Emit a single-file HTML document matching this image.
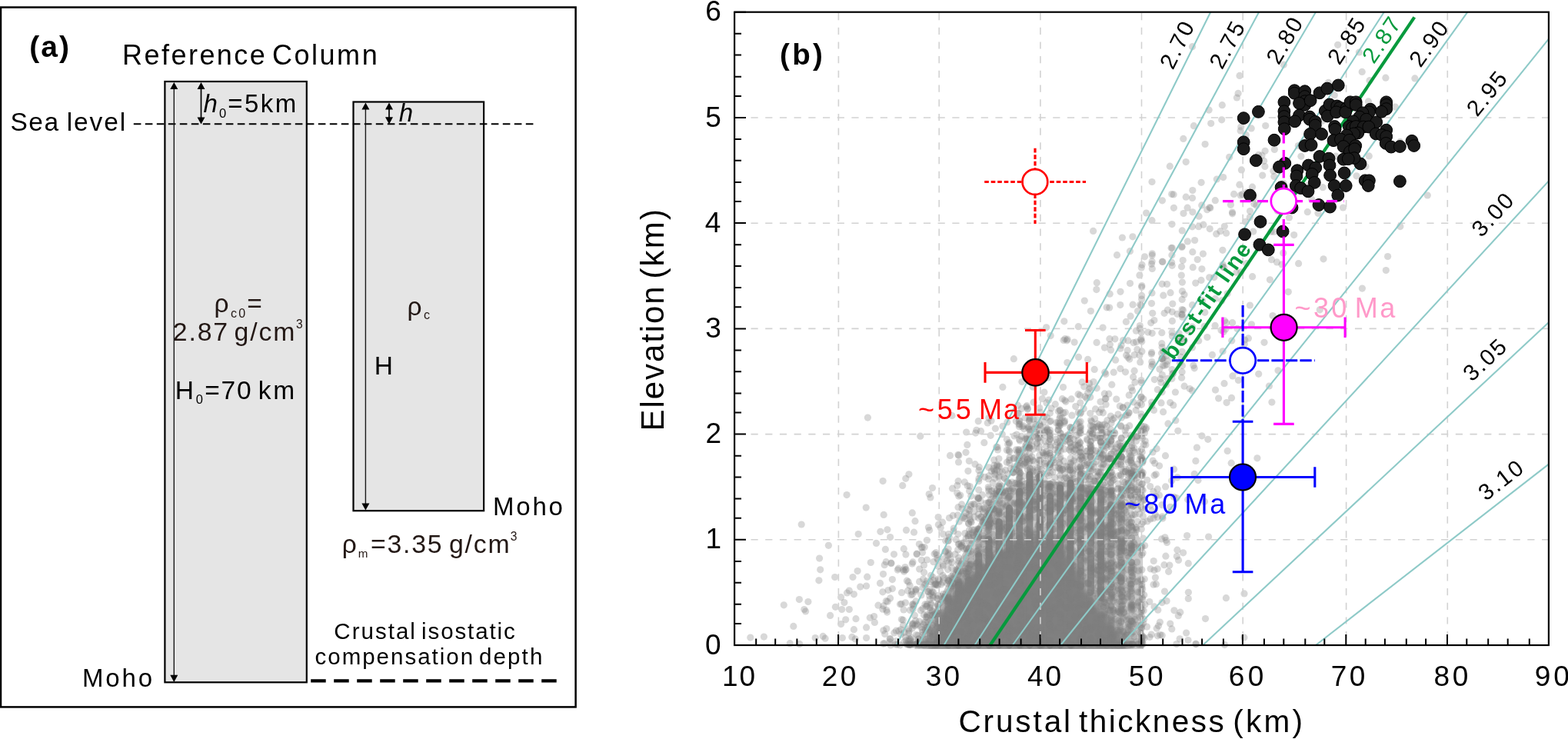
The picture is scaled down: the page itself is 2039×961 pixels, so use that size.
<!DOCTYPE html>
<html lang="en"><head><meta charset="utf-8"><title>Crustal isostasy: elevation vs crustal thickness</title>
<style>html,body{margin:0;padding:0;background:#fff;overflow:hidden}svg{display:block}text{white-space:pre}</style></head>
<body>
<svg width="2039" height="961" viewBox="0 0 2039 961" font-family='"Liberation Sans", sans-serif'>
<defs><filter id="bl" x="-10%" y="-10%" width="120%" height="120%"><feGaussianBlur stdDeviation="5"/></filter><clipPath id="cp"><rect x="950" y="10" width="1070" height="834"/></clipPath></defs>
<rect width="2039" height="961" fill="#fff"/>
<g id="panel-a">
<rect x="1" y="9.5" width="747.6" height="909.9" fill="none" stroke="#000" stroke-width="2.5"/>
<g fill="#e5e5e5" stroke="#000" stroke-width="2.2"><rect x="214.4" y="106" width="184.4" height="781.3"/><rect x="459.5" y="132.5" width="169.6" height="531.7"/></g>
<path d="M173.8 161.3H698.5" stroke="#000" stroke-width="2" stroke-dasharray="9.6 5.4" fill="none"/>
<path d="M226.3 112V880M475.4 139V656" stroke="#1a1a1a" stroke-width="1.4" fill="none"/>
<path d="M261.5 112V155M506 139V155" stroke="#000" stroke-width="1.7" fill="none"/>
<path d="M221.3 116.1L231.3 116.1L226.3 106.9ZM221.3 877.8L231.3 877.8L226.3 887.0ZM256.5 116.1L266.5 116.1L261.5 106.9ZM256.5 152.4L266.5 152.4L261.5 161.6ZM470.4 142.6L480.4 142.6L475.4 133.4ZM470.4 654.4L480.4 654.4L475.4 663.6ZM501.0 142.6L511.0 142.6L506.0 133.4ZM501.0 152.3L511.0 152.3L506.0 161.5Z" fill="#000"/>
<path d="M404.2 885.3H724" stroke="#000" stroke-width="4.2" stroke-dasharray="19.5 10.5" fill="none"/>
</g>
<g id="panel-b">
<g clip-path="url(#cp)"><path filter="url(#bl2)" d="M1188.1 845.9L1239.7 743L1293.9 640.1L1338.9 622.2L1439.5 633.2L1466 660.6L1485.9 708.7L1487.2 845.9Z" fill="#808080" fill-opacity=".42"/><path filter="url(#bl)" d="M1202.6 845.9L1222.5 797.8L1246.3 756.7L1272.8 740.2L1299.2 715.5L1325.7 701.8L1378.7 701.8L1394.5 729.2L1411.7 763.5L1431.6 789.6L1451.5 814.3L1470 845.9Z" fill="#808080"/></g>
<path d="M1246.3 760.1V839M1259.5 753.9V839M1272.8 722.4V839M1286 701.8V839M1299.2 678.5V839M1312.5 660.6V839M1325.7 638.7V839M1338.9 616.7V839M1352.2 619.5V839M1365.4 645.5V839M1378.7 634.6V839M1391.9 627.7V839" stroke="#808080" stroke-opacity=".88" stroke-width="9" stroke-linecap="round" fill="none"/>
<path d="M1405.1 616.7V763.5M1418.4 642.8V770.4M1431.6 640.1V777.3" stroke="#808080" stroke-opacity=".75" stroke-width="9" stroke-linecap="round" fill="none"/>
<path d="M1444.8 640.1V763.5M1458.1 646.9V756.7M1233.1 777.3V839" stroke="#808080" stroke-opacity=".45" stroke-width="9" stroke-linecap="round" fill="none"/>
<g class="s" fill="#7d7d7d" fill-opacity=".3"><circle cx="975.8" cy="829.1" r="4.6"/><circle cx="993.4" cy="828.1" r="4.6"/><circle cx="1031.8" cy="814.4" r="4.6"/><circle cx="1019.3" cy="786.8" r="4.6"/><circle cx="1039.4" cy="779.6" r="4.6"/><circle cx="1050.9" cy="782.5" r="4.6"/><circle cx="1045.8" cy="792.5" r="4.6"/><circle cx="1047.6" cy="795" r="4.6"/><circle cx="1042.2" cy="682" r="4.6"/><circle cx="1060.2" cy="829.5" r="4.6"/><circle cx="1070.2" cy="827.4" r="4.6"/><circle cx="1073.1" cy="830.2" r="4.6"/><circle cx="1027.2" cy="836.7" r="4.6"/><circle cx="1039.7" cy="837.4" r="4.6"/><circle cx="1065.6" cy="726.1" r="4.6"/><circle cx="1066.7" cy="740.8" r="4.6"/><circle cx="1064.9" cy="754.8" r="4.6"/><circle cx="1077.4" cy="709.3" r="4.6"/><circle cx="1085.7" cy="750.5" r="4.6"/><circle cx="1101.1" cy="643.6" r="4.6"/><circle cx="1093.6" cy="776.7" r="4.6"/><circle cx="1086.4" cy="789.3" r="4.6"/><circle cx="1079.6" cy="800.4" r="4.6"/><circle cx="1094.7" cy="792.5" r="4.6"/><circle cx="1104.3" cy="792.5" r="4.6"/><circle cx="1097.9" cy="783.6" r="4.6"/><circle cx="1101.5" cy="771" r="4.6"/><circle cx="1104.3" cy="768.1" r="4.6"/><circle cx="1110.4" cy="772.8" r="4.6"/><circle cx="1109" cy="750.5" r="4.6"/><circle cx="1115.1" cy="742.6" r="4.6"/><circle cx="1118.7" cy="763.1" r="4.6"/><circle cx="1126.6" cy="762" r="4.6"/><circle cx="1127.7" cy="750.2" r="4.6"/><circle cx="1132.3" cy="731.5" r="4.6"/><circle cx="1116.2" cy="694.5" r="4.6"/><circle cx="1126.2" cy="660.1" r="4.6"/><circle cx="1128.4" cy="543.1" r="4.6"/><circle cx="1093.6" cy="811.6" r="4.6"/><circle cx="1099.7" cy="805.8" r="4.6"/><circle cx="1113" cy="804.7" r="4.6"/><circle cx="1095.4" cy="829.5" r="4.6"/><circle cx="1107.9" cy="828.4" r="4.6"/><circle cx="1110.4" cy="818.7" r="4.6"/><circle cx="1112.2" cy="830.9" r="4.6"/><circle cx="1126.6" cy="815.9" r="4.6"/><circle cx="1126.6" cy="829.5" r="4.6"/><circle cx="1131.3" cy="803.3" r="4.6"/><circle cx="1136.6" cy="801.5" r="4.6"/><circle cx="1137.4" cy="809.4" r="4.6"/><circle cx="1142" cy="787.2" r="4.6"/><circle cx="1144.5" cy="758.4" r="4.6"/><circle cx="1148.5" cy="746.6" r="4.6"/><circle cx="1139.5" cy="706.4" r="4.6"/><circle cx="1144.9" cy="691.3" r="4.6"/><circle cx="1149.2" cy="669.4" r="4.6"/><circle cx="1148.1" cy="625.6" r="4.6"/><circle cx="1550.5" cy="60.7" r="4.6"/><circle cx="1739.6" cy="58.3" r="4.6"/><circle cx="1767.4" cy="68" r="4.6"/><circle cx="1669.3" cy="84.2" r="4.6"/><circle cx="1771.2" cy="93.4" r="4.6"/><circle cx="1612" cy="98.4" r="4.6"/><circle cx="1781" cy="104.7" r="4.6"/><circle cx="1801.9" cy="101.2" r="4.6"/><circle cx="1839.9" cy="101.9" r="4.6"/><circle cx="1727.4" cy="107.4" r="4.6"/><circle cx="1610.1" cy="121.4" r="4.6"/><circle cx="1608.4" cy="127" r="4.6"/><circle cx="1735.3" cy="123.7" r="4.6"/><circle cx="1779.4" cy="131.9" r="4.6"/><circle cx="1589.3" cy="136.7" r="4.6"/><circle cx="1768.3" cy="140.8" r="4.6"/><circle cx="1814.4" cy="139" r="4.6"/><circle cx="1572.1" cy="143.1" r="4.6"/><circle cx="1690.9" cy="144" r="4.6"/><circle cx="1588.7" cy="155.8" r="4.6"/><circle cx="1719.1" cy="157.4" r="4.6"/><circle cx="1552.4" cy="163.7" r="4.6"/><circle cx="1574.7" cy="160.5" r="4.6"/><circle cx="1613.7" cy="165" r="4.6"/><circle cx="1645.7" cy="163.5" r="4.6"/><circle cx="1675.5" cy="164.4" r="4.6"/><circle cx="1613.1" cy="169.9" r="4.6"/><circle cx="1627.2" cy="166.9" r="4.6"/><circle cx="1620.2" cy="175.4" r="4.6"/><circle cx="1739.4" cy="177.1" r="4.6"/><circle cx="1538.8" cy="180.4" r="4.6"/><circle cx="1567.1" cy="187.5" r="4.6"/><circle cx="1688.3" cy="189.5" r="4.6"/><circle cx="1820.6" cy="184.4" r="4.6"/><circle cx="1657.3" cy="194.5" r="4.6"/><circle cx="1636.7" cy="201.3" r="4.6"/><circle cx="1645.1" cy="196.3" r="4.6"/><circle cx="1749.2" cy="200.8" r="4.6"/><circle cx="1598.6" cy="204.3" r="4.6"/><circle cx="1641" cy="202.2" r="4.6"/><circle cx="1691.9" cy="203.3" r="4.6"/><circle cx="1737.1" cy="203.1" r="4.6"/><circle cx="1748.9" cy="203.8" r="4.6"/><circle cx="1780.3" cy="202.9" r="4.6"/><circle cx="1542.2" cy="210.6" r="4.6"/><circle cx="1632.5" cy="208.7" r="4.6"/><circle cx="1643.6" cy="209.3" r="4.6"/><circle cx="1670.6" cy="209.7" r="4.6"/><circle cx="1521.3" cy="216.2" r="4.6"/><circle cx="1644.9" cy="216.5" r="4.6"/><circle cx="1775.9" cy="216.6" r="4.6"/><circle cx="1614.4" cy="220.9" r="4.6"/><circle cx="1655.8" cy="222.3" r="4.6"/><circle cx="1709.2" cy="221.2" r="4.6"/><circle cx="1590.7" cy="230.6" r="4.6"/><circle cx="1641.7" cy="228.1" r="4.6"/><circle cx="1656.8" cy="229.5" r="4.6"/><circle cx="1764" cy="228.8" r="4.6"/><circle cx="1498" cy="236.5" r="4.6"/><circle cx="1562.1" cy="237.3" r="4.6"/><circle cx="1582.3" cy="233" r="4.6"/><circle cx="1611.9" cy="240.2" r="4.6"/><circle cx="1628.5" cy="243.2" r="4.6"/><circle cx="1669.1" cy="238.4" r="4.6"/><circle cx="1699.9" cy="241.7" r="4.6"/><circle cx="1720.2" cy="243.7" r="4.6"/><circle cx="1550.8" cy="247.6" r="4.6"/><circle cx="1738.8" cy="244.5" r="4.6"/><circle cx="1523.7" cy="252.5" r="4.6"/><circle cx="1526.1" cy="252.9" r="4.6"/><circle cx="1604.6" cy="252.4" r="4.6"/><circle cx="1613.2" cy="253.9" r="4.6"/><circle cx="1615.6" cy="252.7" r="4.6"/><circle cx="1621.3" cy="250" r="4.6"/><circle cx="1856.3" cy="254" r="4.6"/><circle cx="1511.4" cy="260.8" r="4.6"/><circle cx="1542.2" cy="256.2" r="4.6"/><circle cx="1550.5" cy="257.5" r="4.6"/><circle cx="1580.3" cy="260.7" r="4.6"/><circle cx="1630.1" cy="258.1" r="4.6"/><circle cx="1705.6" cy="259" r="4.6"/><circle cx="1562.7" cy="266.9" r="4.6"/><circle cx="1600.4" cy="266.3" r="4.6"/><circle cx="1630.8" cy="265.2" r="4.6"/><circle cx="1633.9" cy="267.1" r="4.6"/><circle cx="1526.4" cy="270.3" r="4.6"/><circle cx="1544.1" cy="270.2" r="4.6"/><circle cx="1569.7" cy="272.7" r="4.6"/><circle cx="1572.9" cy="269.8" r="4.6"/><circle cx="1573.9" cy="270.4" r="4.6"/><circle cx="1746.5" cy="270" r="4.6"/><circle cx="1490.6" cy="277" r="4.6"/><circle cx="1539" cy="277.5" r="4.6"/><circle cx="1550.9" cy="275.8" r="4.6"/><circle cx="1602.5" cy="276.1" r="4.6"/><circle cx="1602.6" cy="277.8" r="4.6"/><circle cx="1625.5" cy="274.6" r="4.6"/><circle cx="1661.3" cy="274.2" r="4.6"/><circle cx="1700.3" cy="275.7" r="4.6"/><circle cx="1714" cy="277.3" r="4.6"/><circle cx="1559.1" cy="281.2" r="4.6"/><circle cx="1625.3" cy="282.4" r="4.6"/><circle cx="1676.4" cy="283" r="4.6"/><circle cx="1498" cy="286.7" r="4.6"/><circle cx="1524" cy="291.6" r="4.6"/><circle cx="1619.5" cy="288.3" r="4.6"/><circle cx="1550.4" cy="294.8" r="4.6"/><circle cx="1558.7" cy="294.7" r="4.6"/><circle cx="1564.9" cy="292.2" r="4.6"/><circle cx="1573.2" cy="297.6" r="4.6"/><circle cx="1592.3" cy="294.3" r="4.6"/><circle cx="1820.8" cy="294.6" r="4.6"/><circle cx="1421.6" cy="300.4" r="4.6"/><circle cx="1537.3" cy="299.9" r="4.6"/><circle cx="1586.9" cy="300.7" r="4.6"/><circle cx="1594.6" cy="303.2" r="4.6"/><circle cx="1629.7" cy="301.1" r="4.6"/><circle cx="1656.4" cy="301.4" r="4.6"/><circle cx="1652.8" cy="301.3" r="4.6"/><circle cx="1459.4" cy="309" r="4.6"/><circle cx="1472.9" cy="307.8" r="4.6"/><circle cx="1581.7" cy="304.2" r="4.6"/><circle cx="1682.7" cy="305.6" r="4.6"/><circle cx="1544.3" cy="313.9" r="4.6"/><circle cx="1553.6" cy="312.5" r="4.6"/><circle cx="1537.1" cy="320.5" r="4.6"/><circle cx="1536.8" cy="321.5" r="4.6"/><circle cx="1469.4" cy="326.7" r="4.6"/><circle cx="1523.1" cy="322.6" r="4.6"/><circle cx="1524.3" cy="322.3" r="4.6"/><circle cx="1550.8" cy="327.7" r="4.6"/><circle cx="1589.9" cy="325.3" r="4.6"/><circle cx="1452.5" cy="331.7" r="4.6"/><circle cx="1498.2" cy="331.9" r="4.6"/><circle cx="1498.3" cy="329.8" r="4.6"/><circle cx="1523.9" cy="331.7" r="4.6"/><circle cx="1564.4" cy="330.1" r="4.6"/><circle cx="1668.7" cy="328.9" r="4.6"/><circle cx="1804.6" cy="333.5" r="4.6"/><circle cx="1488.5" cy="333.8" r="4.6"/><circle cx="1538.2" cy="338.6" r="4.6"/><circle cx="1557.2" cy="337.5" r="4.6"/><circle cx="1653.5" cy="337.7" r="4.6"/><circle cx="1721" cy="336.8" r="4.6"/><circle cx="1485" cy="344.3" r="4.6"/><circle cx="1498.1" cy="339.9" r="4.6"/><circle cx="1497.5" cy="343.3" r="4.6"/><circle cx="1511.4" cy="340.2" r="4.6"/><circle cx="1511.9" cy="340.5" r="4.6"/><circle cx="1523.6" cy="341.2" r="4.6"/><circle cx="1524.2" cy="345.3" r="4.6"/><circle cx="1590.1" cy="344.1" r="4.6"/><circle cx="1620.9" cy="342.7" r="4.6"/><circle cx="1660.5" cy="340.9" r="4.6"/><circle cx="1667" cy="343.9" r="4.6"/><circle cx="1688.6" cy="342.7" r="4.6"/><circle cx="1484.3" cy="347.9" r="4.6"/><circle cx="1498.3" cy="349.4" r="4.6"/><circle cx="1536.5" cy="346.8" r="4.6"/><circle cx="1551.2" cy="347.7" r="4.6"/><circle cx="1562.9" cy="349.8" r="4.6"/><circle cx="1589.9" cy="346.8" r="4.6"/><circle cx="1591.8" cy="347.9" r="4.6"/><circle cx="1802.3" cy="351.5" r="4.6"/><circle cx="1608.1" cy="354.2" r="4.6"/><circle cx="1613.7" cy="353.9" r="4.6"/><circle cx="1481.9" cy="357.9" r="4.6"/><circle cx="1536.3" cy="358" r="4.6"/><circle cx="1572.7" cy="360.8" r="4.6"/><circle cx="1578.9" cy="360.6" r="4.6"/><circle cx="1628.6" cy="359.7" r="4.6"/><circle cx="1426.3" cy="367.7" r="4.6"/><circle cx="1469.5" cy="368.5" r="4.6"/><circle cx="1511.2" cy="369.3" r="4.6"/><circle cx="1517.5" cy="369.5" r="4.6"/><circle cx="1537.4" cy="367.1" r="4.6"/><circle cx="1554.7" cy="368.1" r="4.6"/><circle cx="1562" cy="364.4" r="4.6"/><circle cx="1651.4" cy="363.8" r="4.6"/><circle cx="1484.7" cy="373.3" r="4.6"/><circle cx="1484.8" cy="371.5" r="4.6"/><circle cx="1771.4" cy="375.1" r="4.6"/><circle cx="1425.8" cy="376.6" r="4.6"/><circle cx="1457" cy="379.3" r="4.6"/><circle cx="1498" cy="380.9" r="4.6"/><circle cx="1522" cy="380.7" r="4.6"/><circle cx="1537.4" cy="378.7" r="4.6"/><circle cx="1675.3" cy="379.6" r="4.6"/><circle cx="1443.2" cy="382.2" r="4.6"/><circle cx="1484.6" cy="384.4" r="4.6"/><circle cx="1512.8" cy="384.2" r="4.6"/><circle cx="1540" cy="383" r="4.6"/><circle cx="1596.2" cy="381.8" r="4.6"/><circle cx="1410.3" cy="391.1" r="4.6"/><circle cx="1484.6" cy="389.1" r="4.6"/><circle cx="1537.2" cy="389.4" r="4.6"/><circle cx="1563.6" cy="390.9" r="4.6"/><circle cx="1580.3" cy="388.4" r="4.6"/><circle cx="1588.8" cy="390.9" r="4.6"/><circle cx="1456.8" cy="396.6" r="4.6"/><circle cx="1473.1" cy="396.2" r="4.6"/><circle cx="1482.6" cy="396.3" r="4.6"/><circle cx="1484.1" cy="397.2" r="4.6"/><circle cx="1497.5" cy="394.6" r="4.6"/><circle cx="1524.8" cy="395.1" r="4.6"/><circle cx="1550.5" cy="396.7" r="4.6"/><circle cx="1625.4" cy="397" r="4.6"/><circle cx="1418.4" cy="404.5" r="4.6"/><circle cx="1439.1" cy="399.8" r="4.6"/><circle cx="1442.7" cy="400.1" r="4.6"/><circle cx="1479.5" cy="404.5" r="4.6"/><circle cx="1518.4" cy="403.1" r="4.6"/><circle cx="1524.2" cy="405.6" r="4.6"/><circle cx="1537.1" cy="402.5" r="4.6"/><circle cx="1538.5" cy="403.3" r="4.6"/><circle cx="1716.3" cy="402.8" r="4.6"/><circle cx="1470.1" cy="411.2" r="4.6"/><circle cx="1498.7" cy="407.3" r="4.6"/><circle cx="1514.1" cy="407.3" r="4.6"/><circle cx="1530.9" cy="408.3" r="4.6"/><circle cx="1537" cy="408.7" r="4.6"/><circle cx="1537.1" cy="409.2" r="4.6"/><circle cx="1566.8" cy="406.3" r="4.6"/><circle cx="1655" cy="410.5" r="4.6"/><circle cx="1500.9" cy="416.5" r="4.6"/><circle cx="1524.4" cy="417.4" r="4.6"/><circle cx="1537.5" cy="412.2" r="4.6"/><circle cx="1592.4" cy="417.1" r="4.6"/><circle cx="1383.8" cy="417.8" r="4.6"/><circle cx="1464.4" cy="418.4" r="4.6"/><circle cx="1482.3" cy="423.5" r="4.6"/><circle cx="1496.7" cy="419.8" r="4.6"/><circle cx="1580.1" cy="423.4" r="4.6"/><circle cx="1594.6" cy="419.7" r="4.6"/><circle cx="1602.6" cy="419.7" r="4.6"/><circle cx="1627.4" cy="421.8" r="4.6"/><circle cx="1360.6" cy="425.8" r="4.6"/><circle cx="1402.3" cy="424.7" r="4.6"/><circle cx="1434.1" cy="426.1" r="4.6"/><circle cx="1482.1" cy="427.2" r="4.6"/><circle cx="1550.5" cy="425.2" r="4.6"/><circle cx="1566.2" cy="424.3" r="4.6"/><circle cx="1588" cy="429.4" r="4.6"/><circle cx="1593.7" cy="428.1" r="4.6"/><circle cx="1608.9" cy="427.4" r="4.6"/><circle cx="1477.4" cy="430.2" r="4.6"/><circle cx="1484.2" cy="432.2" r="4.6"/><circle cx="1492.9" cy="432.1" r="4.6"/><circle cx="1498.2" cy="433.3" r="4.6"/><circle cx="1510.8" cy="432.7" r="4.6"/><circle cx="1524.1" cy="432.2" r="4.6"/><circle cx="1533.1" cy="433.6" r="4.6"/><circle cx="1544.2" cy="429.8" r="4.6"/><circle cx="1591.1" cy="431.5" r="4.6"/><circle cx="1366.2" cy="436.6" r="4.6"/><circle cx="1384.9" cy="440.7" r="4.6"/><circle cx="1388.1" cy="441.2" r="4.6"/><circle cx="1442.9" cy="440.7" r="4.6"/><circle cx="1449.9" cy="440.8" r="4.6"/><circle cx="1484" cy="440.4" r="4.6"/><circle cx="1524.4" cy="437.1" r="4.6"/><circle cx="1532.2" cy="440.2" r="4.6"/><circle cx="1537.2" cy="440.4" r="4.6"/><circle cx="1569.9" cy="438.6" r="4.6"/><circle cx="1623.4" cy="439.9" r="4.6"/><circle cx="1383.1" cy="442.5" r="4.6"/><circle cx="1387.4" cy="442.8" r="4.6"/><circle cx="1397.1" cy="445.1" r="4.6"/><circle cx="1426.1" cy="445.4" r="4.6"/><circle cx="1460.5" cy="442.6" r="4.6"/><circle cx="1466.9" cy="442.9" r="4.6"/><circle cx="1474.1" cy="445.7" r="4.6"/><circle cx="1477.6" cy="444.8" r="4.6"/><circle cx="1483.5" cy="442.1" r="4.6"/><circle cx="1484.8" cy="444.1" r="4.6"/><circle cx="1510.8" cy="446.7" r="4.6"/><circle cx="1532" cy="443.8" r="4.6"/><circle cx="1540.3" cy="442.9" r="4.6"/><circle cx="1558.7" cy="443.2" r="4.6"/><circle cx="1601.7" cy="443" r="4.6"/><circle cx="1618.7" cy="442.1" r="4.6"/><circle cx="1618.3" cy="447.6" r="4.6"/><circle cx="1644" cy="445.3" r="4.6"/><circle cx="1436.4" cy="452.1" r="4.6"/><circle cx="1443.4" cy="448" r="4.6"/><circle cx="1458.1" cy="449" r="4.6"/><circle cx="1456.9" cy="453.2" r="4.6"/><circle cx="1511.1" cy="451.5" r="4.6"/><circle cx="1550.4" cy="451.9" r="4.6"/><circle cx="1444.5" cy="455.2" r="4.6"/><circle cx="1466.2" cy="455.7" r="4.6"/><circle cx="1478.8" cy="454.4" r="4.6"/><circle cx="1484.9" cy="456.9" r="4.6"/><circle cx="1497.6" cy="458.3" r="4.6"/><circle cx="1512.7" cy="457" r="4.6"/><circle cx="1510.5" cy="459.2" r="4.6"/><circle cx="1516.3" cy="456.6" r="4.6"/><circle cx="1537.3" cy="457.3" r="4.6"/><circle cx="1590.1" cy="456.8" r="4.6"/><circle cx="1402.5" cy="464.4" r="4.6"/><circle cx="1464.6" cy="462" r="4.6"/><circle cx="1466.9" cy="464.8" r="4.6"/><circle cx="1475.1" cy="461.6" r="4.6"/><circle cx="1481.9" cy="462.1" r="4.6"/><circle cx="1497.4" cy="460.3" r="4.6"/><circle cx="1517.7" cy="462" r="4.6"/><circle cx="1535.8" cy="464.4" r="4.6"/><circle cx="1576.4" cy="461.4" r="4.6"/><circle cx="1318.3" cy="466.7" r="4.6"/><circle cx="1387.8" cy="471.5" r="4.6"/><circle cx="1414.6" cy="467.4" r="4.6"/><circle cx="1450.6" cy="468.2" r="4.6"/><circle cx="1468.8" cy="467.1" r="4.6"/><circle cx="1482.7" cy="470.9" r="4.6"/><circle cx="1497.8" cy="470.6" r="4.6"/><circle cx="1510.9" cy="466.6" r="4.6"/><circle cx="1511.4" cy="466.4" r="4.6"/><circle cx="1511.1" cy="466.7" r="4.6"/><circle cx="1512.9" cy="465.9" r="4.6"/><circle cx="1518.5" cy="469.6" r="4.6"/><circle cx="1614.9" cy="468" r="4.6"/><circle cx="1498.7" cy="473.8" r="4.6"/><circle cx="1497.6" cy="476.5" r="4.6"/><circle cx="1512.3" cy="475.3" r="4.6"/><circle cx="1514.7" cy="475.3" r="4.6"/><circle cx="1517.3" cy="474.1" r="4.6"/><circle cx="1534.3" cy="471.8" r="4.6"/><circle cx="1537.4" cy="475.4" r="4.6"/><circle cx="1551.9" cy="475.3" r="4.6"/><circle cx="1349.8" cy="479.4" r="4.6"/><circle cx="1423.2" cy="480.4" r="4.6"/><circle cx="1456.9" cy="479.4" r="4.6"/><circle cx="1475.1" cy="482.2" r="4.6"/><circle cx="1507.9" cy="480.1" r="4.6"/><circle cx="1524" cy="480.5" r="4.6"/><circle cx="1553.2" cy="478.8" r="4.6"/><circle cx="1609.4" cy="482.5" r="4.6"/><circle cx="1662" cy="481.8" r="4.6"/><circle cx="1437.9" cy="486.5" r="4.6"/><circle cx="1436.7" cy="484.2" r="4.6"/><circle cx="1448.2" cy="484.2" r="4.6"/><circle cx="1463.5" cy="483.8" r="4.6"/><circle cx="1511.3" cy="487.6" r="4.6"/><circle cx="1524.4" cy="486.5" r="4.6"/><circle cx="1525.6" cy="485.4" r="4.6"/><circle cx="1537.1" cy="483.7" r="4.6"/><circle cx="1602.9" cy="488.9" r="4.6"/><circle cx="1636.7" cy="486.3" r="4.6"/><circle cx="1362.5" cy="491.2" r="4.6"/><circle cx="1473.6" cy="490.3" r="4.6"/><circle cx="1484" cy="494.6" r="4.6"/><circle cx="1501.3" cy="493.6" r="4.6"/><circle cx="1509.3" cy="492.6" r="4.6"/><circle cx="1518.4" cy="492.3" r="4.6"/><circle cx="1523.9" cy="492.5" r="4.6"/><circle cx="1536.6" cy="491.2" r="4.6"/><circle cx="1610.4" cy="494.5" r="4.6"/><circle cx="1328.9" cy="496.5" r="4.6"/><circle cx="1407.2" cy="496.9" r="4.6"/><circle cx="1416.5" cy="498.5" r="4.6"/><circle cx="1422" cy="496.6" r="4.6"/><circle cx="1445.8" cy="500.2" r="4.6"/><circle cx="1475.9" cy="497.2" r="4.6"/><circle cx="1484.3" cy="497.6" r="4.6"/><circle cx="1509.8" cy="497.4" r="4.6"/><circle cx="1516.4" cy="500.2" r="4.6"/><circle cx="1592" cy="498.7" r="4.6"/><circle cx="1303.9" cy="503.4" r="4.6"/><circle cx="1343.1" cy="503.2" r="4.6"/><circle cx="1382.5" cy="503.6" r="4.6"/><circle cx="1409.7" cy="502.8" r="4.6"/><circle cx="1416.5" cy="506" r="4.6"/><circle cx="1417.6" cy="504.1" r="4.6"/><circle cx="1426.2" cy="504.8" r="4.6"/><circle cx="1471.3" cy="504" r="4.6"/><circle cx="1505.3" cy="506.7" r="4.6"/><circle cx="1540.1" cy="502.2" r="4.6"/><circle cx="1547.1" cy="505.5" r="4.6"/><circle cx="1580.5" cy="507.1" r="4.6"/><circle cx="1650.4" cy="502" r="4.6"/><circle cx="1357.9" cy="510.1" r="4.6"/><circle cx="1402.1" cy="512.7" r="4.6"/><circle cx="1414.7" cy="510.8" r="4.6"/><circle cx="1436.3" cy="511.9" r="4.6"/><circle cx="1441.8" cy="512.2" r="4.6"/><circle cx="1472.6" cy="508" r="4.6"/><circle cx="1511.1" cy="509.8" r="4.6"/><circle cx="1528.4" cy="510" r="4.6"/><circle cx="1550.4" cy="507.9" r="4.6"/><circle cx="1355.4" cy="518.6" r="4.6"/><circle cx="1381.4" cy="518.7" r="4.6"/><circle cx="1393.1" cy="518.9" r="4.6"/><circle cx="1404.5" cy="514.2" r="4.6"/><circle cx="1413" cy="518" r="4.6"/><circle cx="1411" cy="515.8" r="4.6"/><circle cx="1417.8" cy="516.6" r="4.6"/><circle cx="1437.3" cy="518.7" r="4.6"/><circle cx="1438" cy="518.2" r="4.6"/><circle cx="1451.7" cy="519" r="4.6"/><circle cx="1468.2" cy="513.9" r="4.6"/><circle cx="1484.2" cy="516" r="4.6"/><circle cx="1483.6" cy="516.6" r="4.6"/><circle cx="1486.8" cy="518.8" r="4.6"/><circle cx="1584.6" cy="518.1" r="4.6"/><circle cx="1601.5" cy="517.4" r="4.6"/><circle cx="1344" cy="523.2" r="4.6"/><circle cx="1361" cy="523.9" r="4.6"/><circle cx="1363.8" cy="520" r="4.6"/><circle cx="1384.7" cy="520.5" r="4.6"/><circle cx="1385.9" cy="522.3" r="4.6"/><circle cx="1404.8" cy="523.8" r="4.6"/><circle cx="1431" cy="522.5" r="4.6"/><circle cx="1473.6" cy="522.8" r="4.6"/><circle cx="1482.1" cy="523.8" r="4.6"/><circle cx="1497.6" cy="523.1" r="4.6"/><circle cx="1510" cy="523.9" r="4.6"/><circle cx="1521.7" cy="523.6" r="4.6"/><circle cx="1595.1" cy="523.6" r="4.6"/><circle cx="1653.9" cy="523.1" r="4.6"/><circle cx="1323.6" cy="527.2" r="4.6"/><circle cx="1328.5" cy="531.4" r="4.6"/><circle cx="1334.5" cy="529.1" r="4.6"/><circle cx="1335.3" cy="527.7" r="4.6"/><circle cx="1336.5" cy="531.1" r="4.6"/><circle cx="1351.8" cy="530.6" r="4.6"/><circle cx="1367.1" cy="531.1" r="4.6"/><circle cx="1372.3" cy="525.7" r="4.6"/><circle cx="1398.7" cy="528.6" r="4.6"/><circle cx="1409.2" cy="531.6" r="4.6"/><circle cx="1438.1" cy="526" r="4.6"/><circle cx="1456.3" cy="528.1" r="4.6"/><circle cx="1460.2" cy="530.1" r="4.6"/><circle cx="1460.3" cy="529.8" r="4.6"/><circle cx="1466.1" cy="527.1" r="4.6"/><circle cx="1484.5" cy="525.9" r="4.6"/><circle cx="1479.3" cy="527.3" r="4.6"/><circle cx="1497.9" cy="527.7" r="4.6"/><circle cx="1525.8" cy="526.9" r="4.6"/><circle cx="1323.4" cy="537.5" r="4.6"/><circle cx="1336.2" cy="532.3" r="4.6"/><circle cx="1352.6" cy="536.1" r="4.6"/><circle cx="1365.4" cy="537.3" r="4.6"/><circle cx="1376.2" cy="534.7" r="4.6"/><circle cx="1382.7" cy="536.9" r="4.6"/><circle cx="1385.3" cy="536.3" r="4.6"/><circle cx="1378.1" cy="533.2" r="4.6"/><circle cx="1378.6" cy="533.9" r="4.6"/><circle cx="1405.7" cy="536.4" r="4.6"/><circle cx="1402.2" cy="536.5" r="4.6"/><circle cx="1417.7" cy="537.5" r="4.6"/><circle cx="1424.5" cy="531.9" r="4.6"/><circle cx="1432.1" cy="532.2" r="4.6"/><circle cx="1429.6" cy="536.4" r="4.6"/><circle cx="1434.4" cy="536.8" r="4.6"/><circle cx="1467.8" cy="536.5" r="4.6"/><circle cx="1468.1" cy="537" r="4.6"/><circle cx="1477.1" cy="533.5" r="4.6"/><circle cx="1500.5" cy="533.4" r="4.6"/><circle cx="1512.6" cy="535.7" r="4.6"/><circle cx="1238" cy="540.5" r="4.6"/><circle cx="1285.9" cy="543.6" r="4.6"/><circle cx="1324.8" cy="537.8" r="4.6"/><circle cx="1332.8" cy="543.5" r="4.6"/><circle cx="1338.9" cy="543.3" r="4.6"/><circle cx="1357.9" cy="541.8" r="4.6"/><circle cx="1361.3" cy="542.8" r="4.6"/><circle cx="1378.6" cy="541.4" r="4.6"/><circle cx="1381.1" cy="543.3" r="4.6"/><circle cx="1393.9" cy="540.2" r="4.6"/><circle cx="1404.6" cy="538.1" r="4.6"/><circle cx="1444.4" cy="541.1" r="4.6"/><circle cx="1449.2" cy="543.6" r="4.6"/><circle cx="1454" cy="538.8" r="4.6"/><circle cx="1463.6" cy="540.3" r="4.6"/><circle cx="1458.4" cy="543.2" r="4.6"/><circle cx="1466.1" cy="539.8" r="4.6"/><circle cx="1484" cy="538.4" r="4.6"/><circle cx="1484.4" cy="542.2" r="4.6"/><circle cx="1272.2" cy="547.7" r="4.6"/><circle cx="1289" cy="547.2" r="4.6"/><circle cx="1309.8" cy="548.9" r="4.6"/><circle cx="1321.3" cy="547.8" r="4.6"/><circle cx="1325.3" cy="547.8" r="4.6"/><circle cx="1325.7" cy="546.8" r="4.6"/><circle cx="1338.4" cy="547.4" r="4.6"/><circle cx="1343.9" cy="545.2" r="4.6"/><circle cx="1338.5" cy="546.7" r="4.6"/><circle cx="1339.2" cy="545" r="4.6"/><circle cx="1348.6" cy="545.8" r="4.6"/><circle cx="1356.7" cy="548.6" r="4.6"/><circle cx="1365.2" cy="548.4" r="4.6"/><circle cx="1366.2" cy="547.3" r="4.6"/><circle cx="1376" cy="549.6" r="4.6"/><circle cx="1377.9" cy="543.9" r="4.6"/><circle cx="1383.8" cy="548.6" r="4.6"/><circle cx="1384.6" cy="547.5" r="4.6"/><circle cx="1405.2" cy="548.2" r="4.6"/><circle cx="1403.2" cy="549.1" r="4.6"/><circle cx="1419.5" cy="548.3" r="4.6"/><circle cx="1418.6" cy="546.6" r="4.6"/><circle cx="1423.6" cy="544.6" r="4.6"/><circle cx="1439.8" cy="546.7" r="4.6"/><circle cx="1446.8" cy="545.6" r="4.6"/><circle cx="1528.8" cy="546.7" r="4.6"/><circle cx="1284.3" cy="550" r="4.6"/><circle cx="1303.9" cy="554.3" r="4.6"/><circle cx="1325.3" cy="554.8" r="4.6"/><circle cx="1325.9" cy="551.2" r="4.6"/><circle cx="1329.2" cy="555" r="4.6"/><circle cx="1330.6" cy="553.7" r="4.6"/><circle cx="1325.1" cy="551.9" r="4.6"/><circle cx="1336.8" cy="555.7" r="4.6"/><circle cx="1338.4" cy="555.3" r="4.6"/><circle cx="1346.1" cy="551.8" r="4.6"/><circle cx="1346.9" cy="554.5" r="4.6"/><circle cx="1351.9" cy="552.4" r="4.6"/><circle cx="1352.5" cy="553.8" r="4.6"/><circle cx="1352.3" cy="551.7" r="4.6"/><circle cx="1373.5" cy="549.7" r="4.6"/><circle cx="1379.1" cy="552.6" r="4.6"/><circle cx="1377.5" cy="554.4" r="4.6"/><circle cx="1377.9" cy="550.5" r="4.6"/><circle cx="1376.3" cy="554" r="4.6"/><circle cx="1384.2" cy="550.2" r="4.6"/><circle cx="1378.4" cy="550.4" r="4.6"/><circle cx="1400.6" cy="550.8" r="4.6"/><circle cx="1405.2" cy="554.4" r="4.6"/><circle cx="1418.4" cy="553.6" r="4.6"/><circle cx="1420.8" cy="554.4" r="4.6"/><circle cx="1425.1" cy="555.6" r="4.6"/><circle cx="1427.2" cy="551.1" r="4.6"/><circle cx="1427.1" cy="554.6" r="4.6"/><circle cx="1433.4" cy="552.5" r="4.6"/><circle cx="1429.7" cy="552.6" r="4.6"/><circle cx="1431.9" cy="555.6" r="4.6"/><circle cx="1439.3" cy="554.2" r="4.6"/><circle cx="1436.5" cy="551.9" r="4.6"/><circle cx="1445.1" cy="550.1" r="4.6"/><circle cx="1457.7" cy="554.6" r="4.6"/><circle cx="1457.2" cy="553.4" r="4.6"/><circle cx="1468.8" cy="553.7" r="4.6"/><circle cx="1484.4" cy="553.9" r="4.6"/><circle cx="1487.9" cy="554.6" r="4.6"/><circle cx="1519" cy="550.9" r="4.6"/><circle cx="1269.8" cy="559.3" r="4.6"/><circle cx="1275.5" cy="560.7" r="4.6"/><circle cx="1294.4" cy="557.3" r="4.6"/><circle cx="1331.6" cy="557.8" r="4.6"/><circle cx="1337.5" cy="557.5" r="4.6"/><circle cx="1339.6" cy="558.7" r="4.6"/><circle cx="1344.8" cy="557.8" r="4.6"/><circle cx="1339.6" cy="561.2" r="4.6"/><circle cx="1351.7" cy="559.5" r="4.6"/><circle cx="1360.2" cy="556" r="4.6"/><circle cx="1362.1" cy="558.1" r="4.6"/><circle cx="1361.4" cy="559.6" r="4.6"/><circle cx="1358.6" cy="560.1" r="4.6"/><circle cx="1365.4" cy="559.4" r="4.6"/><circle cx="1376.3" cy="559.5" r="4.6"/><circle cx="1375.9" cy="559.1" r="4.6"/><circle cx="1392" cy="555.9" r="4.6"/><circle cx="1391.9" cy="555.7" r="4.6"/><circle cx="1396.9" cy="559.1" r="4.6"/><circle cx="1394.4" cy="556.5" r="4.6"/><circle cx="1403.9" cy="556.2" r="4.6"/><circle cx="1405.2" cy="559.9" r="4.6"/><circle cx="1405.3" cy="556.5" r="4.6"/><circle cx="1422.3" cy="555.8" r="4.6"/><circle cx="1421.8" cy="558.5" r="4.6"/><circle cx="1418.3" cy="560.1" r="4.6"/><circle cx="1432.1" cy="558.1" r="4.6"/><circle cx="1432" cy="557.3" r="4.6"/><circle cx="1444.2" cy="558.3" r="4.6"/><circle cx="1464.6" cy="556.2" r="4.6"/><circle cx="1463.2" cy="560" r="4.6"/><circle cx="1483.3" cy="560.2" r="4.6"/><circle cx="1486.9" cy="558.3" r="4.6"/><circle cx="1484" cy="561.1" r="4.6"/><circle cx="1490" cy="558.1" r="4.6"/><circle cx="1490.7" cy="556.2" r="4.6"/><circle cx="1531.8" cy="560.3" r="4.6"/><circle cx="1196.8" cy="567.2" r="4.6"/><circle cx="1256.6" cy="562" r="4.6"/><circle cx="1268.6" cy="563.1" r="4.6"/><circle cx="1288.2" cy="566.3" r="4.6"/><circle cx="1303.3" cy="564.7" r="4.6"/><circle cx="1319" cy="566.9" r="4.6"/><circle cx="1322.1" cy="565.1" r="4.6"/><circle cx="1328.1" cy="567.3" r="4.6"/><circle cx="1339.3" cy="564.9" r="4.6"/><circle cx="1350.1" cy="565" r="4.6"/><circle cx="1348.5" cy="562.7" r="4.6"/><circle cx="1352.3" cy="563.6" r="4.6"/><circle cx="1351.8" cy="564.5" r="4.6"/><circle cx="1358.7" cy="562" r="4.6"/><circle cx="1358.7" cy="566.2" r="4.6"/><circle cx="1365.4" cy="567.1" r="4.6"/><circle cx="1363.7" cy="561.8" r="4.6"/><circle cx="1365.7" cy="563.4" r="4.6"/><circle cx="1378.9" cy="563" r="4.6"/><circle cx="1365.4" cy="566" r="4.6"/><circle cx="1379.2" cy="563.9" r="4.6"/><circle cx="1386.6" cy="567.1" r="4.6"/><circle cx="1388.9" cy="565.6" r="4.6"/><circle cx="1391.9" cy="562.4" r="4.6"/><circle cx="1391.5" cy="567" r="4.6"/><circle cx="1403.7" cy="563.8" r="4.6"/><circle cx="1399.8" cy="566.3" r="4.6"/><circle cx="1405.2" cy="563.2" r="4.6"/><circle cx="1404.4" cy="562.1" r="4.6"/><circle cx="1418.6" cy="567.4" r="4.6"/><circle cx="1416.7" cy="564.2" r="4.6"/><circle cx="1421.2" cy="563.7" r="4.6"/><circle cx="1418.1" cy="562.2" r="4.6"/><circle cx="1420.1" cy="564.1" r="4.6"/><circle cx="1426.7" cy="566.2" r="4.6"/><circle cx="1433.5" cy="562.3" r="4.6"/><circle cx="1431.7" cy="562.1" r="4.6"/><circle cx="1433.1" cy="563.9" r="4.6"/><circle cx="1433.9" cy="566.4" r="4.6"/><circle cx="1439" cy="562.3" r="4.6"/><circle cx="1443.1" cy="563.2" r="4.6"/><circle cx="1444.8" cy="564.4" r="4.6"/><circle cx="1449" cy="562" r="4.6"/><circle cx="1449.7" cy="563.6" r="4.6"/><circle cx="1448.2" cy="566.6" r="4.6"/><circle cx="1447.1" cy="564.4" r="4.6"/><circle cx="1463.7" cy="565.4" r="4.6"/><circle cx="1470.6" cy="566.2" r="4.6"/><circle cx="1478.8" cy="567" r="4.6"/><circle cx="1488.5" cy="562.9" r="4.6"/><circle cx="1484.8" cy="563.5" r="4.6"/><circle cx="1484.6" cy="566.8" r="4.6"/><circle cx="1562.9" cy="566.8" r="4.6"/><circle cx="1309.3" cy="571.3" r="4.6"/><circle cx="1326.1" cy="573.1" r="4.6"/><circle cx="1325.6" cy="571.5" r="4.6"/><circle cx="1335.1" cy="569.5" r="4.6"/><circle cx="1334.6" cy="571" r="4.6"/><circle cx="1335.8" cy="571.5" r="4.6"/><circle cx="1333.2" cy="570.4" r="4.6"/><circle cx="1339.9" cy="572.9" r="4.6"/><circle cx="1343.2" cy="567.8" r="4.6"/><circle cx="1339" cy="571.7" r="4.6"/><circle cx="1349.8" cy="570.3" r="4.6"/><circle cx="1347.4" cy="567.8" r="4.6"/><circle cx="1351.2" cy="568.7" r="4.6"/><circle cx="1352.8" cy="569.2" r="4.6"/><circle cx="1365.5" cy="570.8" r="4.6"/><circle cx="1365.4" cy="571.8" r="4.6"/><circle cx="1373.1" cy="571.2" r="4.6"/><circle cx="1378.2" cy="573.3" r="4.6"/><circle cx="1382.8" cy="568.5" r="4.6"/><circle cx="1378.9" cy="567.8" r="4.6"/><circle cx="1382" cy="568" r="4.6"/><circle cx="1385.6" cy="573.4" r="4.6"/><circle cx="1389" cy="567.8" r="4.6"/><circle cx="1388.9" cy="572.1" r="4.6"/><circle cx="1391.7" cy="570.7" r="4.6"/><circle cx="1396.5" cy="571.3" r="4.6"/><circle cx="1402" cy="572.5" r="4.6"/><circle cx="1414.2" cy="572.5" r="4.6"/><circle cx="1413.4" cy="571" r="4.6"/><circle cx="1418.9" cy="573.7" r="4.6"/><circle cx="1426.7" cy="569.2" r="4.6"/><circle cx="1423.5" cy="569.4" r="4.6"/><circle cx="1430.7" cy="569.2" r="4.6"/><circle cx="1444.8" cy="568.2" r="4.6"/><circle cx="1431.7" cy="567.8" r="4.6"/><circle cx="1438.9" cy="568.3" r="4.6"/><circle cx="1444.6" cy="573.6" r="4.6"/><circle cx="1444.9" cy="572" r="4.6"/><circle cx="1444.9" cy="573.2" r="4.6"/><circle cx="1458.4" cy="570.1" r="4.6"/><circle cx="1457.9" cy="569.7" r="4.6"/><circle cx="1471.6" cy="570.7" r="4.6"/><circle cx="1471.9" cy="568.2" r="4.6"/><circle cx="1478.7" cy="567.8" r="4.6"/><circle cx="1477" cy="568.3" r="4.6"/><circle cx="1477.5" cy="573.6" r="4.6"/><circle cx="1485.4" cy="569.8" r="4.6"/><circle cx="1489.2" cy="573.5" r="4.6"/><circle cx="1570.8" cy="571.3" r="4.6"/><circle cx="1257.8" cy="578.4" r="4.6"/><circle cx="1279.8" cy="575.7" r="4.6"/><circle cx="1310.6" cy="577.8" r="4.6"/><circle cx="1312.5" cy="576.9" r="4.6"/><circle cx="1312.2" cy="575.5" r="4.6"/><circle cx="1333.6" cy="579.4" r="4.6"/><circle cx="1334.8" cy="577.7" r="4.6"/><circle cx="1338.5" cy="578.3" r="4.6"/><circle cx="1352.6" cy="574.8" r="4.6"/><circle cx="1348.4" cy="576.9" r="4.6"/><circle cx="1348" cy="575.9" r="4.6"/><circle cx="1359.9" cy="574.3" r="4.6"/><circle cx="1365.9" cy="578.9" r="4.6"/><circle cx="1364.2" cy="574.3" r="4.6"/><circle cx="1378.9" cy="576.1" r="4.6"/><circle cx="1374.5" cy="575" r="4.6"/><circle cx="1372.8" cy="579.1" r="4.6"/><circle cx="1378.7" cy="579.7" r="4.6"/><circle cx="1391.4" cy="575.8" r="4.6"/><circle cx="1382" cy="575.8" r="4.6"/><circle cx="1391.3" cy="575.4" r="4.6"/><circle cx="1396.9" cy="578.5" r="4.6"/><circle cx="1404.8" cy="575.3" r="4.6"/><circle cx="1399.1" cy="579.1" r="4.6"/><circle cx="1404.4" cy="576.4" r="4.6"/><circle cx="1401.6" cy="579.4" r="4.6"/><circle cx="1402.5" cy="578.2" r="4.6"/><circle cx="1417.4" cy="578.4" r="4.6"/><circle cx="1418.3" cy="574.3" r="4.6"/><circle cx="1431.8" cy="574.6" r="4.6"/><circle cx="1431.4" cy="575.7" r="4.6"/><circle cx="1418.2" cy="579.2" r="4.6"/><circle cx="1431.3" cy="574.7" r="4.6"/><circle cx="1431.3" cy="574" r="4.6"/><circle cx="1440.4" cy="578.1" r="4.6"/><circle cx="1444.9" cy="577.5" r="4.6"/><circle cx="1439.6" cy="573.8" r="4.6"/><circle cx="1439.7" cy="574.9" r="4.6"/><circle cx="1438.3" cy="579.4" r="4.6"/><circle cx="1456.1" cy="575.8" r="4.6"/><circle cx="1453.7" cy="577.3" r="4.6"/><circle cx="1464.4" cy="577.5" r="4.6"/><circle cx="1471.2" cy="574.6" r="4.6"/><circle cx="1487.3" cy="577.9" r="4.6"/><circle cx="1489.8" cy="578.5" r="4.6"/><circle cx="1295.7" cy="581.3" r="4.6"/><circle cx="1297.5" cy="584.9" r="4.6"/><circle cx="1297.2" cy="581.5" r="4.6"/><circle cx="1312" cy="585.6" r="4.6"/><circle cx="1309.3" cy="585.5" r="4.6"/><circle cx="1324.1" cy="584.8" r="4.6"/><circle cx="1321.3" cy="584.9" r="4.6"/><circle cx="1330.2" cy="584.6" r="4.6"/><circle cx="1325.4" cy="584.8" r="4.6"/><circle cx="1334.1" cy="582.2" r="4.6"/><circle cx="1336.3" cy="581.6" r="4.6"/><circle cx="1337.4" cy="580.3" r="4.6"/><circle cx="1342.2" cy="580" r="4.6"/><circle cx="1338.7" cy="582.6" r="4.6"/><circle cx="1343.5" cy="584.3" r="4.6"/><circle cx="1338.7" cy="581.8" r="4.6"/><circle cx="1351.8" cy="581.9" r="4.6"/><circle cx="1338.4" cy="582.9" r="4.6"/><circle cx="1350.6" cy="583.7" r="4.6"/><circle cx="1360.3" cy="580.2" r="4.6"/><circle cx="1365.8" cy="581.4" r="4.6"/><circle cx="1372.3" cy="585" r="4.6"/><circle cx="1376.5" cy="582.2" r="4.6"/><circle cx="1378.4" cy="581.4" r="4.6"/><circle cx="1384.3" cy="584.1" r="4.6"/><circle cx="1390.5" cy="584.7" r="4.6"/><circle cx="1392.7" cy="580.5" r="4.6"/><circle cx="1392.4" cy="582.1" r="4.6"/><circle cx="1397.7" cy="584.2" r="4.6"/><circle cx="1405.1" cy="582.8" r="4.6"/><circle cx="1399.8" cy="585.4" r="4.6"/><circle cx="1404.7" cy="581.9" r="4.6"/><circle cx="1418.4" cy="582.4" r="4.6"/><circle cx="1421.4" cy="585.5" r="4.6"/><circle cx="1418.1" cy="583" r="4.6"/><circle cx="1419" cy="580.4" r="4.6"/><circle cx="1434" cy="580.8" r="4.6"/><circle cx="1432.3" cy="580" r="4.6"/><circle cx="1439" cy="581.7" r="4.6"/><circle cx="1445.1" cy="581.1" r="4.6"/><circle cx="1451.6" cy="582.1" r="4.6"/><circle cx="1450.1" cy="584" r="4.6"/><circle cx="1456.8" cy="579.8" r="4.6"/><circle cx="1457.7" cy="584.8" r="4.6"/><circle cx="1459.9" cy="583.5" r="4.6"/><circle cx="1457.9" cy="580.5" r="4.6"/><circle cx="1462.4" cy="583.4" r="4.6"/><circle cx="1459.3" cy="583.3" r="4.6"/><circle cx="1472" cy="579.7" r="4.6"/><circle cx="1471.5" cy="582.6" r="4.6"/><circle cx="1474.8" cy="582.4" r="4.6"/><circle cx="1484.6" cy="584.1" r="4.6"/><circle cx="1504.1" cy="583.6" r="4.6"/><circle cx="1556.4" cy="582" r="4.6"/><circle cx="1245.9" cy="591.4" r="4.6"/><circle cx="1256" cy="588.3" r="4.6"/><circle cx="1312.7" cy="587.2" r="4.6"/><circle cx="1325.6" cy="589.6" r="4.6"/><circle cx="1325.4" cy="586.9" r="4.6"/><circle cx="1323.4" cy="588.2" r="4.6"/><circle cx="1333.1" cy="588.9" r="4.6"/><circle cx="1338.6" cy="590.1" r="4.6"/><circle cx="1356.7" cy="589" r="4.6"/><circle cx="1356.1" cy="588.4" r="4.6"/><circle cx="1361.1" cy="590.1" r="4.6"/><circle cx="1360.7" cy="587.6" r="4.6"/><circle cx="1365.1" cy="589.6" r="4.6"/><circle cx="1365" cy="589" r="4.6"/><circle cx="1375.4" cy="588.3" r="4.6"/><circle cx="1376.2" cy="586.9" r="4.6"/><circle cx="1379.2" cy="586.3" r="4.6"/><circle cx="1392.5" cy="587.1" r="4.6"/><circle cx="1396.5" cy="586.7" r="4.6"/><circle cx="1403.9" cy="588.1" r="4.6"/><circle cx="1405.3" cy="588.3" r="4.6"/><circle cx="1404.9" cy="587.7" r="4.6"/><circle cx="1417.8" cy="587.8" r="4.6"/><circle cx="1413.1" cy="586.4" r="4.6"/><circle cx="1413.5" cy="586.9" r="4.6"/><circle cx="1420" cy="590.3" r="4.6"/><circle cx="1417.9" cy="587.9" r="4.6"/><circle cx="1424.9" cy="586.1" r="4.6"/><circle cx="1418.5" cy="586.2" r="4.6"/><circle cx="1430" cy="588.7" r="4.6"/><circle cx="1432.1" cy="589.4" r="4.6"/><circle cx="1430.1" cy="590.3" r="4.6"/><circle cx="1431.4" cy="585.7" r="4.6"/><circle cx="1434.3" cy="591.3" r="4.6"/><circle cx="1445.1" cy="590.6" r="4.6"/><circle cx="1435.6" cy="586.6" r="4.6"/><circle cx="1444.9" cy="590" r="4.6"/><circle cx="1452.8" cy="589.4" r="4.6"/><circle cx="1448.7" cy="587.3" r="4.6"/><circle cx="1457.8" cy="587.4" r="4.6"/><circle cx="1468.9" cy="586.4" r="4.6"/><circle cx="1468" cy="589.8" r="4.6"/><circle cx="1475.7" cy="588.3" r="4.6"/><circle cx="1473.6" cy="585.9" r="4.6"/><circle cx="1481.9" cy="587.3" r="4.6"/><circle cx="1485.2" cy="588.1" r="4.6"/><circle cx="1499" cy="588" r="4.6"/><circle cx="1596.2" cy="586.4" r="4.6"/><circle cx="1235.5" cy="592.4" r="4.6"/><circle cx="1246.8" cy="592.2" r="4.6"/><circle cx="1298.9" cy="596.5" r="4.6"/><circle cx="1318.4" cy="595.6" r="4.6"/><circle cx="1325.7" cy="595.6" r="4.6"/><circle cx="1318.3" cy="596.4" r="4.6"/><circle cx="1313" cy="594.7" r="4.6"/><circle cx="1325.7" cy="592.4" r="4.6"/><circle cx="1323.5" cy="597.6" r="4.6"/><circle cx="1332.2" cy="596.8" r="4.6"/><circle cx="1330" cy="593.2" r="4.6"/><circle cx="1334.1" cy="594.2" r="4.6"/><circle cx="1335.9" cy="597.3" r="4.6"/><circle cx="1339.1" cy="595.9" r="4.6"/><circle cx="1336.4" cy="597.6" r="4.6"/><circle cx="1341.9" cy="593.9" r="4.6"/><circle cx="1351.8" cy="592.1" r="4.6"/><circle cx="1357.5" cy="591.9" r="4.6"/><circle cx="1359.9" cy="592.6" r="4.6"/><circle cx="1366.5" cy="596.2" r="4.6"/><circle cx="1365.4" cy="592" r="4.6"/><circle cx="1369.5" cy="595.2" r="4.6"/><circle cx="1378" cy="596.3" r="4.6"/><circle cx="1379" cy="594.4" r="4.6"/><circle cx="1392" cy="595.9" r="4.6"/><circle cx="1398.2" cy="594.7" r="4.6"/><circle cx="1405.4" cy="592.6" r="4.6"/><circle cx="1407.1" cy="595.3" r="4.6"/><circle cx="1405.2" cy="597.1" r="4.6"/><circle cx="1406.8" cy="593.5" r="4.6"/><circle cx="1411.7" cy="593.7" r="4.6"/><circle cx="1418.5" cy="593.5" r="4.6"/><circle cx="1412.3" cy="593.1" r="4.6"/><circle cx="1417.8" cy="593.9" r="4.6"/><circle cx="1418.4" cy="593.9" r="4.6"/><circle cx="1426.9" cy="593.4" r="4.6"/><circle cx="1434.7" cy="597.3" r="4.6"/><circle cx="1438.4" cy="595.5" r="4.6"/><circle cx="1435.7" cy="596" r="4.6"/><circle cx="1441" cy="593.8" r="4.6"/><circle cx="1431.3" cy="595.3" r="4.6"/><circle cx="1431.9" cy="594.6" r="4.6"/><circle cx="1444.6" cy="596.2" r="4.6"/><circle cx="1443.6" cy="596.8" r="4.6"/><circle cx="1441.5" cy="596.7" r="4.6"/><circle cx="1444.5" cy="596.4" r="4.6"/><circle cx="1441.2" cy="596.3" r="4.6"/><circle cx="1447.6" cy="596.3" r="4.6"/><circle cx="1459" cy="594.7" r="4.6"/><circle cx="1458.1" cy="596.8" r="4.6"/><circle cx="1458" cy="594.1" r="4.6"/><circle cx="1458.3" cy="593.7" r="4.6"/><circle cx="1458.3" cy="593.9" r="4.6"/><circle cx="1454.1" cy="592.9" r="4.6"/><circle cx="1454.7" cy="593.3" r="4.6"/><circle cx="1464.6" cy="597.6" r="4.6"/><circle cx="1471.6" cy="594.9" r="4.6"/><circle cx="1469.4" cy="594" r="4.6"/><circle cx="1470.7" cy="592.3" r="4.6"/><circle cx="1484.2" cy="595.5" r="4.6"/><circle cx="1482.1" cy="597.5" r="4.6"/><circle cx="1483" cy="593.5" r="4.6"/><circle cx="1485.2" cy="595.6" r="4.6"/><circle cx="1485.1" cy="597.3" r="4.6"/><circle cx="1515.5" cy="592.7" r="4.6"/><circle cx="1634.9" cy="595.8" r="4.6"/><circle cx="1246.5" cy="601" r="4.6"/><circle cx="1260.3" cy="599.5" r="4.6"/><circle cx="1268" cy="603.7" r="4.6"/><circle cx="1292.6" cy="598.1" r="4.6"/><circle cx="1312.4" cy="598.4" r="4.6"/><circle cx="1309.3" cy="601.2" r="4.6"/><circle cx="1312.6" cy="602" r="4.6"/><circle cx="1325.4" cy="600.7" r="4.6"/><circle cx="1325.7" cy="602.5" r="4.6"/><circle cx="1325.6" cy="599" r="4.6"/><circle cx="1332.4" cy="602.7" r="4.6"/><circle cx="1339.2" cy="599.6" r="4.6"/><circle cx="1333.2" cy="601.2" r="4.6"/><circle cx="1334.4" cy="601.7" r="4.6"/><circle cx="1338.4" cy="601.6" r="4.6"/><circle cx="1344.5" cy="600" r="4.6"/><circle cx="1343" cy="598.4" r="4.6"/><circle cx="1350.7" cy="598.3" r="4.6"/><circle cx="1352.2" cy="603" r="4.6"/><circle cx="1352.5" cy="598" r="4.6"/><circle cx="1352.3" cy="599.3" r="4.6"/><circle cx="1365.7" cy="602.9" r="4.6"/><circle cx="1359.2" cy="602.4" r="4.6"/><circle cx="1360.2" cy="600.1" r="4.6"/><circle cx="1367.2" cy="601.2" r="4.6"/><circle cx="1371.3" cy="601.4" r="4.6"/><circle cx="1369.4" cy="598.3" r="4.6"/><circle cx="1377.3" cy="601.8" r="4.6"/><circle cx="1383.5" cy="599.7" r="4.6"/><circle cx="1392.4" cy="601.5" r="4.6"/><circle cx="1392.2" cy="603.1" r="4.6"/><circle cx="1396.5" cy="599.3" r="4.6"/><circle cx="1394.8" cy="602.9" r="4.6"/><circle cx="1403.2" cy="599.1" r="4.6"/><circle cx="1407.4" cy="598.2" r="4.6"/><circle cx="1410.3" cy="602.3" r="4.6"/><circle cx="1416.8" cy="602.4" r="4.6"/><circle cx="1414" cy="601.5" r="4.6"/><circle cx="1419.4" cy="598.3" r="4.6"/><circle cx="1422.2" cy="602.5" r="4.6"/><circle cx="1431.5" cy="603.4" r="4.6"/><circle cx="1425.3" cy="600.4" r="4.6"/><circle cx="1435.9" cy="603.6" r="4.6"/><circle cx="1439.6" cy="601" r="4.6"/><circle cx="1451" cy="600.1" r="4.6"/><circle cx="1453.4" cy="603.3" r="4.6"/><circle cx="1457.3" cy="603.6" r="4.6"/><circle cx="1457.7" cy="600.8" r="4.6"/><circle cx="1467.1" cy="601.2" r="4.6"/><circle cx="1470.1" cy="599.1" r="4.6"/><circle cx="1470.8" cy="601.3" r="4.6"/><circle cx="1471" cy="598.4" r="4.6"/><circle cx="1471.8" cy="602.4" r="4.6"/><circle cx="1485.1" cy="599.8" r="4.6"/><circle cx="1478.8" cy="603.5" r="4.6"/><circle cx="1486" cy="598.8" r="4.6"/><circle cx="1485.2" cy="602" r="4.6"/><circle cx="1486.4" cy="599.9" r="4.6"/><circle cx="1499.2" cy="599" r="4.6"/><circle cx="1501.7" cy="602.5" r="4.6"/><circle cx="1554.9" cy="599.4" r="4.6"/><circle cx="1601.2" cy="602.2" r="4.6"/><circle cx="1273.3" cy="607.4" r="4.6"/><circle cx="1285.7" cy="607.8" r="4.6"/><circle cx="1296.6" cy="606" r="4.6"/><circle cx="1292.9" cy="605" r="4.6"/><circle cx="1291.9" cy="609.4" r="4.6"/><circle cx="1296.7" cy="604.5" r="4.6"/><circle cx="1299.5" cy="606.8" r="4.6"/><circle cx="1298.9" cy="605.5" r="4.6"/><circle cx="1314.3" cy="609.5" r="4.6"/><circle cx="1319.4" cy="607.1" r="4.6"/><circle cx="1318.3" cy="609.6" r="4.6"/><circle cx="1325.6" cy="608.6" r="4.6"/><circle cx="1325.3" cy="605.5" r="4.6"/><circle cx="1323.4" cy="604.3" r="4.6"/><circle cx="1331.2" cy="604" r="4.6"/><circle cx="1333.5" cy="605.7" r="4.6"/><circle cx="1339.2" cy="608.9" r="4.6"/><circle cx="1339.7" cy="609.6" r="4.6"/><circle cx="1342.1" cy="609.1" r="4.6"/><circle cx="1349" cy="608.2" r="4.6"/><circle cx="1352.4" cy="606.6" r="4.6"/><circle cx="1360.7" cy="606.5" r="4.6"/><circle cx="1365.2" cy="607" r="4.6"/><circle cx="1365.6" cy="604" r="4.6"/><circle cx="1365" cy="607.8" r="4.6"/><circle cx="1372.8" cy="608" r="4.6"/><circle cx="1365.2" cy="604.4" r="4.6"/><circle cx="1376.7" cy="608.5" r="4.6"/><circle cx="1378.5" cy="608.9" r="4.6"/><circle cx="1378.6" cy="603.8" r="4.6"/><circle cx="1386.5" cy="606.3" r="4.6"/><circle cx="1391.7" cy="607.2" r="4.6"/><circle cx="1387.7" cy="607.3" r="4.6"/><circle cx="1405.3" cy="608.7" r="4.6"/><circle cx="1405" cy="607.4" r="4.6"/><circle cx="1401.4" cy="607.7" r="4.6"/><circle cx="1409.9" cy="605.7" r="4.6"/><circle cx="1405" cy="606.9" r="4.6"/><circle cx="1416.2" cy="608.7" r="4.6"/><circle cx="1418.6" cy="605.3" r="4.6"/><circle cx="1413.6" cy="604.5" r="4.6"/><circle cx="1422.6" cy="607.1" r="4.6"/><circle cx="1418.1" cy="609.6" r="4.6"/><circle cx="1434.3" cy="603.7" r="4.6"/><circle cx="1434.6" cy="608.4" r="4.6"/><circle cx="1431.9" cy="608.3" r="4.6"/><circle cx="1444.7" cy="607.8" r="4.6"/><circle cx="1443.4" cy="608.5" r="4.6"/><circle cx="1451.2" cy="605.7" r="4.6"/><circle cx="1458" cy="604.8" r="4.6"/><circle cx="1468.1" cy="609.7" r="4.6"/><circle cx="1474" cy="606.3" r="4.6"/><circle cx="1475.2" cy="607.5" r="4.6"/><circle cx="1507.6" cy="605.8" r="4.6"/><circle cx="1258.9" cy="612.6" r="4.6"/><circle cx="1272.9" cy="611.7" r="4.6"/><circle cx="1289.2" cy="612.8" r="4.6"/><circle cx="1293.1" cy="612.1" r="4.6"/><circle cx="1296.2" cy="611" r="4.6"/><circle cx="1293.5" cy="613.7" r="4.6"/><circle cx="1299.8" cy="613.8" r="4.6"/><circle cx="1303.3" cy="613.3" r="4.6"/><circle cx="1307.4" cy="611.4" r="4.6"/><circle cx="1317.7" cy="614.2" r="4.6"/><circle cx="1316.8" cy="614.2" r="4.6"/><circle cx="1317.7" cy="614.8" r="4.6"/><circle cx="1325.4" cy="612.3" r="4.6"/><circle cx="1326.3" cy="614.7" r="4.6"/><circle cx="1324.8" cy="613.5" r="4.6"/><circle cx="1326.6" cy="615.6" r="4.6"/><circle cx="1321.8" cy="610.4" r="4.6"/><circle cx="1336.4" cy="611.1" r="4.6"/><circle cx="1339.2" cy="614.8" r="4.6"/><circle cx="1339.1" cy="613.3" r="4.6"/><circle cx="1343.2" cy="613.1" r="4.6"/><circle cx="1348.7" cy="611.7" r="4.6"/><circle cx="1347.6" cy="614.1" r="4.6"/><circle cx="1354.3" cy="615" r="4.6"/><circle cx="1354" cy="610.5" r="4.6"/><circle cx="1361.3" cy="615.5" r="4.6"/><circle cx="1365.7" cy="614.8" r="4.6"/><circle cx="1378.2" cy="610.1" r="4.6"/><circle cx="1369.1" cy="613.8" r="4.6"/><circle cx="1379.3" cy="612" r="4.6"/><circle cx="1381.1" cy="610.8" r="4.6"/><circle cx="1381.9" cy="610.3" r="4.6"/><circle cx="1384.7" cy="615.2" r="4.6"/><circle cx="1392" cy="611.3" r="4.6"/><circle cx="1388.8" cy="610.6" r="4.6"/><circle cx="1391.5" cy="611.5" r="4.6"/><circle cx="1395.4" cy="611.4" r="4.6"/><circle cx="1394.6" cy="614.8" r="4.6"/><circle cx="1392.2" cy="610.4" r="4.6"/><circle cx="1401.1" cy="610.1" r="4.6"/><circle cx="1404.2" cy="612.4" r="4.6"/><circle cx="1406.2" cy="610" r="4.6"/><circle cx="1406" cy="615.3" r="4.6"/><circle cx="1418.1" cy="612.5" r="4.6"/><circle cx="1420.7" cy="611.2" r="4.6"/><circle cx="1428.5" cy="613.7" r="4.6"/><circle cx="1426.4" cy="613.5" r="4.6"/><circle cx="1431.5" cy="613.9" r="4.6"/><circle cx="1429.4" cy="615.2" r="4.6"/><circle cx="1444.4" cy="614.5" r="4.6"/><circle cx="1445.8" cy="614" r="4.6"/><circle cx="1458.1" cy="609.8" r="4.6"/><circle cx="1463.4" cy="613.4" r="4.6"/><circle cx="1460.7" cy="613.4" r="4.6"/><circle cx="1464.1" cy="610.2" r="4.6"/><circle cx="1463.3" cy="613" r="4.6"/><circle cx="1467.3" cy="615.2" r="4.6"/><circle cx="1470.6" cy="614.5" r="4.6"/><circle cx="1469" cy="615.4" r="4.6"/><circle cx="1471.3" cy="611.5" r="4.6"/><circle cx="1471.4" cy="615.2" r="4.6"/><circle cx="1473.3" cy="614.9" r="4.6"/><circle cx="1473.6" cy="612.7" r="4.6"/><circle cx="1477.1" cy="613.8" r="4.6"/><circle cx="1482.2" cy="609.8" r="4.6"/><circle cx="1484.3" cy="613.6" r="4.6"/><circle cx="1486.3" cy="614.8" r="4.6"/><circle cx="1526.6" cy="610.2" r="4.6"/><circle cx="1181.9" cy="616.8" r="4.6"/><circle cx="1274.7" cy="617.6" r="4.6"/><circle cx="1280.6" cy="620.3" r="4.6"/><circle cx="1294" cy="617" r="4.6"/><circle cx="1286" cy="618.8" r="4.6"/><circle cx="1298.9" cy="621" r="4.6"/><circle cx="1306" cy="621.1" r="4.6"/><circle cx="1299.2" cy="619.2" r="4.6"/><circle cx="1311.1" cy="616.1" r="4.6"/><circle cx="1326" cy="620.6" r="4.6"/><circle cx="1325.5" cy="617.6" r="4.6"/><circle cx="1325.8" cy="621.7" r="4.6"/><circle cx="1331.5" cy="619" r="4.6"/><circle cx="1338.6" cy="617.9" r="4.6"/><circle cx="1343.2" cy="617.9" r="4.6"/><circle cx="1339.1" cy="620.9" r="4.6"/><circle cx="1350.7" cy="619.9" r="4.6"/><circle cx="1350.5" cy="620.2" r="4.6"/><circle cx="1352.5" cy="616.8" r="4.6"/><circle cx="1352.2" cy="616.6" r="4.6"/><circle cx="1363.9" cy="618.8" r="4.6"/><circle cx="1371.9" cy="621.2" r="4.6"/><circle cx="1378.5" cy="618" r="4.6"/><circle cx="1386" cy="620.8" r="4.6"/><circle cx="1391.1" cy="618.7" r="4.6"/><circle cx="1396.1" cy="616.4" r="4.6"/><circle cx="1408.4" cy="616" r="4.6"/><circle cx="1413.5" cy="615.8" r="4.6"/><circle cx="1414.2" cy="619.4" r="4.6"/><circle cx="1411.3" cy="619.7" r="4.6"/><circle cx="1418.4" cy="620.2" r="4.6"/><circle cx="1418.4" cy="619.4" r="4.6"/><circle cx="1427.7" cy="619.3" r="4.6"/><circle cx="1431.4" cy="617.3" r="4.6"/><circle cx="1427.1" cy="619.1" r="4.6"/><circle cx="1440.7" cy="617.4" r="4.6"/><circle cx="1445.1" cy="619" r="4.6"/><circle cx="1436.6" cy="620" r="4.6"/><circle cx="1438.1" cy="620.4" r="4.6"/><circle cx="1443.2" cy="619.1" r="4.6"/><circle cx="1446.6" cy="621.2" r="4.6"/><circle cx="1446.5" cy="617.8" r="4.6"/><circle cx="1457.4" cy="617.4" r="4.6"/><circle cx="1457.7" cy="618.8" r="4.6"/><circle cx="1454.6" cy="618.6" r="4.6"/><circle cx="1466.8" cy="618.3" r="4.6"/><circle cx="1475.7" cy="617.8" r="4.6"/><circle cx="1471.7" cy="616.6" r="4.6"/><circle cx="1472.3" cy="619.6" r="4.6"/><circle cx="1471.4" cy="619.5" r="4.6"/><circle cx="1475.3" cy="619.1" r="4.6"/><circle cx="1474.9" cy="617.8" r="4.6"/><circle cx="1484.5" cy="615.9" r="4.6"/><circle cx="1484.7" cy="618.5" r="4.6"/><circle cx="1485.1" cy="617.5" r="4.6"/><circle cx="1485.4" cy="618.5" r="4.6"/><circle cx="1483.2" cy="617.6" r="4.6"/><circle cx="1501.1" cy="618.2" r="4.6"/><circle cx="1503.3" cy="616.8" r="4.6"/><circle cx="1531.1" cy="620.8" r="4.6"/><circle cx="1553.2" cy="616.4" r="4.6"/><circle cx="1177.8" cy="622.3" r="4.6"/><circle cx="1246.1" cy="625.7" r="4.6"/><circle cx="1254.4" cy="626.9" r="4.6"/><circle cx="1272.9" cy="622.6" r="4.6"/><circle cx="1272.8" cy="625.7" r="4.6"/><circle cx="1285.4" cy="622.9" r="4.6"/><circle cx="1291.1" cy="627.7" r="4.6"/><circle cx="1293.7" cy="622.1" r="4.6"/><circle cx="1306.6" cy="622.5" r="4.6"/><circle cx="1309.9" cy="626.4" r="4.6"/><circle cx="1316.1" cy="627.1" r="4.6"/><circle cx="1325.6" cy="626.1" r="4.6"/><circle cx="1325" cy="623.4" r="4.6"/><circle cx="1329.3" cy="625.9" r="4.6"/><circle cx="1338.9" cy="626.2" r="4.6"/><circle cx="1341.3" cy="622.8" r="4.6"/><circle cx="1345.8" cy="627" r="4.6"/><circle cx="1349.1" cy="621.8" r="4.6"/><circle cx="1351.7" cy="622.6" r="4.6"/><circle cx="1358" cy="623.4" r="4.6"/><circle cx="1369" cy="627.4" r="4.6"/><circle cx="1378.9" cy="622" r="4.6"/><circle cx="1391.8" cy="624.7" r="4.6"/><circle cx="1383.9" cy="622.7" r="4.6"/><circle cx="1387" cy="622.3" r="4.6"/><circle cx="1391.5" cy="622.7" r="4.6"/><circle cx="1393.8" cy="623.9" r="4.6"/><circle cx="1396.4" cy="622.6" r="4.6"/><circle cx="1398.5" cy="626.3" r="4.6"/><circle cx="1401.7" cy="625.1" r="4.6"/><circle cx="1411.4" cy="624" r="4.6"/><circle cx="1416.6" cy="623.3" r="4.6"/><circle cx="1422.5" cy="625.2" r="4.6"/><circle cx="1424.9" cy="625.3" r="4.6"/><circle cx="1424.3" cy="626.5" r="4.6"/><circle cx="1423.5" cy="625.9" r="4.6"/><circle cx="1429.5" cy="624.4" r="4.6"/><circle cx="1440.4" cy="625.6" r="4.6"/><circle cx="1446.6" cy="625.2" r="4.6"/><circle cx="1448.6" cy="623.5" r="4.6"/><circle cx="1444.8" cy="627.1" r="4.6"/><circle cx="1462.8" cy="627.2" r="4.6"/><circle cx="1460.2" cy="626.3" r="4.6"/><circle cx="1471.4" cy="625.7" r="4.6"/><circle cx="1466.9" cy="623.9" r="4.6"/><circle cx="1475.1" cy="622.2" r="4.6"/><circle cx="1471" cy="623.3" r="4.6"/><circle cx="1481.3" cy="627.5" r="4.6"/><circle cx="1477.5" cy="622" r="4.6"/><circle cx="1491.8" cy="624.3" r="4.6"/><circle cx="1523.7" cy="625.1" r="4.6"/><circle cx="1558" cy="624.6" r="4.6"/><circle cx="1173.7" cy="631.4" r="4.6"/><circle cx="1244.8" cy="631.4" r="4.6"/><circle cx="1258.2" cy="631.7" r="4.6"/><circle cx="1261.2" cy="632.5" r="4.6"/><circle cx="1285.2" cy="633.6" r="4.6"/><circle cx="1299.8" cy="629.7" r="4.6"/><circle cx="1299.2" cy="632.4" r="4.6"/><circle cx="1302.8" cy="632.2" r="4.6"/><circle cx="1298.7" cy="632.2" r="4.6"/><circle cx="1312.2" cy="628.7" r="4.6"/><circle cx="1311.8" cy="627.9" r="4.6"/><circle cx="1319.8" cy="628.4" r="4.6"/><circle cx="1321.3" cy="628.4" r="4.6"/><circle cx="1325.7" cy="628.9" r="4.6"/><circle cx="1325" cy="629.1" r="4.6"/><circle cx="1323.6" cy="629.3" r="4.6"/><circle cx="1325.8" cy="630.8" r="4.6"/><circle cx="1328.7" cy="632.2" r="4.6"/><circle cx="1332.2" cy="633" r="4.6"/><circle cx="1339" cy="629" r="4.6"/><circle cx="1338.5" cy="630.3" r="4.6"/><circle cx="1338.3" cy="630.8" r="4.6"/><circle cx="1341" cy="629.8" r="4.6"/><circle cx="1346.9" cy="633" r="4.6"/><circle cx="1349.6" cy="633.4" r="4.6"/><circle cx="1354" cy="631.8" r="4.6"/><circle cx="1365.8" cy="630" r="4.6"/><circle cx="1365.8" cy="632.8" r="4.6"/><circle cx="1359.7" cy="629.4" r="4.6"/><circle cx="1363.6" cy="630.4" r="4.6"/><circle cx="1365.8" cy="632.7" r="4.6"/><circle cx="1365.9" cy="633.2" r="4.6"/><circle cx="1364.2" cy="632.9" r="4.6"/><circle cx="1367.8" cy="633.4" r="4.6"/><circle cx="1363.5" cy="633" r="4.6"/><circle cx="1365.1" cy="628.9" r="4.6"/><circle cx="1373.4" cy="631" r="4.6"/><circle cx="1377.2" cy="629.5" r="4.6"/><circle cx="1378.9" cy="630.9" r="4.6"/><circle cx="1378.6" cy="630.8" r="4.6"/><circle cx="1380.2" cy="630.8" r="4.6"/><circle cx="1385.7" cy="628.9" r="4.6"/><circle cx="1392.1" cy="631.2" r="4.6"/><circle cx="1392.6" cy="628.8" r="4.6"/><circle cx="1393.7" cy="632.5" r="4.6"/><circle cx="1415.2" cy="628.7" r="4.6"/><circle cx="1418.6" cy="633.1" r="4.6"/><circle cx="1418.1" cy="629.9" r="4.6"/><circle cx="1432" cy="630.7" r="4.6"/><circle cx="1431.6" cy="633.7" r="4.6"/><circle cx="1434.1" cy="630.3" r="4.6"/><circle cx="1439.8" cy="633.6" r="4.6"/><circle cx="1436.8" cy="628" r="4.6"/><circle cx="1444.6" cy="627.9" r="4.6"/><circle cx="1444.8" cy="633" r="4.6"/><circle cx="1454.1" cy="629.1" r="4.6"/><circle cx="1464.9" cy="629.7" r="4.6"/><circle cx="1466.8" cy="632.3" r="4.6"/><circle cx="1467.7" cy="628.3" r="4.6"/><circle cx="1471.1" cy="632.1" r="4.6"/><circle cx="1467.8" cy="627.7" r="4.6"/><circle cx="1476.5" cy="630.5" r="4.6"/><circle cx="1485.4" cy="629" r="4.6"/><circle cx="1484.9" cy="629.5" r="4.6"/><circle cx="1495.7" cy="632.6" r="4.6"/><circle cx="1515.6" cy="632.9" r="4.6"/><circle cx="1212.5" cy="634.5" r="4.6"/><circle cx="1238.5" cy="635.2" r="4.6"/><circle cx="1260.6" cy="638.4" r="4.6"/><circle cx="1272.7" cy="637.1" r="4.6"/><circle cx="1285.9" cy="635.8" r="4.6"/><circle cx="1285.7" cy="638.5" r="4.6"/><circle cx="1289.6" cy="638.5" r="4.6"/><circle cx="1299.7" cy="639.6" r="4.6"/><circle cx="1296.1" cy="638.3" r="4.6"/><circle cx="1299" cy="639.7" r="4.6"/><circle cx="1293.5" cy="636.1" r="4.6"/><circle cx="1299.5" cy="639.4" r="4.6"/><circle cx="1299.6" cy="634.4" r="4.6"/><circle cx="1307.7" cy="638.5" r="4.6"/><circle cx="1304.1" cy="639.5" r="4.6"/><circle cx="1312.2" cy="635.3" r="4.6"/><circle cx="1299.3" cy="639.6" r="4.6"/><circle cx="1314" cy="638.4" r="4.6"/><circle cx="1316.6" cy="635.3" r="4.6"/><circle cx="1318.3" cy="639.1" r="4.6"/><circle cx="1311.9" cy="638.2" r="4.6"/><circle cx="1325.8" cy="638.7" r="4.6"/><circle cx="1325" cy="636" r="4.6"/><circle cx="1329.1" cy="637.9" r="4.6"/><circle cx="1333.3" cy="637.6" r="4.6"/><circle cx="1339.4" cy="633.8" r="4.6"/><circle cx="1339" cy="635.8" r="4.6"/><circle cx="1337.9" cy="634.4" r="4.6"/><circle cx="1343.3" cy="636.3" r="4.6"/><circle cx="1345.5" cy="638.8" r="4.6"/><circle cx="1358.3" cy="637.8" r="4.6"/><circle cx="1363.4" cy="638.3" r="4.6"/><circle cx="1363.1" cy="635.7" r="4.6"/><circle cx="1365.5" cy="638.5" r="4.6"/><circle cx="1373.4" cy="639.3" r="4.6"/><circle cx="1378" cy="633.9" r="4.6"/><circle cx="1378.4" cy="635.1" r="4.6"/><circle cx="1378.9" cy="635.4" r="4.6"/><circle cx="1378.7" cy="634.9" r="4.6"/><circle cx="1392.1" cy="636" r="4.6"/><circle cx="1394.8" cy="635.5" r="4.6"/><circle cx="1398.6" cy="639.1" r="4.6"/><circle cx="1404.7" cy="633.9" r="4.6"/><circle cx="1410.7" cy="634" r="4.6"/><circle cx="1405" cy="637.2" r="4.6"/><circle cx="1405.6" cy="635.1" r="4.6"/><circle cx="1408.8" cy="636.2" r="4.6"/><circle cx="1406.6" cy="634.3" r="4.6"/><circle cx="1418.1" cy="636.4" r="4.6"/><circle cx="1413.8" cy="637.2" r="4.6"/><circle cx="1415.7" cy="636.8" r="4.6"/><circle cx="1413.8" cy="638.8" r="4.6"/><circle cx="1422.9" cy="636.1" r="4.6"/><circle cx="1425.5" cy="636.9" r="4.6"/><circle cx="1431" cy="635.3" r="4.6"/><circle cx="1431.5" cy="636.1" r="4.6"/><circle cx="1431.6" cy="638.2" r="4.6"/><circle cx="1439.5" cy="639.4" r="4.6"/><circle cx="1444.2" cy="634.5" r="4.6"/><circle cx="1437" cy="637.5" r="4.6"/><circle cx="1445.2" cy="638.6" r="4.6"/><circle cx="1445.4" cy="638" r="4.6"/><circle cx="1447.2" cy="638.5" r="4.6"/><circle cx="1445.3" cy="637.5" r="4.6"/><circle cx="1444.5" cy="639.5" r="4.6"/><circle cx="1453.2" cy="636.2" r="4.6"/><circle cx="1458.1" cy="634" r="4.6"/><circle cx="1453.9" cy="635" r="4.6"/><circle cx="1457.9" cy="636.3" r="4.6"/><circle cx="1464.8" cy="637.9" r="4.6"/><circle cx="1464.3" cy="638.7" r="4.6"/><circle cx="1459.3" cy="636.3" r="4.6"/><circle cx="1458.3" cy="636.9" r="4.6"/><circle cx="1464.1" cy="634.4" r="4.6"/><circle cx="1467.6" cy="636" r="4.6"/><circle cx="1466.2" cy="636.7" r="4.6"/><circle cx="1471.4" cy="637.8" r="4.6"/><circle cx="1476.1" cy="636.6" r="4.6"/><circle cx="1474.8" cy="634.1" r="4.6"/><circle cx="1471.3" cy="637.6" r="4.6"/><circle cx="1471.4" cy="634.4" r="4.6"/><circle cx="1476.8" cy="639.4" r="4.6"/><circle cx="1479.9" cy="637.2" r="4.6"/><circle cx="1479.1" cy="639.6" r="4.6"/><circle cx="1486.3" cy="637.4" r="4.6"/><circle cx="1483.8" cy="633.8" r="4.6"/><circle cx="1484.8" cy="637" r="4.6"/><circle cx="1499.9" cy="639.3" r="4.6"/><circle cx="1505.3" cy="635.9" r="4.6"/><circle cx="1208.2" cy="642.6" r="4.6"/><circle cx="1246.8" cy="645.2" r="4.6"/><circle cx="1248.8" cy="644.1" r="4.6"/><circle cx="1244.7" cy="641.1" r="4.6"/><circle cx="1262.7" cy="645.1" r="4.6"/><circle cx="1277.5" cy="643.7" r="4.6"/><circle cx="1295.4" cy="644.5" r="4.6"/><circle cx="1292.5" cy="642.2" r="4.6"/><circle cx="1286.4" cy="643.5" r="4.6"/><circle cx="1294.9" cy="641.9" r="4.6"/><circle cx="1291.1" cy="645.4" r="4.6"/><circle cx="1299.3" cy="645.4" r="4.6"/><circle cx="1303.9" cy="640.5" r="4.6"/><circle cx="1305.7" cy="644.7" r="4.6"/><circle cx="1307.4" cy="640.7" r="4.6"/><circle cx="1313.6" cy="645" r="4.6"/><circle cx="1312.1" cy="645.7" r="4.6"/><circle cx="1326.2" cy="640.1" r="4.6"/><circle cx="1325.9" cy="642.9" r="4.6"/><circle cx="1325" cy="640.9" r="4.6"/><circle cx="1327" cy="640.7" r="4.6"/><circle cx="1325.5" cy="643.9" r="4.6"/><circle cx="1334.8" cy="641" r="4.6"/><circle cx="1338.6" cy="641.3" r="4.6"/><circle cx="1333.7" cy="644.3" r="4.6"/><circle cx="1344.2" cy="642.5" r="4.6"/><circle cx="1345" cy="645.6" r="4.6"/><circle cx="1342" cy="639.8" r="4.6"/><circle cx="1352" cy="645.6" r="4.6"/><circle cx="1366.6" cy="644.8" r="4.6"/><circle cx="1357.5" cy="644.5" r="4.6"/><circle cx="1361.9" cy="645.4" r="4.6"/><circle cx="1368.6" cy="641.6" r="4.6"/><circle cx="1365.8" cy="639.8" r="4.6"/><circle cx="1374.9" cy="641.7" r="4.6"/><circle cx="1379.3" cy="639.8" r="4.6"/><circle cx="1379.3" cy="642.2" r="4.6"/><circle cx="1378.6" cy="645.1" r="4.6"/><circle cx="1379" cy="641.8" r="4.6"/><circle cx="1386" cy="644.7" r="4.6"/><circle cx="1386.2" cy="642.8" r="4.6"/><circle cx="1391" cy="643.1" r="4.6"/><circle cx="1392.1" cy="640.5" r="4.6"/><circle cx="1387.4" cy="642.2" r="4.6"/><circle cx="1390.8" cy="645.4" r="4.6"/><circle cx="1393.3" cy="644.4" r="4.6"/><circle cx="1396.3" cy="643.6" r="4.6"/><circle cx="1404.2" cy="645.4" r="4.6"/><circle cx="1408.5" cy="641.5" r="4.6"/><circle cx="1416.3" cy="644.2" r="4.6"/><circle cx="1412.8" cy="642.1" r="4.6"/><circle cx="1416.2" cy="641.5" r="4.6"/><circle cx="1413.4" cy="642.5" r="4.6"/><circle cx="1418.8" cy="640.2" r="4.6"/><circle cx="1418.2" cy="641.4" r="4.6"/><circle cx="1418.6" cy="643.3" r="4.6"/><circle cx="1428.2" cy="640.9" r="4.6"/><circle cx="1429.9" cy="640.7" r="4.6"/><circle cx="1444.1" cy="640" r="4.6"/><circle cx="1435.7" cy="642.5" r="4.6"/><circle cx="1435.2" cy="644.4" r="4.6"/><circle cx="1442.1" cy="643.5" r="4.6"/><circle cx="1444.8" cy="642.5" r="4.6"/><circle cx="1446.6" cy="644.3" r="4.6"/><circle cx="1458.3" cy="641.2" r="4.6"/><circle cx="1457.1" cy="645.1" r="4.6"/><circle cx="1457.7" cy="643.4" r="4.6"/><circle cx="1459.6" cy="644.5" r="4.6"/><circle cx="1470.5" cy="644.3" r="4.6"/><circle cx="1465.6" cy="643.8" r="4.6"/><circle cx="1470.2" cy="643.9" r="4.6"/><circle cx="1475.1" cy="643.4" r="4.6"/><circle cx="1482.4" cy="642.6" r="4.6"/><circle cx="1485" cy="644.4" r="4.6"/><circle cx="1503.1" cy="645.3" r="4.6"/><circle cx="1507.5" cy="644" r="4.6"/><circle cx="1209.9" cy="646.9" r="4.6"/><circle cx="1272" cy="648.5" r="4.6"/><circle cx="1272.3" cy="647.7" r="4.6"/><circle cx="1272.7" cy="648" r="4.6"/><circle cx="1271" cy="646.8" r="4.6"/><circle cx="1288.5" cy="649.7" r="4.6"/><circle cx="1299.6" cy="651" r="4.6"/><circle cx="1312" cy="646.4" r="4.6"/><circle cx="1311.5" cy="647.2" r="4.6"/><circle cx="1310.5" cy="648.4" r="4.6"/><circle cx="1325.6" cy="651.5" r="4.6"/><circle cx="1338.6" cy="647.9" r="4.6"/><circle cx="1338.9" cy="649.7" r="4.6"/><circle cx="1343.6" cy="651.7" r="4.6"/><circle cx="1343.7" cy="651.3" r="4.6"/><circle cx="1344.3" cy="648.7" r="4.6"/><circle cx="1354.3" cy="647.1" r="4.6"/><circle cx="1352.2" cy="646" r="4.6"/><circle cx="1366.4" cy="651.5" r="4.6"/><circle cx="1371.3" cy="646.4" r="4.6"/><circle cx="1380.1" cy="650.8" r="4.6"/><circle cx="1378.7" cy="651.4" r="4.6"/><circle cx="1383.7" cy="646.9" r="4.6"/><circle cx="1391.5" cy="647.5" r="4.6"/><circle cx="1390.7" cy="651.5" r="4.6"/><circle cx="1387.8" cy="648.3" r="4.6"/><circle cx="1405.2" cy="647.7" r="4.6"/><circle cx="1396.9" cy="648" r="4.6"/><circle cx="1392.7" cy="647.6" r="4.6"/><circle cx="1393.5" cy="651.3" r="4.6"/><circle cx="1395.1" cy="648.7" r="4.6"/><circle cx="1398.4" cy="651.6" r="4.6"/><circle cx="1405" cy="647.3" r="4.6"/><circle cx="1405.4" cy="651.7" r="4.6"/><circle cx="1405.3" cy="646.9" r="4.6"/><circle cx="1408.4" cy="651.3" r="4.6"/><circle cx="1405.7" cy="646.5" r="4.6"/><circle cx="1413.3" cy="648.4" r="4.6"/><circle cx="1416.8" cy="646.6" r="4.6"/><circle cx="1418.2" cy="647" r="4.6"/><circle cx="1431.9" cy="650.1" r="4.6"/><circle cx="1433" cy="646.3" r="4.6"/><circle cx="1431.1" cy="649.3" r="4.6"/><circle cx="1436.3" cy="649.4" r="4.6"/><circle cx="1449.3" cy="645.9" r="4.6"/><circle cx="1444.9" cy="648" r="4.6"/><circle cx="1457" cy="646.2" r="4.6"/><circle cx="1470.9" cy="646.2" r="4.6"/><circle cx="1465.8" cy="647.3" r="4.6"/><circle cx="1473.3" cy="649" r="4.6"/><circle cx="1476.9" cy="646.5" r="4.6"/><circle cx="1484.6" cy="646.1" r="4.6"/><circle cx="1481.7" cy="647.3" r="4.6"/><circle cx="1480.4" cy="649.9" r="4.6"/><circle cx="1487.1" cy="650.7" r="4.6"/><circle cx="1488" cy="649.8" r="4.6"/><circle cx="1526.5" cy="646.3" r="4.6"/><circle cx="1530" cy="647.7" r="4.6"/><circle cx="1544.7" cy="649.8" r="4.6"/><circle cx="1250.6" cy="655.9" r="4.6"/><circle cx="1262.6" cy="656.2" r="4.6"/><circle cx="1266.2" cy="655.3" r="4.6"/><circle cx="1267.6" cy="656.2" r="4.6"/><circle cx="1275.3" cy="651.7" r="4.6"/><circle cx="1282.5" cy="654.3" r="4.6"/><circle cx="1287" cy="653.7" r="4.6"/><circle cx="1285.9" cy="653.1" r="4.6"/><circle cx="1285" cy="654" r="4.6"/><circle cx="1295.4" cy="654.4" r="4.6"/><circle cx="1303.8" cy="654.9" r="4.6"/><circle cx="1308.6" cy="657.4" r="4.6"/><circle cx="1299.7" cy="654.4" r="4.6"/><circle cx="1314.4" cy="653.3" r="4.6"/><circle cx="1318.9" cy="654" r="4.6"/><circle cx="1319.6" cy="655.3" r="4.6"/><circle cx="1323.2" cy="653.9" r="4.6"/><circle cx="1323.2" cy="655.1" r="4.6"/><circle cx="1325.1" cy="652.4" r="4.6"/><circle cx="1322.6" cy="656.8" r="4.6"/><circle cx="1327.6" cy="657.5" r="4.6"/><circle cx="1327.4" cy="652.7" r="4.6"/><circle cx="1331" cy="656.5" r="4.6"/><circle cx="1328.3" cy="652.8" r="4.6"/><circle cx="1334.6" cy="652.2" r="4.6"/><circle cx="1334.1" cy="656.1" r="4.6"/><circle cx="1335" cy="657.2" r="4.6"/><circle cx="1338.8" cy="656.9" r="4.6"/><circle cx="1341.1" cy="651.9" r="4.6"/><circle cx="1343.9" cy="653.1" r="4.6"/><circle cx="1350.8" cy="651.9" r="4.6"/><circle cx="1349" cy="655.8" r="4.6"/><circle cx="1348" cy="652.5" r="4.6"/><circle cx="1345.5" cy="656.8" r="4.6"/><circle cx="1365.5" cy="651.9" r="4.6"/><circle cx="1363" cy="654.5" r="4.6"/><circle cx="1368.8" cy="656.4" r="4.6"/><circle cx="1372.6" cy="654.1" r="4.6"/><circle cx="1371.2" cy="652.4" r="4.6"/><circle cx="1377" cy="656.4" r="4.6"/><circle cx="1375.2" cy="654.7" r="4.6"/><circle cx="1390.3" cy="654.1" r="4.6"/><circle cx="1395.3" cy="652" r="4.6"/><circle cx="1404.7" cy="655" r="4.6"/><circle cx="1417.7" cy="656" r="4.6"/><circle cx="1415.9" cy="656" r="4.6"/><circle cx="1411.1" cy="652.5" r="4.6"/><circle cx="1420.2" cy="652.1" r="4.6"/><circle cx="1431.5" cy="654.3" r="4.6"/><circle cx="1430.8" cy="655.4" r="4.6"/><circle cx="1431.4" cy="651.8" r="4.6"/><circle cx="1435" cy="652.8" r="4.6"/><circle cx="1443" cy="656.7" r="4.6"/><circle cx="1444.9" cy="656.3" r="4.6"/><circle cx="1444.5" cy="657.1" r="4.6"/><circle cx="1444.9" cy="656.9" r="4.6"/><circle cx="1457.9" cy="657" r="4.6"/><circle cx="1453.5" cy="657.2" r="4.6"/><circle cx="1458.4" cy="654" r="4.6"/><circle cx="1456.2" cy="654.6" r="4.6"/><circle cx="1460.2" cy="656.8" r="4.6"/><circle cx="1459.5" cy="656.1" r="4.6"/><circle cx="1463.3" cy="653.3" r="4.6"/><circle cx="1466.8" cy="656.9" r="4.6"/><circle cx="1471.1" cy="657" r="4.6"/><circle cx="1476" cy="656.9" r="4.6"/><circle cx="1470.3" cy="655.1" r="4.6"/><circle cx="1472.6" cy="654.3" r="4.6"/><circle cx="1473.9" cy="657.7" r="4.6"/><circle cx="1483.8" cy="652.4" r="4.6"/><circle cx="1495.8" cy="656.9" r="4.6"/><circle cx="1510.9" cy="656.6" r="4.6"/><circle cx="1566.4" cy="652.2" r="4.6"/><circle cx="1246" cy="659.7" r="4.6"/><circle cx="1251.1" cy="661.5" r="4.6"/><circle cx="1259" cy="662.4" r="4.6"/><circle cx="1260.9" cy="663.4" r="4.6"/><circle cx="1262" cy="658.3" r="4.6"/><circle cx="1277.5" cy="662.2" r="4.6"/><circle cx="1273.4" cy="661.4" r="4.6"/><circle cx="1273" cy="658.7" r="4.6"/><circle cx="1285.5" cy="661.7" r="4.6"/><circle cx="1279.6" cy="660.5" r="4.6"/><circle cx="1280.8" cy="662.3" r="4.6"/><circle cx="1289.3" cy="660.1" r="4.6"/><circle cx="1291.9" cy="661.8" r="4.6"/><circle cx="1293" cy="661.8" r="4.6"/><circle cx="1292.8" cy="662.1" r="4.6"/><circle cx="1293.1" cy="663.5" r="4.6"/><circle cx="1291.2" cy="662.1" r="4.6"/><circle cx="1301.6" cy="660.2" r="4.6"/><circle cx="1299" cy="663" r="4.6"/><circle cx="1307.7" cy="659.4" r="4.6"/><circle cx="1310" cy="657.8" r="4.6"/><circle cx="1313.2" cy="662.3" r="4.6"/><circle cx="1330" cy="659.3" r="4.6"/><circle cx="1338.8" cy="659.1" r="4.6"/><circle cx="1344.4" cy="662.3" r="4.6"/><circle cx="1347.1" cy="659.5" r="4.6"/><circle cx="1348.6" cy="661.5" r="4.6"/><circle cx="1345.4" cy="662.6" r="4.6"/><circle cx="1352.3" cy="659.4" r="4.6"/><circle cx="1360.1" cy="660.3" r="4.6"/><circle cx="1361.1" cy="659.9" r="4.6"/><circle cx="1365.4" cy="660.4" r="4.6"/><circle cx="1365.4" cy="663.5" r="4.6"/><circle cx="1370.9" cy="661.6" r="4.6"/><circle cx="1374.2" cy="659.8" r="4.6"/><circle cx="1372.6" cy="659" r="4.6"/><circle cx="1384.3" cy="663" r="4.6"/><circle cx="1378.5" cy="658.8" r="4.6"/><circle cx="1385.7" cy="662.6" r="4.6"/><circle cx="1384.8" cy="663.5" r="4.6"/><circle cx="1390.3" cy="658.3" r="4.6"/><circle cx="1392.9" cy="661.6" r="4.6"/><circle cx="1387.8" cy="660" r="4.6"/><circle cx="1390.2" cy="658" r="4.6"/><circle cx="1402.9" cy="661.1" r="4.6"/><circle cx="1401.4" cy="661.8" r="4.6"/><circle cx="1402.9" cy="658.5" r="4.6"/><circle cx="1409.6" cy="659.9" r="4.6"/><circle cx="1414.7" cy="661.6" r="4.6"/><circle cx="1414.1" cy="658.6" r="4.6"/><circle cx="1413.3" cy="658" r="4.6"/><circle cx="1418.8" cy="663.7" r="4.6"/><circle cx="1418.2" cy="663.5" r="4.6"/><circle cx="1418.6" cy="658.6" r="4.6"/><circle cx="1418.9" cy="659.9" r="4.6"/><circle cx="1425.9" cy="662" r="4.6"/><circle cx="1425.6" cy="663.7" r="4.6"/><circle cx="1434.6" cy="663" r="4.6"/><circle cx="1430.5" cy="661" r="4.6"/><circle cx="1438.8" cy="662.5" r="4.6"/><circle cx="1436.3" cy="662.8" r="4.6"/><circle cx="1441.8" cy="662.2" r="4.6"/><circle cx="1442.9" cy="660.8" r="4.6"/><circle cx="1445.2" cy="658" r="4.6"/><circle cx="1444.8" cy="661.5" r="4.6"/><circle cx="1451.2" cy="662.8" r="4.6"/><circle cx="1450.2" cy="657.9" r="4.6"/><circle cx="1457.8" cy="658.7" r="4.6"/><circle cx="1457.7" cy="663.2" r="4.6"/><circle cx="1457.9" cy="658.6" r="4.6"/><circle cx="1457.6" cy="658.3" r="4.6"/><circle cx="1466.5" cy="658.5" r="4.6"/><circle cx="1470.7" cy="661" r="4.6"/><circle cx="1473.2" cy="658.2" r="4.6"/><circle cx="1479.3" cy="662.2" r="4.6"/><circle cx="1484.7" cy="660.2" r="4.6"/><circle cx="1483.8" cy="657.9" r="4.6"/><circle cx="1486.7" cy="662.7" r="4.6"/><circle cx="1521.9" cy="659.3" r="4.6"/><circle cx="1186.3" cy="666.9" r="4.6"/><circle cx="1256.3" cy="667.2" r="4.6"/><circle cx="1259.9" cy="668.9" r="4.6"/><circle cx="1266.7" cy="665" r="4.6"/><circle cx="1272.3" cy="668.7" r="4.6"/><circle cx="1278.6" cy="665.8" r="4.6"/><circle cx="1286.3" cy="667.7" r="4.6"/><circle cx="1290.7" cy="669.6" r="4.6"/><circle cx="1286.1" cy="668.2" r="4.6"/><circle cx="1287.3" cy="663.7" r="4.6"/><circle cx="1286" cy="667.2" r="4.6"/><circle cx="1299" cy="664.6" r="4.6"/><circle cx="1298.8" cy="665.9" r="4.6"/><circle cx="1301" cy="666.9" r="4.6"/><circle cx="1299" cy="667.8" r="4.6"/><circle cx="1308.5" cy="669.1" r="4.6"/><circle cx="1299.2" cy="668.5" r="4.6"/><circle cx="1312.9" cy="664.5" r="4.6"/><circle cx="1314.8" cy="669.5" r="4.6"/><circle cx="1309.4" cy="668.7" r="4.6"/><circle cx="1312.7" cy="664.8" r="4.6"/><circle cx="1319.9" cy="664.9" r="4.6"/><circle cx="1325.2" cy="668.8" r="4.6"/><circle cx="1326.7" cy="669.5" r="4.6"/><circle cx="1321.3" cy="666" r="4.6"/><circle cx="1322.3" cy="666.6" r="4.6"/><circle cx="1325.8" cy="668.6" r="4.6"/><circle cx="1339" cy="664" r="4.6"/><circle cx="1336.8" cy="667.4" r="4.6"/><circle cx="1339.7" cy="667.4" r="4.6"/><circle cx="1343.1" cy="663.9" r="4.6"/><circle cx="1362.9" cy="666.4" r="4.6"/><circle cx="1365.6" cy="665.6" r="4.6"/><circle cx="1365.9" cy="664.7" r="4.6"/><circle cx="1365.6" cy="665.3" r="4.6"/><circle cx="1365.8" cy="664.3" r="4.6"/><circle cx="1366.7" cy="664.1" r="4.6"/><circle cx="1363.6" cy="664.4" r="4.6"/><circle cx="1378.3" cy="666.5" r="4.6"/><circle cx="1379.1" cy="668.6" r="4.6"/><circle cx="1378.3" cy="666.8" r="4.6"/><circle cx="1382.5" cy="667.3" r="4.6"/><circle cx="1382" cy="668.3" r="4.6"/><circle cx="1382" cy="663.9" r="4.6"/><circle cx="1389.4" cy="667.9" r="4.6"/><circle cx="1396.4" cy="665" r="4.6"/><circle cx="1404.2" cy="667.6" r="4.6"/><circle cx="1406" cy="666" r="4.6"/><circle cx="1405.7" cy="668.2" r="4.6"/><circle cx="1418.1" cy="666.2" r="4.6"/><circle cx="1419.6" cy="667.1" r="4.6"/><circle cx="1417.8" cy="665.8" r="4.6"/><circle cx="1418" cy="664.3" r="4.6"/><circle cx="1419.7" cy="668.1" r="4.6"/><circle cx="1424.1" cy="667.6" r="4.6"/><circle cx="1424.1" cy="665.9" r="4.6"/><circle cx="1428.3" cy="666.3" r="4.6"/><circle cx="1430.1" cy="668.3" r="4.6"/><circle cx="1433.7" cy="669.1" r="4.6"/><circle cx="1438" cy="669.2" r="4.6"/><circle cx="1444.8" cy="667.4" r="4.6"/><circle cx="1446.9" cy="664" r="4.6"/><circle cx="1444.7" cy="668.7" r="4.6"/><circle cx="1444.3" cy="665" r="4.6"/><circle cx="1450.9" cy="669.2" r="4.6"/><circle cx="1448.9" cy="667.1" r="4.6"/><circle cx="1452.9" cy="668.1" r="4.6"/><circle cx="1455.4" cy="665.8" r="4.6"/><circle cx="1458.8" cy="669.3" r="4.6"/><circle cx="1461.9" cy="664.3" r="4.6"/><circle cx="1464.7" cy="666.2" r="4.6"/><circle cx="1471.7" cy="669.3" r="4.6"/><circle cx="1473.9" cy="669.4" r="4.6"/><circle cx="1476.2" cy="669.1" r="4.6"/><circle cx="1481.9" cy="668.5" r="4.6"/><circle cx="1497.9" cy="664.2" r="4.6"/><circle cx="1502.3" cy="669.1" r="4.6"/><circle cx="1220.1" cy="672.6" r="4.6"/><circle cx="1234.5" cy="673.5" r="4.6"/><circle cx="1239.2" cy="670.4" r="4.6"/><circle cx="1245.3" cy="669.9" r="4.6"/><circle cx="1252.3" cy="673.4" r="4.6"/><circle cx="1254.9" cy="674.4" r="4.6"/><circle cx="1253.5" cy="671.8" r="4.6"/><circle cx="1260.9" cy="671.4" r="4.6"/><circle cx="1272.6" cy="673.8" r="4.6"/><circle cx="1267.5" cy="672.2" r="4.6"/><circle cx="1276.2" cy="672" r="4.6"/><circle cx="1275.8" cy="672.4" r="4.6"/><circle cx="1281.8" cy="674.9" r="4.6"/><circle cx="1284.1" cy="670.3" r="4.6"/><circle cx="1286.3" cy="671.9" r="4.6"/><circle cx="1285.3" cy="670.6" r="4.6"/><circle cx="1286" cy="673.1" r="4.6"/><circle cx="1296.1" cy="670.7" r="4.6"/><circle cx="1299" cy="669.8" r="4.6"/><circle cx="1306.1" cy="675.3" r="4.6"/><circle cx="1312.2" cy="674.3" r="4.6"/><circle cx="1312.3" cy="674.4" r="4.6"/><circle cx="1312.4" cy="673.8" r="4.6"/><circle cx="1311.6" cy="671.9" r="4.6"/><circle cx="1317.8" cy="674.6" r="4.6"/><circle cx="1326.7" cy="671" r="4.6"/><circle cx="1322.2" cy="675" r="4.6"/><circle cx="1324.1" cy="674.9" r="4.6"/><circle cx="1331.2" cy="671.8" r="4.6"/><circle cx="1330.2" cy="674.2" r="4.6"/><circle cx="1326.1" cy="670.2" r="4.6"/><circle cx="1337.5" cy="671.6" r="4.6"/><circle cx="1339.9" cy="675.1" r="4.6"/><circle cx="1335.5" cy="672.9" r="4.6"/><circle cx="1339.3" cy="671.7" r="4.6"/><circle cx="1338.5" cy="672.2" r="4.6"/><circle cx="1346.6" cy="673" r="4.6"/><circle cx="1355.5" cy="675.4" r="4.6"/><circle cx="1356.3" cy="670" r="4.6"/><circle cx="1374.6" cy="673.3" r="4.6"/><circle cx="1375.2" cy="673.6" r="4.6"/><circle cx="1383.2" cy="673.9" r="4.6"/><circle cx="1391.5" cy="674.9" r="4.6"/><circle cx="1396.5" cy="673.4" r="4.6"/><circle cx="1403.7" cy="673.3" r="4.6"/><circle cx="1399.3" cy="673.2" r="4.6"/><circle cx="1405.3" cy="670.5" r="4.6"/><circle cx="1410.5" cy="674" r="4.6"/><circle cx="1417.8" cy="670.8" r="4.6"/><circle cx="1432.8" cy="673.9" r="4.6"/><circle cx="1431.4" cy="671.2" r="4.6"/><circle cx="1445.9" cy="673.2" r="4.6"/><circle cx="1444.6" cy="672.8" r="4.6"/><circle cx="1444.6" cy="675.7" r="4.6"/><circle cx="1448.6" cy="674.5" r="4.6"/><circle cx="1458.7" cy="675.2" r="4.6"/><circle cx="1454.9" cy="670.9" r="4.6"/><circle cx="1458.2" cy="673.4" r="4.6"/><circle cx="1455.5" cy="675.1" r="4.6"/><circle cx="1462.7" cy="674.1" r="4.6"/><circle cx="1471.1" cy="673.9" r="4.6"/><circle cx="1486.4" cy="671.4" r="4.6"/><circle cx="1495.8" cy="674.9" r="4.6"/><circle cx="1499.9" cy="674" r="4.6"/><circle cx="1505.1" cy="672.6" r="4.6"/><circle cx="1512" cy="674.1" r="4.6"/><circle cx="1511.5" cy="671.8" r="4.6"/><circle cx="1190" cy="677.7" r="4.6"/><circle cx="1225.6" cy="679.2" r="4.6"/><circle cx="1247.3" cy="678.2" r="4.6"/><circle cx="1259.7" cy="680.5" r="4.6"/><circle cx="1259.5" cy="681" r="4.6"/><circle cx="1262.3" cy="678.2" r="4.6"/><circle cx="1261.5" cy="676" r="4.6"/><circle cx="1263.2" cy="679.3" r="4.6"/><circle cx="1278.4" cy="680" r="4.6"/><circle cx="1277.9" cy="678.3" r="4.6"/><circle cx="1286.4" cy="678.1" r="4.6"/><circle cx="1280.1" cy="679.7" r="4.6"/><circle cx="1280.1" cy="676.2" r="4.6"/><circle cx="1286.5" cy="676.4" r="4.6"/><circle cx="1287.9" cy="680.7" r="4.6"/><circle cx="1288.2" cy="676.1" r="4.6"/><circle cx="1288.8" cy="680.6" r="4.6"/><circle cx="1287" cy="677.4" r="4.6"/><circle cx="1295" cy="678.1" r="4.6"/><circle cx="1294.2" cy="677.6" r="4.6"/><circle cx="1299.3" cy="680.1" r="4.6"/><circle cx="1297.9" cy="678.1" r="4.6"/><circle cx="1313" cy="681.5" r="4.6"/><circle cx="1305.1" cy="681.6" r="4.6"/><circle cx="1305.5" cy="680.2" r="4.6"/><circle cx="1312.9" cy="679.2" r="4.6"/><circle cx="1324.7" cy="680.8" r="4.6"/><circle cx="1329.9" cy="677.7" r="4.6"/><circle cx="1330.5" cy="678.9" r="4.6"/><circle cx="1331.4" cy="677.3" r="4.6"/><circle cx="1352" cy="679.6" r="4.6"/><circle cx="1353" cy="679.8" r="4.6"/><circle cx="1351.9" cy="681.4" r="4.6"/><circle cx="1352.5" cy="676.5" r="4.6"/><circle cx="1352.5" cy="678.8" r="4.6"/><circle cx="1365.9" cy="678.9" r="4.6"/><circle cx="1369.4" cy="681" r="4.6"/><circle cx="1378.8" cy="676.5" r="4.6"/><circle cx="1372.2" cy="677.8" r="4.6"/><circle cx="1383.6" cy="681.6" r="4.6"/><circle cx="1381.3" cy="679.7" r="4.6"/><circle cx="1388.7" cy="680" r="4.6"/><circle cx="1404.7" cy="676.5" r="4.6"/><circle cx="1405.1" cy="676" r="4.6"/><circle cx="1402.6" cy="678.8" r="4.6"/><circle cx="1399.5" cy="678.8" r="4.6"/><circle cx="1407.5" cy="677.4" r="4.6"/><circle cx="1418.1" cy="676.4" r="4.6"/><circle cx="1418.4" cy="680.9" r="4.6"/><circle cx="1419.6" cy="680.3" r="4.6"/><circle cx="1428.1" cy="678.1" r="4.6"/><circle cx="1430.2" cy="676.4" r="4.6"/><circle cx="1431.7" cy="679.9" r="4.6"/><circle cx="1429.4" cy="677" r="4.6"/><circle cx="1431" cy="678.2" r="4.6"/><circle cx="1444.8" cy="678.1" r="4.6"/><circle cx="1442.2" cy="676.6" r="4.6"/><circle cx="1446.8" cy="681.4" r="4.6"/><circle cx="1444.8" cy="679.2" r="4.6"/><circle cx="1447.3" cy="680.9" r="4.6"/><circle cx="1454.3" cy="679.9" r="4.6"/><circle cx="1457.8" cy="678.5" r="4.6"/><circle cx="1465.5" cy="679.4" r="4.6"/><circle cx="1471" cy="679.3" r="4.6"/><circle cx="1471.3" cy="679.1" r="4.6"/><circle cx="1479.2" cy="678.1" r="4.6"/><circle cx="1486.6" cy="679.1" r="4.6"/><circle cx="1484.5" cy="681.4" r="4.6"/><circle cx="1492" cy="677.9" r="4.6"/><circle cx="1207.4" cy="685.8" r="4.6"/><circle cx="1220.4" cy="682.2" r="4.6"/><circle cx="1223.2" cy="686.3" r="4.6"/><circle cx="1240.2" cy="687" r="4.6"/><circle cx="1278.9" cy="683.4" r="4.6"/><circle cx="1285.6" cy="683.5" r="4.6"/><circle cx="1285.9" cy="681.9" r="4.6"/><circle cx="1286.3" cy="684.1" r="4.6"/><circle cx="1286" cy="681.8" r="4.6"/><circle cx="1291.7" cy="684.6" r="4.6"/><circle cx="1285.8" cy="686.5" r="4.6"/><circle cx="1286.1" cy="685.6" r="4.6"/><circle cx="1299.3" cy="687.5" r="4.6"/><circle cx="1302.4" cy="687.1" r="4.6"/><circle cx="1297.2" cy="683.4" r="4.6"/><circle cx="1304.3" cy="684.6" r="4.6"/><circle cx="1306.8" cy="686.2" r="4.6"/><circle cx="1309.4" cy="684.9" r="4.6"/><circle cx="1314.2" cy="686.4" r="4.6"/><circle cx="1313.1" cy="684.5" r="4.6"/><circle cx="1319.3" cy="687" r="4.6"/><circle cx="1333.8" cy="687.4" r="4.6"/><circle cx="1349.7" cy="682.7" r="4.6"/><circle cx="1350.3" cy="684.3" r="4.6"/><circle cx="1352" cy="682.9" r="4.6"/><circle cx="1353.4" cy="682.7" r="4.6"/><circle cx="1363" cy="683.1" r="4.6"/><circle cx="1365.2" cy="683.8" r="4.6"/><circle cx="1364.5" cy="682.6" r="4.6"/><circle cx="1380.4" cy="686.1" r="4.6"/><circle cx="1378.9" cy="682.1" r="4.6"/><circle cx="1380.7" cy="685.9" r="4.6"/><circle cx="1378.2" cy="681.9" r="4.6"/><circle cx="1392.1" cy="687.6" r="4.6"/><circle cx="1396.7" cy="682.5" r="4.6"/><circle cx="1402.2" cy="687" r="4.6"/><circle cx="1407.3" cy="683.7" r="4.6"/><circle cx="1407.4" cy="687.6" r="4.6"/><circle cx="1415.7" cy="684.5" r="4.6"/><circle cx="1418.7" cy="685.4" r="4.6"/><circle cx="1416.2" cy="683.8" r="4.6"/><circle cx="1412" cy="684.8" r="4.6"/><circle cx="1415" cy="687" r="4.6"/><circle cx="1413.6" cy="682.6" r="4.6"/><circle cx="1419.9" cy="682.6" r="4.6"/><circle cx="1421.2" cy="685" r="4.6"/><circle cx="1418" cy="684.6" r="4.6"/><circle cx="1426" cy="682.8" r="4.6"/><circle cx="1430.3" cy="682.3" r="4.6"/><circle cx="1434.8" cy="687.2" r="4.6"/><circle cx="1433.1" cy="685.4" r="4.6"/><circle cx="1438.7" cy="684" r="4.6"/><circle cx="1437.3" cy="683.1" r="4.6"/><circle cx="1438.2" cy="685.9" r="4.6"/><circle cx="1440.2" cy="686.2" r="4.6"/><circle cx="1441.9" cy="684.7" r="4.6"/><circle cx="1444.9" cy="687.2" r="4.6"/><circle cx="1443.1" cy="683.2" r="4.6"/><circle cx="1444.9" cy="681.7" r="4.6"/><circle cx="1443.8" cy="684.2" r="4.6"/><circle cx="1447" cy="686" r="4.6"/><circle cx="1457.9" cy="686.6" r="4.6"/><circle cx="1467.9" cy="682" r="4.6"/><circle cx="1468.1" cy="686.7" r="4.6"/><circle cx="1471.1" cy="684.6" r="4.6"/><circle cx="1476.6" cy="685.4" r="4.6"/><circle cx="1472.1" cy="685.4" r="4.6"/><circle cx="1477.6" cy="686.4" r="4.6"/><circle cx="1153.9" cy="688.8" r="4.6"/><circle cx="1178.5" cy="689.4" r="4.6"/><circle cx="1188.5" cy="692.2" r="4.6"/><circle cx="1208.6" cy="689.6" r="4.6"/><circle cx="1240" cy="690.7" r="4.6"/><circle cx="1254.9" cy="693.5" r="4.6"/><circle cx="1260.5" cy="689.2" r="4.6"/><circle cx="1264.6" cy="692.9" r="4.6"/><circle cx="1263.9" cy="688.8" r="4.6"/><circle cx="1266.9" cy="689.1" r="4.6"/><circle cx="1272.5" cy="691.4" r="4.6"/><circle cx="1272.3" cy="688.2" r="4.6"/><circle cx="1271.3" cy="687.9" r="4.6"/><circle cx="1269.7" cy="691.5" r="4.6"/><circle cx="1273" cy="689.3" r="4.6"/><circle cx="1272.5" cy="688" r="4.6"/><circle cx="1283.6" cy="690.6" r="4.6"/><circle cx="1285.4" cy="689.7" r="4.6"/><circle cx="1285.8" cy="689.1" r="4.6"/><circle cx="1299.4" cy="692.2" r="4.6"/><circle cx="1299.2" cy="688.1" r="4.6"/><circle cx="1301.6" cy="691.1" r="4.6"/><circle cx="1306.8" cy="688.4" r="4.6"/><circle cx="1305.5" cy="690.2" r="4.6"/><circle cx="1310.5" cy="692.8" r="4.6"/><circle cx="1310.8" cy="690.8" r="4.6"/><circle cx="1311.8" cy="693.4" r="4.6"/><circle cx="1311.2" cy="692.2" r="4.6"/><circle cx="1313.2" cy="688.2" r="4.6"/><circle cx="1312.3" cy="691.2" r="4.6"/><circle cx="1316.4" cy="693.4" r="4.6"/><circle cx="1315.9" cy="691" r="4.6"/><circle cx="1326.3" cy="688.4" r="4.6"/><circle cx="1334.1" cy="692" r="4.6"/><circle cx="1335" cy="693.4" r="4.6"/><circle cx="1335.4" cy="689" r="4.6"/><circle cx="1336.2" cy="688.3" r="4.6"/><circle cx="1339.8" cy="692.2" r="4.6"/><circle cx="1347.1" cy="688.9" r="4.6"/><circle cx="1347.3" cy="691.9" r="4.6"/><circle cx="1352.4" cy="688.6" r="4.6"/><circle cx="1357.7" cy="689.3" r="4.6"/><circle cx="1368.6" cy="688.7" r="4.6"/><circle cx="1370" cy="688.4" r="4.6"/><circle cx="1371.6" cy="687.9" r="4.6"/><circle cx="1389.7" cy="693.2" r="4.6"/><circle cx="1392.2" cy="691.9" r="4.6"/><circle cx="1394.2" cy="687.8" r="4.6"/><circle cx="1400.3" cy="689.4" r="4.6"/><circle cx="1405.3" cy="689.2" r="4.6"/><circle cx="1400.6" cy="692.6" r="4.6"/><circle cx="1404.6" cy="690.2" r="4.6"/><circle cx="1410" cy="691.8" r="4.6"/><circle cx="1414.3" cy="687.8" r="4.6"/><circle cx="1418.1" cy="689.7" r="4.6"/><circle cx="1424.4" cy="690.6" r="4.6"/><circle cx="1425.2" cy="693.7" r="4.6"/><circle cx="1431.6" cy="693.4" r="4.6"/><circle cx="1431.9" cy="692.1" r="4.6"/><circle cx="1430" cy="690" r="4.6"/><circle cx="1438.9" cy="693.4" r="4.6"/><circle cx="1438.6" cy="691.4" r="4.6"/><circle cx="1444.2" cy="692.7" r="4.6"/><circle cx="1435.9" cy="692" r="4.6"/><circle cx="1439.5" cy="693.6" r="4.6"/><circle cx="1444" cy="691.9" r="4.6"/><circle cx="1444.8" cy="689" r="4.6"/><circle cx="1447.4" cy="691.9" r="4.6"/><circle cx="1452.4" cy="692.8" r="4.6"/><circle cx="1448.4" cy="690.2" r="4.6"/><circle cx="1453.8" cy="691.5" r="4.6"/><circle cx="1458.4" cy="690.7" r="4.6"/><circle cx="1458.3" cy="689.6" r="4.6"/><circle cx="1453.6" cy="691.3" r="4.6"/><circle cx="1460.5" cy="689.2" r="4.6"/><circle cx="1465.4" cy="691.5" r="4.6"/><circle cx="1467.8" cy="693.3" r="4.6"/><circle cx="1465" cy="693.1" r="4.6"/><circle cx="1472" cy="689.9" r="4.6"/><circle cx="1476.7" cy="692.7" r="4.6"/><circle cx="1484.3" cy="688" r="4.6"/><circle cx="1478" cy="688.7" r="4.6"/><circle cx="1157.6" cy="698.6" r="4.6"/><circle cx="1226.3" cy="694.5" r="4.6"/><circle cx="1234.3" cy="698.6" r="4.6"/><circle cx="1233.5" cy="694.5" r="4.6"/><circle cx="1245.9" cy="694.5" r="4.6"/><circle cx="1259.3" cy="698.6" r="4.6"/><circle cx="1258.9" cy="697.4" r="4.6"/><circle cx="1261" cy="694.2" r="4.6"/><circle cx="1266.8" cy="697.3" r="4.6"/><circle cx="1266" cy="695.8" r="4.6"/><circle cx="1259.5" cy="695" r="4.6"/><circle cx="1272.1" cy="699.6" r="4.6"/><circle cx="1270.2" cy="694.5" r="4.6"/><circle cx="1272.8" cy="697.8" r="4.6"/><circle cx="1272.6" cy="698.5" r="4.6"/><circle cx="1278.2" cy="696.9" r="4.6"/><circle cx="1285.6" cy="697.8" r="4.6"/><circle cx="1283.6" cy="698.7" r="4.6"/><circle cx="1285.9" cy="695" r="4.6"/><circle cx="1291.1" cy="695.1" r="4.6"/><circle cx="1298.7" cy="695" r="4.6"/><circle cx="1299.2" cy="697" r="4.6"/><circle cx="1308.1" cy="694.7" r="4.6"/><circle cx="1312.5" cy="699" r="4.6"/><circle cx="1311" cy="695.3" r="4.6"/><circle cx="1309.5" cy="698.4" r="4.6"/><circle cx="1310.7" cy="699.6" r="4.6"/><circle cx="1315.4" cy="695" r="4.6"/><circle cx="1312.8" cy="696.8" r="4.6"/><circle cx="1321.3" cy="697.2" r="4.6"/><circle cx="1327.6" cy="696.4" r="4.6"/><circle cx="1329.5" cy="696.9" r="4.6"/><circle cx="1335.4" cy="695.1" r="4.6"/><circle cx="1338.2" cy="697.6" r="4.6"/><circle cx="1342.9" cy="698.3" r="4.6"/><circle cx="1338.2" cy="694.8" r="4.6"/><circle cx="1338.5" cy="695.4" r="4.6"/><circle cx="1339.8" cy="695.1" r="4.6"/><circle cx="1350.7" cy="699" r="4.6"/><circle cx="1347.1" cy="698.7" r="4.6"/><circle cx="1348" cy="694.9" r="4.6"/><circle cx="1347" cy="694.1" r="4.6"/><circle cx="1355" cy="696.2" r="4.6"/><circle cx="1353" cy="696.4" r="4.6"/><circle cx="1359.6" cy="698" r="4.6"/><circle cx="1357.2" cy="699.4" r="4.6"/><circle cx="1365" cy="694.5" r="4.6"/><circle cx="1368.6" cy="695.9" r="4.6"/><circle cx="1372.3" cy="698.7" r="4.6"/><circle cx="1377.1" cy="699" r="4.6"/><circle cx="1383.4" cy="699.4" r="4.6"/><circle cx="1392.2" cy="694.3" r="4.6"/><circle cx="1391.7" cy="694.2" r="4.6"/><circle cx="1389.7" cy="694.4" r="4.6"/><circle cx="1390.3" cy="698.2" r="4.6"/><circle cx="1400.9" cy="697.2" r="4.6"/><circle cx="1405.7" cy="696.8" r="4.6"/><circle cx="1418.1" cy="695.7" r="4.6"/><circle cx="1418.5" cy="699.2" r="4.6"/><circle cx="1426.2" cy="696.2" r="4.6"/><circle cx="1431.4" cy="698.5" r="4.6"/><circle cx="1431.3" cy="695.1" r="4.6"/><circle cx="1425.4" cy="695.4" r="4.6"/><circle cx="1431.7" cy="696.9" r="4.6"/><circle cx="1434.7" cy="696.9" r="4.6"/><circle cx="1438.4" cy="697.8" r="4.6"/><circle cx="1444.4" cy="694.7" r="4.6"/><circle cx="1443.8" cy="694.6" r="4.6"/><circle cx="1444.9" cy="695.8" r="4.6"/><circle cx="1449.1" cy="694.3" r="4.6"/><circle cx="1447.2" cy="695.1" r="4.6"/><circle cx="1444.4" cy="699.3" r="4.6"/><circle cx="1447.7" cy="696.2" r="4.6"/><circle cx="1444.9" cy="694.3" r="4.6"/><circle cx="1471.9" cy="699.6" r="4.6"/><circle cx="1514.9" cy="698.8" r="4.6"/><circle cx="1543.6" cy="696.6" r="4.6"/><circle cx="1571.6" cy="698.1" r="4.6"/><circle cx="1205.4" cy="702.6" r="4.6"/><circle cx="1229.7" cy="703.2" r="4.6"/><circle cx="1233.2" cy="703.4" r="4.6"/><circle cx="1232.8" cy="702.9" r="4.6"/><circle cx="1243.2" cy="701.7" r="4.6"/><circle cx="1253.6" cy="705.5" r="4.6"/><circle cx="1256.1" cy="700.6" r="4.6"/><circle cx="1262.7" cy="702.5" r="4.6"/><circle cx="1270.8" cy="700.9" r="4.6"/><circle cx="1278" cy="701.2" r="4.6"/><circle cx="1286.1" cy="704.3" r="4.6"/><circle cx="1283.8" cy="703.8" r="4.6"/><circle cx="1279.7" cy="700.4" r="4.6"/><circle cx="1285.7" cy="701.2" r="4.6"/><circle cx="1285.3" cy="702.2" r="4.6"/><circle cx="1285.6" cy="704.6" r="4.6"/><circle cx="1285.8" cy="701.6" r="4.6"/><circle cx="1295.2" cy="702" r="4.6"/><circle cx="1294.1" cy="705.6" r="4.6"/><circle cx="1293.5" cy="703.6" r="4.6"/><circle cx="1298.6" cy="704.8" r="4.6"/><circle cx="1308.2" cy="700.3" r="4.6"/><circle cx="1305.5" cy="705.4" r="4.6"/><circle cx="1312.9" cy="701.8" r="4.6"/><circle cx="1312.9" cy="704.5" r="4.6"/><circle cx="1316.7" cy="703.5" r="4.6"/><circle cx="1325.4" cy="700.7" r="4.6"/><circle cx="1331.7" cy="705.5" r="4.6"/><circle cx="1327.1" cy="699.8" r="4.6"/><circle cx="1337.7" cy="703.6" r="4.6"/><circle cx="1334.6" cy="704.3" r="4.6"/><circle cx="1338.9" cy="701.5" r="4.6"/><circle cx="1335.7" cy="703.6" r="4.6"/><circle cx="1339.1" cy="701.1" r="4.6"/><circle cx="1343.7" cy="702.6" r="4.6"/><circle cx="1345.4" cy="702.6" r="4.6"/><circle cx="1350.5" cy="703.7" r="4.6"/><circle cx="1356.8" cy="704.4" r="4.6"/><circle cx="1355.2" cy="699.9" r="4.6"/><circle cx="1361.1" cy="704.8" r="4.6"/><circle cx="1366.7" cy="699.9" r="4.6"/><circle cx="1363.3" cy="702.4" r="4.6"/><circle cx="1365.3" cy="704.8" r="4.6"/><circle cx="1372.2" cy="700.2" r="4.6"/><circle cx="1380.5" cy="702.2" r="4.6"/><circle cx="1375.7" cy="703" r="4.6"/><circle cx="1382.6" cy="701.9" r="4.6"/><circle cx="1392.3" cy="703.7" r="4.6"/><circle cx="1388.5" cy="701.7" r="4.6"/><circle cx="1395.7" cy="703.4" r="4.6"/><circle cx="1392" cy="703.4" r="4.6"/><circle cx="1396.1" cy="703.7" r="4.6"/><circle cx="1393.2" cy="704.1" r="4.6"/><circle cx="1404.8" cy="702" r="4.6"/><circle cx="1404.7" cy="700.5" r="4.6"/><circle cx="1402.6" cy="705.7" r="4.6"/><circle cx="1404.9" cy="703.4" r="4.6"/><circle cx="1405.3" cy="701.9" r="4.6"/><circle cx="1405.5" cy="700.8" r="4.6"/><circle cx="1419" cy="700.3" r="4.6"/><circle cx="1425.1" cy="703.3" r="4.6"/><circle cx="1432.2" cy="704.3" r="4.6"/><circle cx="1440.1" cy="705" r="4.6"/><circle cx="1431.2" cy="705.6" r="4.6"/><circle cx="1435.1" cy="699.9" r="4.6"/><circle cx="1444.8" cy="699.8" r="4.6"/><circle cx="1442" cy="700.1" r="4.6"/><circle cx="1451.4" cy="701.4" r="4.6"/><circle cx="1450.7" cy="700" r="4.6"/><circle cx="1453.2" cy="702.2" r="4.6"/><circle cx="1458" cy="701.2" r="4.6"/><circle cx="1453.5" cy="700.9" r="4.6"/><circle cx="1463.8" cy="700.5" r="4.6"/><circle cx="1458" cy="703.4" r="4.6"/><circle cx="1461.4" cy="703" r="4.6"/><circle cx="1459.9" cy="704.9" r="4.6"/><circle cx="1471.7" cy="699.7" r="4.6"/><circle cx="1474.4" cy="705.6" r="4.6"/><circle cx="1486.7" cy="700.2" r="4.6"/><circle cx="1510.6" cy="700.9" r="4.6"/><circle cx="1517.5" cy="705.4" r="4.6"/><circle cx="1516.3" cy="702.6" r="4.6"/><circle cx="1195.4" cy="707.5" r="4.6"/><circle cx="1199.3" cy="711.7" r="4.6"/><circle cx="1202.2" cy="711.6" r="4.6"/><circle cx="1246.3" cy="707.6" r="4.6"/><circle cx="1247.2" cy="707.3" r="4.6"/><circle cx="1249.2" cy="710.4" r="4.6"/><circle cx="1250.9" cy="709.2" r="4.6"/><circle cx="1250.1" cy="706.3" r="4.6"/><circle cx="1250.4" cy="711.3" r="4.6"/><circle cx="1272.6" cy="711.3" r="4.6"/><circle cx="1261.7" cy="706.8" r="4.6"/><circle cx="1272.8" cy="708.6" r="4.6"/><circle cx="1278.1" cy="707.7" r="4.6"/><circle cx="1289.9" cy="706.6" r="4.6"/><circle cx="1292.3" cy="708.4" r="4.6"/><circle cx="1304.4" cy="707.2" r="4.6"/><circle cx="1310.3" cy="710.4" r="4.6"/><circle cx="1320.8" cy="706.9" r="4.6"/><circle cx="1325.7" cy="707.9" r="4.6"/><circle cx="1318" cy="707.8" r="4.6"/><circle cx="1326.3" cy="708.6" r="4.6"/><circle cx="1322.8" cy="710" r="4.6"/><circle cx="1323.3" cy="710.6" r="4.6"/><circle cx="1324.7" cy="708.1" r="4.6"/><circle cx="1321.4" cy="707.9" r="4.6"/><circle cx="1328.5" cy="710.4" r="4.6"/><circle cx="1338.8" cy="707.1" r="4.6"/><circle cx="1338.8" cy="707.4" r="4.6"/><circle cx="1338.8" cy="709.7" r="4.6"/><circle cx="1339.1" cy="709.1" r="4.6"/><circle cx="1345.6" cy="707.5" r="4.6"/><circle cx="1351.6" cy="709.1" r="4.6"/><circle cx="1352.4" cy="709.1" r="4.6"/><circle cx="1352.6" cy="710.6" r="4.6"/><circle cx="1360.1" cy="709" r="4.6"/><circle cx="1368.7" cy="707.7" r="4.6"/><circle cx="1365.3" cy="707.4" r="4.6"/><circle cx="1379.3" cy="709.6" r="4.6"/><circle cx="1370.2" cy="711.4" r="4.6"/><circle cx="1365.7" cy="711.2" r="4.6"/><circle cx="1365.4" cy="711.2" r="4.6"/><circle cx="1379" cy="709.9" r="4.6"/><circle cx="1382.1" cy="707.7" r="4.6"/><circle cx="1393" cy="709" r="4.6"/><circle cx="1391.9" cy="707" r="4.6"/><circle cx="1389" cy="708.7" r="4.6"/><circle cx="1388.9" cy="711" r="4.6"/><circle cx="1405.4" cy="711.3" r="4.6"/><circle cx="1409.7" cy="707.5" r="4.6"/><circle cx="1409" cy="707.1" r="4.6"/><circle cx="1418.4" cy="706.3" r="4.6"/><circle cx="1418.9" cy="706.3" r="4.6"/><circle cx="1424.1" cy="708.5" r="4.6"/><circle cx="1430.6" cy="706.1" r="4.6"/><circle cx="1432.8" cy="710.1" r="4.6"/><circle cx="1433.5" cy="711.3" r="4.6"/><circle cx="1432.1" cy="710.4" r="4.6"/><circle cx="1440.3" cy="710.5" r="4.6"/><circle cx="1445.1" cy="707.2" r="4.6"/><circle cx="1444.1" cy="710.7" r="4.6"/><circle cx="1452.1" cy="709.6" r="4.6"/><circle cx="1448.9" cy="708.7" r="4.6"/><circle cx="1458.1" cy="707.3" r="4.6"/><circle cx="1456.7" cy="710.9" r="4.6"/><circle cx="1458.4" cy="706.7" r="4.6"/><circle cx="1459.6" cy="706.4" r="4.6"/><circle cx="1462" cy="706.5" r="4.6"/><circle cx="1471.6" cy="710.4" r="4.6"/><circle cx="1470.8" cy="707.2" r="4.6"/><circle cx="1471.9" cy="709.8" r="4.6"/><circle cx="1475.4" cy="707.7" r="4.6"/><circle cx="1470.6" cy="708.1" r="4.6"/><circle cx="1470.8" cy="709.4" r="4.6"/><circle cx="1485.1" cy="711.2" r="4.6"/><circle cx="1484.2" cy="710" r="4.6"/><circle cx="1488.6" cy="709.6" r="4.6"/><circle cx="1151.4" cy="714.4" r="4.6"/><circle cx="1175.3" cy="713.7" r="4.6"/><circle cx="1198.1" cy="711.9" r="4.6"/><circle cx="1233.2" cy="713.8" r="4.6"/><circle cx="1229.7" cy="716.9" r="4.6"/><circle cx="1229" cy="717.6" r="4.6"/><circle cx="1245.6" cy="715.1" r="4.6"/><circle cx="1253.5" cy="713.7" r="4.6"/><circle cx="1257" cy="713.3" r="4.6"/><circle cx="1256.7" cy="714.1" r="4.6"/><circle cx="1272.7" cy="714.1" r="4.6"/><circle cx="1259.5" cy="713.2" r="4.6"/><circle cx="1262.5" cy="717.1" r="4.6"/><circle cx="1271.7" cy="716.4" r="4.6"/><circle cx="1270.2" cy="716.8" r="4.6"/><circle cx="1281.1" cy="714.5" r="4.6"/><circle cx="1286" cy="713.1" r="4.6"/><circle cx="1283.5" cy="716.2" r="4.6"/><circle cx="1285.9" cy="712.4" r="4.6"/><circle cx="1287.9" cy="717.3" r="4.6"/><circle cx="1291.5" cy="714.6" r="4.6"/><circle cx="1298.8" cy="712.3" r="4.6"/><circle cx="1285.6" cy="713.3" r="4.6"/><circle cx="1297.2" cy="717.3" r="4.6"/><circle cx="1299.1" cy="715.4" r="4.6"/><circle cx="1313.2" cy="716.3" r="4.6"/><circle cx="1312.6" cy="712.5" r="4.6"/><circle cx="1309.3" cy="716.2" r="4.6"/><circle cx="1325.3" cy="713.4" r="4.6"/><circle cx="1316.6" cy="716.8" r="4.6"/><circle cx="1316.9" cy="713.4" r="4.6"/><circle cx="1325.9" cy="716.8" r="4.6"/><circle cx="1333.1" cy="717.1" r="4.6"/><circle cx="1339.7" cy="717.4" r="4.6"/><circle cx="1341" cy="714.6" r="4.6"/><circle cx="1375.1" cy="715.4" r="4.6"/><circle cx="1375.7" cy="717" r="4.6"/><circle cx="1383.5" cy="715.5" r="4.6"/><circle cx="1390.3" cy="712.5" r="4.6"/><circle cx="1391.5" cy="712.2" r="4.6"/><circle cx="1391.6" cy="716" r="4.6"/><circle cx="1388.3" cy="714.3" r="4.6"/><circle cx="1393.8" cy="716.6" r="4.6"/><circle cx="1391.4" cy="712" r="4.6"/><circle cx="1395.5" cy="715.7" r="4.6"/><circle cx="1405.2" cy="715.6" r="4.6"/><circle cx="1405.6" cy="712.8" r="4.6"/><circle cx="1409.6" cy="713.7" r="4.6"/><circle cx="1410.4" cy="712.6" r="4.6"/><circle cx="1415.9" cy="717.5" r="4.6"/><circle cx="1415.8" cy="716.7" r="4.6"/><circle cx="1417.8" cy="716.2" r="4.6"/><circle cx="1405.1" cy="717.2" r="4.6"/><circle cx="1415.2" cy="714.2" r="4.6"/><circle cx="1418.4" cy="716.9" r="4.6"/><circle cx="1431.7" cy="717.4" r="4.6"/><circle cx="1426.8" cy="712" r="4.6"/><circle cx="1427" cy="716.6" r="4.6"/><circle cx="1445.5" cy="713.9" r="4.6"/><circle cx="1436.9" cy="717" r="4.6"/><circle cx="1430.9" cy="717.5" r="4.6"/><circle cx="1438.8" cy="717.4" r="4.6"/><circle cx="1442.8" cy="713.3" r="4.6"/><circle cx="1455.9" cy="712.2" r="4.6"/><circle cx="1458.1" cy="712.2" r="4.6"/><circle cx="1457.9" cy="711.9" r="4.6"/><circle cx="1458.5" cy="715.8" r="4.6"/><circle cx="1455.8" cy="716.9" r="4.6"/><circle cx="1462" cy="716.1" r="4.6"/><circle cx="1457.7" cy="717.5" r="4.6"/><circle cx="1459.1" cy="713.5" r="4.6"/><circle cx="1462.1" cy="711.9" r="4.6"/><circle cx="1461.9" cy="716.3" r="4.6"/><circle cx="1468.5" cy="712.2" r="4.6"/><circle cx="1475.1" cy="711.8" r="4.6"/><circle cx="1471" cy="715.1" r="4.6"/><circle cx="1471.3" cy="714.2" r="4.6"/><circle cx="1471.5" cy="714.8" r="4.6"/><circle cx="1471.4" cy="713" r="4.6"/><circle cx="1481" cy="711.8" r="4.6"/><circle cx="1483.8" cy="713" r="4.6"/><circle cx="1530.9" cy="715.2" r="4.6"/><circle cx="1162.5" cy="720.8" r="4.6"/><circle cx="1177.9" cy="721.1" r="4.6"/><circle cx="1192.1" cy="720.7" r="4.6"/><circle cx="1192.3" cy="720.1" r="4.6"/><circle cx="1199.5" cy="718.5" r="4.6"/><circle cx="1217" cy="718.7" r="4.6"/><circle cx="1218.3" cy="721.5" r="4.6"/><circle cx="1215.1" cy="720.3" r="4.6"/><circle cx="1232.8" cy="722.2" r="4.6"/><circle cx="1233.4" cy="719.4" r="4.6"/><circle cx="1235" cy="721.3" r="4.6"/><circle cx="1242.1" cy="720.8" r="4.6"/><circle cx="1259" cy="718.5" r="4.6"/><circle cx="1262.8" cy="720.6" r="4.6"/><circle cx="1272.1" cy="720.1" r="4.6"/><circle cx="1271.9" cy="720.6" r="4.6"/><circle cx="1272.6" cy="722.2" r="4.6"/><circle cx="1274.4" cy="719.4" r="4.6"/><circle cx="1280" cy="717.8" r="4.6"/><circle cx="1282.8" cy="723.4" r="4.6"/><circle cx="1286.2" cy="721.9" r="4.6"/><circle cx="1287.3" cy="720.1" r="4.6"/><circle cx="1289.6" cy="722.8" r="4.6"/><circle cx="1287.8" cy="721.7" r="4.6"/><circle cx="1285.9" cy="718.2" r="4.6"/><circle cx="1285.9" cy="722.2" r="4.6"/><circle cx="1302.8" cy="720.2" r="4.6"/><circle cx="1299.9" cy="720.2" r="4.6"/><circle cx="1300.9" cy="722.5" r="4.6"/><circle cx="1299" cy="721" r="4.6"/><circle cx="1299.1" cy="717.9" r="4.6"/><circle cx="1312.5" cy="722.3" r="4.6"/><circle cx="1308.2" cy="722.5" r="4.6"/><circle cx="1308.1" cy="718.6" r="4.6"/><circle cx="1305.5" cy="721.9" r="4.6"/><circle cx="1314.1" cy="721.5" r="4.6"/><circle cx="1309.7" cy="722.1" r="4.6"/><circle cx="1321.5" cy="719.9" r="4.6"/><circle cx="1336.9" cy="719.1" r="4.6"/><circle cx="1342.8" cy="722.2" r="4.6"/><circle cx="1343.1" cy="722.3" r="4.6"/><circle cx="1351.9" cy="721.6" r="4.6"/><circle cx="1351.6" cy="723" r="4.6"/><circle cx="1377.4" cy="719.1" r="4.6"/><circle cx="1378.7" cy="723.2" r="4.6"/><circle cx="1381.6" cy="719.9" r="4.6"/><circle cx="1378.7" cy="722.8" r="4.6"/><circle cx="1391.3" cy="722.3" r="4.6"/><circle cx="1391.9" cy="723.6" r="4.6"/><circle cx="1391.6" cy="719.8" r="4.6"/><circle cx="1405.1" cy="718.5" r="4.6"/><circle cx="1401.8" cy="721.2" r="4.6"/><circle cx="1400.3" cy="723.2" r="4.6"/><circle cx="1400.5" cy="720" r="4.6"/><circle cx="1405.9" cy="721.7" r="4.6"/><circle cx="1405.3" cy="718.7" r="4.6"/><circle cx="1407.4" cy="718.5" r="4.6"/><circle cx="1418.2" cy="720.1" r="4.6"/><circle cx="1412.9" cy="722.8" r="4.6"/><circle cx="1419.8" cy="723.3" r="4.6"/><circle cx="1428.3" cy="721.2" r="4.6"/><circle cx="1427.4" cy="721" r="4.6"/><circle cx="1430.6" cy="721.4" r="4.6"/><circle cx="1431.4" cy="719.4" r="4.6"/><circle cx="1430.8" cy="723.2" r="4.6"/><circle cx="1444" cy="721.6" r="4.6"/><circle cx="1431.3" cy="720.7" r="4.6"/><circle cx="1439.3" cy="720.3" r="4.6"/><circle cx="1445.6" cy="721" r="4.6"/><circle cx="1444.7" cy="721" r="4.6"/><circle cx="1452.7" cy="718.4" r="4.6"/><circle cx="1457" cy="721.3" r="4.6"/><circle cx="1464.9" cy="718.6" r="4.6"/><circle cx="1470.4" cy="719.7" r="4.6"/><circle cx="1470.3" cy="719.8" r="4.6"/><circle cx="1467.1" cy="722.7" r="4.6"/><circle cx="1473.3" cy="718.4" r="4.6"/><circle cx="1471.7" cy="719.5" r="4.6"/><circle cx="1486.1" cy="718.9" r="4.6"/><circle cx="1484.7" cy="721.5" r="4.6"/><circle cx="1515.9" cy="723.2" r="4.6"/><circle cx="1530.3" cy="723.5" r="4.6"/><circle cx="1538.6" cy="718.8" r="4.6"/><circle cx="1198.4" cy="728.3" r="4.6"/><circle cx="1205.4" cy="728" r="4.6"/><circle cx="1218.7" cy="726.2" r="4.6"/><circle cx="1219.9" cy="728.5" r="4.6"/><circle cx="1228" cy="726.4" r="4.6"/><circle cx="1236.3" cy="727" r="4.6"/><circle cx="1231.4" cy="728.9" r="4.6"/><circle cx="1246.6" cy="729.4" r="4.6"/><circle cx="1246.5" cy="725.2" r="4.6"/><circle cx="1256.2" cy="725.5" r="4.6"/><circle cx="1262.3" cy="729.3" r="4.6"/><circle cx="1269.4" cy="724.9" r="4.6"/><circle cx="1280.5" cy="725.9" r="4.6"/><circle cx="1288.2" cy="728.2" r="4.6"/><circle cx="1285.4" cy="728.2" r="4.6"/><circle cx="1288.2" cy="723.9" r="4.6"/><circle cx="1286" cy="729.2" r="4.6"/><circle cx="1293.7" cy="725.4" r="4.6"/><circle cx="1293.9" cy="727.6" r="4.6"/><circle cx="1298.9" cy="724.9" r="4.6"/><circle cx="1312.2" cy="728" r="4.6"/><circle cx="1325.4" cy="727.9" r="4.6"/><circle cx="1324.8" cy="724.3" r="4.6"/><circle cx="1325.8" cy="723.9" r="4.6"/><circle cx="1338.9" cy="724.9" r="4.6"/><circle cx="1352.3" cy="724" r="4.6"/><circle cx="1369.7" cy="724.5" r="4.6"/><circle cx="1388.5" cy="727.4" r="4.6"/><circle cx="1391.2" cy="727.2" r="4.6"/><circle cx="1410.7" cy="725.9" r="4.6"/><circle cx="1404.9" cy="728.4" r="4.6"/><circle cx="1409.2" cy="729.4" r="4.6"/><circle cx="1418.6" cy="727.1" r="4.6"/><circle cx="1412.8" cy="728.6" r="4.6"/><circle cx="1425.6" cy="725.4" r="4.6"/><circle cx="1433.4" cy="726.7" r="4.6"/><circle cx="1429.3" cy="727.2" r="4.6"/><circle cx="1431.9" cy="725.5" r="4.6"/><circle cx="1431.5" cy="729.4" r="4.6"/><circle cx="1431.3" cy="724.4" r="4.6"/><circle cx="1431.3" cy="724.4" r="4.6"/><circle cx="1437.9" cy="729.4" r="4.6"/><circle cx="1455.9" cy="724.4" r="4.6"/><circle cx="1457.6" cy="728.3" r="4.6"/><circle cx="1467.6" cy="724.7" r="4.6"/><circle cx="1500.2" cy="729.5" r="4.6"/><circle cx="1532.5" cy="728.4" r="4.6"/><circle cx="1150.2" cy="734.7" r="4.6"/><circle cx="1152.2" cy="730.7" r="4.6"/><circle cx="1158.9" cy="732.7" r="4.6"/><circle cx="1158.8" cy="732" r="4.6"/><circle cx="1187" cy="730.9" r="4.6"/><circle cx="1186.2" cy="733.1" r="4.6"/><circle cx="1201.5" cy="735" r="4.6"/><circle cx="1213.8" cy="730.7" r="4.6"/><circle cx="1226" cy="734.4" r="4.6"/><circle cx="1233.8" cy="731.8" r="4.6"/><circle cx="1237.8" cy="731.2" r="4.6"/><circle cx="1246.2" cy="733.1" r="4.6"/><circle cx="1250.2" cy="733.3" r="4.6"/><circle cx="1259" cy="733.9" r="4.6"/><circle cx="1256.7" cy="733.5" r="4.6"/><circle cx="1262.7" cy="733.8" r="4.6"/><circle cx="1261.7" cy="734" r="4.6"/><circle cx="1261.1" cy="735.4" r="4.6"/><circle cx="1270.3" cy="731.8" r="4.6"/><circle cx="1271.9" cy="730.5" r="4.6"/><circle cx="1269.9" cy="733.2" r="4.6"/><circle cx="1271.1" cy="733.5" r="4.6"/><circle cx="1269.9" cy="732.6" r="4.6"/><circle cx="1272.2" cy="731.5" r="4.6"/><circle cx="1274.7" cy="732.2" r="4.6"/><circle cx="1276.3" cy="735" r="4.6"/><circle cx="1286" cy="733.3" r="4.6"/><circle cx="1285.1" cy="733.5" r="4.6"/><circle cx="1285.6" cy="735.3" r="4.6"/><circle cx="1292.9" cy="734.8" r="4.6"/><circle cx="1306.2" cy="730.4" r="4.6"/><circle cx="1303.3" cy="735" r="4.6"/><circle cx="1325.1" cy="732.5" r="4.6"/><circle cx="1322.5" cy="729.7" r="4.6"/><circle cx="1323.9" cy="733.4" r="4.6"/><circle cx="1322.2" cy="733.2" r="4.6"/><circle cx="1328.9" cy="733.2" r="4.6"/><circle cx="1339.2" cy="730.5" r="4.6"/><circle cx="1366.3" cy="733.2" r="4.6"/><circle cx="1370.4" cy="731.6" r="4.6"/><circle cx="1376.6" cy="732.9" r="4.6"/><circle cx="1375.4" cy="735.5" r="4.6"/><circle cx="1378.6" cy="732.8" r="4.6"/><circle cx="1392.8" cy="735.2" r="4.6"/><circle cx="1395.9" cy="735.4" r="4.6"/><circle cx="1395.1" cy="735.6" r="4.6"/><circle cx="1399.5" cy="731" r="4.6"/><circle cx="1405" cy="735.6" r="4.6"/><circle cx="1418.3" cy="732.1" r="4.6"/><circle cx="1413" cy="730.5" r="4.6"/><circle cx="1418.6" cy="735.5" r="4.6"/><circle cx="1418.8" cy="732.1" r="4.6"/><circle cx="1431.4" cy="734.8" r="4.6"/><circle cx="1424" cy="730.9" r="4.6"/><circle cx="1431.5" cy="733.8" r="4.6"/><circle cx="1431" cy="734.5" r="4.6"/><circle cx="1434.3" cy="734.5" r="4.6"/><circle cx="1431.6" cy="731.7" r="4.6"/><circle cx="1431.7" cy="735.5" r="4.6"/><circle cx="1437.9" cy="734.8" r="4.6"/><circle cx="1440.3" cy="733.4" r="4.6"/><circle cx="1445.4" cy="732.1" r="4.6"/><circle cx="1435.3" cy="732.4" r="4.6"/><circle cx="1446.5" cy="729.7" r="4.6"/><circle cx="1444.7" cy="732.6" r="4.6"/><circle cx="1441.5" cy="734.9" r="4.6"/><circle cx="1452.8" cy="734" r="4.6"/><circle cx="1458.5" cy="731.4" r="4.6"/><circle cx="1450.5" cy="735.2" r="4.6"/><circle cx="1458.2" cy="731.9" r="4.6"/><circle cx="1462.2" cy="732.7" r="4.6"/><circle cx="1471.9" cy="735.1" r="4.6"/><circle cx="1471.5" cy="731.3" r="4.6"/><circle cx="1471.7" cy="731.4" r="4.6"/><circle cx="1471.1" cy="731.4" r="4.6"/><circle cx="1478.4" cy="731.1" r="4.6"/><circle cx="1513.9" cy="734.7" r="4.6"/><circle cx="1520.9" cy="735" r="4.6"/><circle cx="1545.3" cy="732.7" r="4.6"/><circle cx="1167.3" cy="741.1" r="4.6"/><circle cx="1168.4" cy="739.2" r="4.6"/><circle cx="1174.5" cy="741" r="4.6"/><circle cx="1178.2" cy="740.7" r="4.6"/><circle cx="1177.2" cy="741.2" r="4.6"/><circle cx="1177" cy="737.5" r="4.6"/><circle cx="1195.6" cy="740.1" r="4.6"/><circle cx="1219.8" cy="736.2" r="4.6"/><circle cx="1226.5" cy="736" r="4.6"/><circle cx="1232.7" cy="740.6" r="4.6"/><circle cx="1237.8" cy="738.8" r="4.6"/><circle cx="1244.6" cy="741" r="4.6"/><circle cx="1243.3" cy="741.1" r="4.6"/><circle cx="1260.8" cy="741.4" r="4.6"/><circle cx="1258.7" cy="739.4" r="4.6"/><circle cx="1255" cy="739.1" r="4.6"/><circle cx="1266.5" cy="736.7" r="4.6"/><circle cx="1259.7" cy="739" r="4.6"/><circle cx="1267.1" cy="740.2" r="4.6"/><circle cx="1272.6" cy="741.6" r="4.6"/><circle cx="1267.7" cy="736.6" r="4.6"/><circle cx="1278.5" cy="737.7" r="4.6"/><circle cx="1278" cy="737.9" r="4.6"/><circle cx="1278.8" cy="739.1" r="4.6"/><circle cx="1275.3" cy="740.6" r="4.6"/><circle cx="1273.4" cy="738.2" r="4.6"/><circle cx="1284.5" cy="737.4" r="4.6"/><circle cx="1286.3" cy="738.3" r="4.6"/><circle cx="1286.9" cy="736.6" r="4.6"/><circle cx="1290.7" cy="736.7" r="4.6"/><circle cx="1301.6" cy="740.4" r="4.6"/><circle cx="1308.7" cy="737.3" r="4.6"/><circle cx="1312.7" cy="737.8" r="4.6"/><circle cx="1311.8" cy="737.7" r="4.6"/><circle cx="1320.9" cy="736.9" r="4.6"/><circle cx="1322" cy="739.7" r="4.6"/><circle cx="1325.2" cy="736.2" r="4.6"/><circle cx="1333" cy="738.2" r="4.6"/><circle cx="1338.3" cy="738.6" r="4.6"/><circle cx="1334" cy="738.4" r="4.6"/><circle cx="1339.8" cy="737.9" r="4.6"/><circle cx="1346.2" cy="736.1" r="4.6"/><circle cx="1348.5" cy="738.7" r="4.6"/><circle cx="1346.2" cy="740.1" r="4.6"/><circle cx="1359.1" cy="736" r="4.6"/><circle cx="1361" cy="740.5" r="4.6"/><circle cx="1374.9" cy="736.4" r="4.6"/><circle cx="1378.8" cy="740.4" r="4.6"/><circle cx="1400.8" cy="740.5" r="4.6"/><circle cx="1405.6" cy="737.6" r="4.6"/><circle cx="1411.3" cy="738.3" r="4.6"/><circle cx="1418.9" cy="741.1" r="4.6"/><circle cx="1422.6" cy="738.9" r="4.6"/><circle cx="1418.9" cy="738.6" r="4.6"/><circle cx="1418" cy="738.6" r="4.6"/><circle cx="1422.5" cy="740.6" r="4.6"/><circle cx="1418" cy="739.4" r="4.6"/><circle cx="1428.4" cy="736.4" r="4.6"/><circle cx="1424.4" cy="736.2" r="4.6"/><circle cx="1427.1" cy="741" r="4.6"/><circle cx="1431.4" cy="737.6" r="4.6"/><circle cx="1434.7" cy="737.4" r="4.6"/><circle cx="1432.3" cy="736.5" r="4.6"/><circle cx="1432.6" cy="741.3" r="4.6"/><circle cx="1436.2" cy="738.6" r="4.6"/><circle cx="1444.3" cy="739.1" r="4.6"/><circle cx="1440.8" cy="740.2" r="4.6"/><circle cx="1438.8" cy="741.4" r="4.6"/><circle cx="1435.6" cy="740.3" r="4.6"/><circle cx="1441.3" cy="740.5" r="4.6"/><circle cx="1444.1" cy="738.9" r="4.6"/><circle cx="1448.4" cy="737.2" r="4.6"/><circle cx="1458.7" cy="737.7" r="4.6"/><circle cx="1455.5" cy="736.1" r="4.6"/><circle cx="1459.8" cy="737.3" r="4.6"/><circle cx="1471.3" cy="738.9" r="4.6"/><circle cx="1466.6" cy="740.8" r="4.6"/><circle cx="1471" cy="741" r="4.6"/><circle cx="1471.4" cy="737.8" r="4.6"/><circle cx="1473.6" cy="736.5" r="4.6"/><circle cx="1474.8" cy="741.1" r="4.6"/><circle cx="1484.9" cy="740.9" r="4.6"/><circle cx="1500.9" cy="741.5" r="4.6"/><circle cx="1496.1" cy="739.8" r="4.6"/><circle cx="1505.2" cy="739.8" r="4.6"/><circle cx="1175.6" cy="743.2" r="4.6"/><circle cx="1201.6" cy="744.4" r="4.6"/><circle cx="1222.6" cy="743.2" r="4.6"/><circle cx="1246.3" cy="746.1" r="4.6"/><circle cx="1239.6" cy="747" r="4.6"/><circle cx="1246.9" cy="742.9" r="4.6"/><circle cx="1245.6" cy="742.7" r="4.6"/><circle cx="1249.7" cy="742.8" r="4.6"/><circle cx="1253.6" cy="745.7" r="4.6"/><circle cx="1253.1" cy="742.3" r="4.6"/><circle cx="1258.3" cy="746" r="4.6"/><circle cx="1255.5" cy="742.8" r="4.6"/><circle cx="1260" cy="743.6" r="4.6"/><circle cx="1259" cy="742.2" r="4.6"/><circle cx="1256.5" cy="745.6" r="4.6"/><circle cx="1272" cy="747.2" r="4.6"/><circle cx="1272.8" cy="746.8" r="4.6"/><circle cx="1280.8" cy="743.6" r="4.6"/><circle cx="1283.9" cy="746.4" r="4.6"/><circle cx="1291.2" cy="742.8" r="4.6"/><circle cx="1303.1" cy="747.4" r="4.6"/><circle cx="1320.1" cy="743.1" r="4.6"/><circle cx="1325.5" cy="744.6" r="4.6"/><circle cx="1331.2" cy="745" r="4.6"/><circle cx="1356.5" cy="746.2" r="4.6"/><circle cx="1360.1" cy="745.9" r="4.6"/><circle cx="1357.4" cy="745.2" r="4.6"/><circle cx="1352.2" cy="745.7" r="4.6"/><circle cx="1376.2" cy="742.7" r="4.6"/><circle cx="1378.8" cy="742.6" r="4.6"/><circle cx="1395.2" cy="746.1" r="4.6"/><circle cx="1393.3" cy="744.2" r="4.6"/><circle cx="1392.3" cy="743.4" r="4.6"/><circle cx="1397.4" cy="742.6" r="4.6"/><circle cx="1404.6" cy="746.1" r="4.6"/><circle cx="1404.2" cy="745.9" r="4.6"/><circle cx="1410.6" cy="744.2" r="4.6"/><circle cx="1405.8" cy="743.2" r="4.6"/><circle cx="1406" cy="742.6" r="4.6"/><circle cx="1418.5" cy="744.7" r="4.6"/><circle cx="1418.3" cy="747.7" r="4.6"/><circle cx="1418.6" cy="743.2" r="4.6"/><circle cx="1427.1" cy="741.8" r="4.6"/><circle cx="1423.8" cy="744.9" r="4.6"/><circle cx="1425.3" cy="747.2" r="4.6"/><circle cx="1429.6" cy="742.5" r="4.6"/><circle cx="1431.3" cy="744.1" r="4.6"/><circle cx="1445.3" cy="742.6" r="4.6"/><circle cx="1438.4" cy="745.1" r="4.6"/><circle cx="1432.4" cy="743.1" r="4.6"/><circle cx="1445.6" cy="743.1" r="4.6"/><circle cx="1447.1" cy="742.6" r="4.6"/><circle cx="1452.4" cy="747.6" r="4.6"/><circle cx="1445.4" cy="745.3" r="4.6"/><circle cx="1460.3" cy="743.9" r="4.6"/><circle cx="1471.2" cy="744.5" r="4.6"/><circle cx="1471.1" cy="743.6" r="4.6"/><circle cx="1472.9" cy="745" r="4.6"/><circle cx="1480.3" cy="742.2" r="4.6"/><circle cx="1519.6" cy="743.3" r="4.6"/><circle cx="1160.4" cy="753.6" r="4.6"/><circle cx="1200.5" cy="753" r="4.6"/><circle cx="1213" cy="750.4" r="4.6"/><circle cx="1210.5" cy="748.3" r="4.6"/><circle cx="1220.3" cy="752.9" r="4.6"/><circle cx="1226" cy="748.3" r="4.6"/><circle cx="1227.9" cy="751.4" r="4.6"/><circle cx="1232.8" cy="752.3" r="4.6"/><circle cx="1238.2" cy="751.9" r="4.6"/><circle cx="1241.1" cy="753.1" r="4.6"/><circle cx="1237.4" cy="749.4" r="4.6"/><circle cx="1245.9" cy="747.8" r="4.6"/><circle cx="1248.4" cy="749.6" r="4.6"/><circle cx="1259.4" cy="750.2" r="4.6"/><circle cx="1256.5" cy="750.1" r="4.6"/><circle cx="1258.1" cy="750.9" r="4.6"/><circle cx="1266.6" cy="751.6" r="4.6"/><circle cx="1272.8" cy="753.2" r="4.6"/><circle cx="1264.1" cy="747.7" r="4.6"/><circle cx="1270.8" cy="749.3" r="4.6"/><circle cx="1273" cy="751.3" r="4.6"/><circle cx="1271.7" cy="752.4" r="4.6"/><circle cx="1268.1" cy="748" r="4.6"/><circle cx="1282.9" cy="749.5" r="4.6"/><circle cx="1286.5" cy="750.8" r="4.6"/><circle cx="1290.2" cy="749.8" r="4.6"/><circle cx="1295" cy="748.4" r="4.6"/><circle cx="1299.4" cy="748.9" r="4.6"/><circle cx="1299.6" cy="751.9" r="4.6"/><circle cx="1312.6" cy="747.8" r="4.6"/><circle cx="1325.7" cy="750" r="4.6"/><circle cx="1325.9" cy="753.5" r="4.6"/><circle cx="1333.8" cy="750.2" r="4.6"/><circle cx="1365.5" cy="749.9" r="4.6"/><circle cx="1364.4" cy="747.8" r="4.6"/><circle cx="1379" cy="750.4" r="4.6"/><circle cx="1382.8" cy="751.6" r="4.6"/><circle cx="1389.2" cy="753.6" r="4.6"/><circle cx="1391.9" cy="751.6" r="4.6"/><circle cx="1401.7" cy="749.5" r="4.6"/><circle cx="1400.8" cy="752.3" r="4.6"/><circle cx="1408.3" cy="749.1" r="4.6"/><circle cx="1412.1" cy="751.9" r="4.6"/><circle cx="1419.3" cy="749.5" r="4.6"/><circle cx="1427.9" cy="747.8" r="4.6"/><circle cx="1418" cy="753.2" r="4.6"/><circle cx="1424.8" cy="753.2" r="4.6"/><circle cx="1433.7" cy="751.6" r="4.6"/><circle cx="1431.6" cy="748.5" r="4.6"/><circle cx="1432.4" cy="748.9" r="4.6"/><circle cx="1436.3" cy="753.3" r="4.6"/><circle cx="1436.8" cy="752.2" r="4.6"/><circle cx="1439" cy="753" r="4.6"/><circle cx="1439.7" cy="749.7" r="4.6"/><circle cx="1432.3" cy="753.5" r="4.6"/><circle cx="1443.6" cy="749.6" r="4.6"/><circle cx="1445.1" cy="749.4" r="4.6"/><circle cx="1454" cy="751.3" r="4.6"/><circle cx="1457.5" cy="750.9" r="4.6"/><circle cx="1453.1" cy="748.1" r="4.6"/><circle cx="1457.8" cy="752" r="4.6"/><circle cx="1457.7" cy="751.9" r="4.6"/><circle cx="1455.4" cy="749.5" r="4.6"/><circle cx="1462.2" cy="752.4" r="4.6"/><circle cx="1472.5" cy="749.3" r="4.6"/><circle cx="1471.9" cy="749.3" r="4.6"/><circle cx="1473.2" cy="752.7" r="4.6"/><circle cx="1488.3" cy="753" r="4.6"/><circle cx="1502.4" cy="751.1" r="4.6"/><circle cx="1179.4" cy="755.2" r="4.6"/><circle cx="1181.3" cy="756.7" r="4.6"/><circle cx="1195.6" cy="756.4" r="4.6"/><circle cx="1205" cy="755.8" r="4.6"/><circle cx="1203.9" cy="759.2" r="4.6"/><circle cx="1209.5" cy="756.4" r="4.6"/><circle cx="1216.4" cy="759.4" r="4.6"/><circle cx="1213.2" cy="754.3" r="4.6"/><circle cx="1216.8" cy="759.1" r="4.6"/><circle cx="1221.5" cy="755.8" r="4.6"/><circle cx="1220.8" cy="754.3" r="4.6"/><circle cx="1233.4" cy="754.9" r="4.6"/><circle cx="1225.8" cy="757.2" r="4.6"/><circle cx="1233" cy="754.6" r="4.6"/><circle cx="1231.4" cy="758.6" r="4.6"/><circle cx="1234" cy="756.3" r="4.6"/><circle cx="1240.2" cy="758.3" r="4.6"/><circle cx="1239.5" cy="759.2" r="4.6"/><circle cx="1238.8" cy="757.8" r="4.6"/><circle cx="1246.9" cy="757.3" r="4.6"/><circle cx="1245.8" cy="754.7" r="4.6"/><circle cx="1246.2" cy="757.3" r="4.6"/><circle cx="1248.3" cy="756.5" r="4.6"/><circle cx="1247" cy="758.6" r="4.6"/><circle cx="1246" cy="755.1" r="4.6"/><circle cx="1263.3" cy="757.7" r="4.6"/><circle cx="1267" cy="758.4" r="4.6"/><circle cx="1262.8" cy="755.8" r="4.6"/><circle cx="1268.4" cy="756.1" r="4.6"/><circle cx="1271.2" cy="754.8" r="4.6"/><circle cx="1295.3" cy="757.6" r="4.6"/><circle cx="1292.4" cy="758.3" r="4.6"/><circle cx="1285.9" cy="757.9" r="4.6"/><circle cx="1300.6" cy="755" r="4.6"/><circle cx="1306.7" cy="758.6" r="4.6"/><circle cx="1319.6" cy="755.2" r="4.6"/><circle cx="1325.5" cy="757.5" r="4.6"/><circle cx="1326.9" cy="759.6" r="4.6"/><circle cx="1325.9" cy="754.3" r="4.6"/><circle cx="1354.8" cy="754.6" r="4.6"/><circle cx="1372.5" cy="758.4" r="4.6"/><circle cx="1377.3" cy="755.8" r="4.6"/><circle cx="1379.7" cy="757.4" r="4.6"/><circle cx="1390.5" cy="759.4" r="4.6"/><circle cx="1395.7" cy="757.2" r="4.6"/><circle cx="1395.5" cy="758.5" r="4.6"/><circle cx="1401.5" cy="759.6" r="4.6"/><circle cx="1407.3" cy="755.6" r="4.6"/><circle cx="1414.4" cy="758.1" r="4.6"/><circle cx="1412.5" cy="759.1" r="4.6"/><circle cx="1415.3" cy="758" r="4.6"/><circle cx="1415.2" cy="759.4" r="4.6"/><circle cx="1418" cy="759.3" r="4.6"/><circle cx="1419" cy="755.3" r="4.6"/><circle cx="1428.6" cy="755.2" r="4.6"/><circle cx="1431.4" cy="756.5" r="4.6"/><circle cx="1430.7" cy="756.1" r="4.6"/><circle cx="1431.9" cy="755" r="4.6"/><circle cx="1430.1" cy="758.5" r="4.6"/><circle cx="1438.7" cy="754.4" r="4.6"/><circle cx="1437.7" cy="756.9" r="4.6"/><circle cx="1444.9" cy="754" r="4.6"/><circle cx="1452.9" cy="756.3" r="4.6"/><circle cx="1457.2" cy="756" r="4.6"/><circle cx="1458.3" cy="754.6" r="4.6"/><circle cx="1457.9" cy="756.7" r="4.6"/><circle cx="1471.4" cy="759.3" r="4.6"/><circle cx="1469.3" cy="759.5" r="4.6"/><circle cx="1468.3" cy="754.8" r="4.6"/><circle cx="1471.3" cy="754.7" r="4.6"/><circle cx="1476.6" cy="756.5" r="4.6"/><circle cx="1479.6" cy="755.9" r="4.6"/><circle cx="1484.9" cy="759.7" r="4.6"/><circle cx="1485" cy="754.6" r="4.6"/><circle cx="1483.2" cy="753.8" r="4.6"/><circle cx="1503.4" cy="759.7" r="4.6"/><circle cx="1160.4" cy="765.6" r="4.6"/><circle cx="1183.1" cy="761.6" r="4.6"/><circle cx="1199.8" cy="764.2" r="4.6"/><circle cx="1202.5" cy="760.8" r="4.6"/><circle cx="1214.4" cy="759.9" r="4.6"/><circle cx="1216.1" cy="761" r="4.6"/><circle cx="1219.6" cy="760.9" r="4.6"/><circle cx="1218.1" cy="760.8" r="4.6"/><circle cx="1223.6" cy="760" r="4.6"/><circle cx="1236.9" cy="764.3" r="4.6"/><circle cx="1246.3" cy="761.7" r="4.6"/><circle cx="1245.9" cy="761.5" r="4.6"/><circle cx="1238" cy="762.3" r="4.6"/><circle cx="1237.8" cy="762.1" r="4.6"/><circle cx="1248.4" cy="760.6" r="4.6"/><circle cx="1251.1" cy="765.2" r="4.6"/><circle cx="1259" cy="760.1" r="4.6"/><circle cx="1267.1" cy="762" r="4.6"/><circle cx="1273.1" cy="760.8" r="4.6"/><circle cx="1272.2" cy="761" r="4.6"/><circle cx="1280.5" cy="763.3" r="4.6"/><circle cx="1288.8" cy="761.5" r="4.6"/><circle cx="1285.9" cy="761.5" r="4.6"/><circle cx="1299.8" cy="763.4" r="4.6"/><circle cx="1292.9" cy="760.1" r="4.6"/><circle cx="1317.9" cy="764.1" r="4.6"/><circle cx="1325.1" cy="760.3" r="4.6"/><circle cx="1333.2" cy="761.6" r="4.6"/><circle cx="1378.7" cy="760.1" r="4.6"/><circle cx="1366" cy="759.9" r="4.6"/><circle cx="1376.5" cy="765.6" r="4.6"/><circle cx="1392.1" cy="761.7" r="4.6"/><circle cx="1387.3" cy="764.3" r="4.6"/><circle cx="1405.2" cy="762.3" r="4.6"/><circle cx="1399.9" cy="761" r="4.6"/><circle cx="1405.4" cy="760.1" r="4.6"/><circle cx="1405.9" cy="762.5" r="4.6"/><circle cx="1420.1" cy="764.5" r="4.6"/><circle cx="1421.2" cy="760.6" r="4.6"/><circle cx="1428.3" cy="762.2" r="4.6"/><circle cx="1431.3" cy="764.5" r="4.6"/><circle cx="1430.9" cy="765.2" r="4.6"/><circle cx="1445.2" cy="763.3" r="4.6"/><circle cx="1445.3" cy="760" r="4.6"/><circle cx="1444.8" cy="760.2" r="4.6"/><circle cx="1447.1" cy="763.9" r="4.6"/><circle cx="1452.9" cy="761.1" r="4.6"/><circle cx="1454.2" cy="765.4" r="4.6"/><circle cx="1458.5" cy="763.8" r="4.6"/><circle cx="1460.9" cy="761.6" r="4.6"/><circle cx="1457.8" cy="765.7" r="4.6"/><circle cx="1469.8" cy="763.3" r="4.6"/><circle cx="1470.9" cy="761" r="4.6"/><circle cx="1470.8" cy="760.1" r="4.6"/><circle cx="1471" cy="765.3" r="4.6"/><circle cx="1484.9" cy="762.5" r="4.6"/><circle cx="1500" cy="760.2" r="4.6"/><circle cx="1147.9" cy="769.8" r="4.6"/><circle cx="1155" cy="767.5" r="4.6"/><circle cx="1172.5" cy="770.7" r="4.6"/><circle cx="1180.5" cy="768.2" r="4.6"/><circle cx="1185.4" cy="769.1" r="4.6"/><circle cx="1191" cy="766.3" r="4.6"/><circle cx="1191.3" cy="767" r="4.6"/><circle cx="1190.8" cy="769" r="4.6"/><circle cx="1206.2" cy="769.2" r="4.6"/><circle cx="1207.3" cy="769.4" r="4.6"/><circle cx="1208.8" cy="766.5" r="4.6"/><circle cx="1212.2" cy="769.6" r="4.6"/><circle cx="1210.7" cy="771.5" r="4.6"/><circle cx="1213.8" cy="770.2" r="4.6"/><circle cx="1233.2" cy="770.1" r="4.6"/><circle cx="1236.9" cy="765.8" r="4.6"/><circle cx="1248" cy="767.5" r="4.6"/><circle cx="1245.8" cy="770.8" r="4.6"/><circle cx="1250.1" cy="768.8" r="4.6"/><circle cx="1256.1" cy="770.3" r="4.6"/><circle cx="1260.3" cy="768.8" r="4.6"/><circle cx="1259.6" cy="765.8" r="4.6"/><circle cx="1266.3" cy="766.2" r="4.6"/><circle cx="1272.2" cy="768.9" r="4.6"/><circle cx="1291.1" cy="769.7" r="4.6"/><circle cx="1296.9" cy="770.3" r="4.6"/><circle cx="1302" cy="769.3" r="4.6"/><circle cx="1304.9" cy="767.2" r="4.6"/><circle cx="1308.5" cy="766.5" r="4.6"/><circle cx="1306" cy="766.7" r="4.6"/><circle cx="1314.9" cy="769.3" r="4.6"/><circle cx="1317.3" cy="766.9" r="4.6"/><circle cx="1321.6" cy="771" r="4.6"/><circle cx="1332.5" cy="767.3" r="4.6"/><circle cx="1352.6" cy="769.9" r="4.6"/><circle cx="1345.1" cy="770" r="4.6"/><circle cx="1352.6" cy="771.5" r="4.6"/><circle cx="1354.7" cy="771.6" r="4.6"/><circle cx="1365.6" cy="767.6" r="4.6"/><circle cx="1357" cy="770.4" r="4.6"/><circle cx="1378.1" cy="770.5" r="4.6"/><circle cx="1378.7" cy="770.3" r="4.6"/><circle cx="1390.1" cy="770.6" r="4.6"/><circle cx="1404.9" cy="768.2" r="4.6"/><circle cx="1416.8" cy="770.8" r="4.6"/><circle cx="1430.8" cy="767.9" r="4.6"/><circle cx="1423.6" cy="768.5" r="4.6"/><circle cx="1423.7" cy="771.5" r="4.6"/><circle cx="1432.2" cy="766.8" r="4.6"/><circle cx="1429.9" cy="768.7" r="4.6"/><circle cx="1431.8" cy="770.9" r="4.6"/><circle cx="1432.9" cy="771.1" r="4.6"/><circle cx="1431" cy="768" r="4.6"/><circle cx="1440.5" cy="769.4" r="4.6"/><circle cx="1438.5" cy="769.9" r="4.6"/><circle cx="1439.7" cy="768.1" r="4.6"/><circle cx="1437.5" cy="766.2" r="4.6"/><circle cx="1436.5" cy="770.3" r="4.6"/><circle cx="1443.6" cy="766.9" r="4.6"/><circle cx="1449" cy="769.3" r="4.6"/><circle cx="1444.6" cy="770.1" r="4.6"/><circle cx="1457.8" cy="767" r="4.6"/><circle cx="1453.2" cy="768" r="4.6"/><circle cx="1459" cy="768.4" r="4.6"/><circle cx="1459.5" cy="770.1" r="4.6"/><circle cx="1470.3" cy="769.1" r="4.6"/><circle cx="1471.7" cy="768.5" r="4.6"/><circle cx="1465.7" cy="767.8" r="4.6"/><circle cx="1472.1" cy="771.1" r="4.6"/><circle cx="1479.7" cy="770" r="4.6"/><circle cx="1484.5" cy="770.6" r="4.6"/><circle cx="1481.8" cy="770.4" r="4.6"/><circle cx="1485.7" cy="765.9" r="4.6"/><circle cx="1484" cy="766.3" r="4.6"/><circle cx="1514.5" cy="769.1" r="4.6"/><circle cx="1545.4" cy="770.3" r="4.6"/><circle cx="1186.4" cy="772.9" r="4.6"/><circle cx="1184.7" cy="773.7" r="4.6"/><circle cx="1198" cy="773.9" r="4.6"/><circle cx="1208.7" cy="774.8" r="4.6"/><circle cx="1213.2" cy="777" r="4.6"/><circle cx="1219.8" cy="774.6" r="4.6"/><circle cx="1213.1" cy="774.6" r="4.6"/><circle cx="1224.1" cy="775.3" r="4.6"/><circle cx="1233.5" cy="776.2" r="4.6"/><circle cx="1232.6" cy="773.4" r="4.6"/><circle cx="1226.5" cy="772.6" r="4.6"/><circle cx="1228" cy="777.2" r="4.6"/><circle cx="1228.2" cy="776.3" r="4.6"/><circle cx="1243.4" cy="772.2" r="4.6"/><circle cx="1250.2" cy="775.4" r="4.6"/><circle cx="1265.2" cy="774.4" r="4.6"/><circle cx="1268.6" cy="777.1" r="4.6"/><circle cx="1271.5" cy="775.2" r="4.6"/><circle cx="1282.5" cy="773.7" r="4.6"/><circle cx="1295.6" cy="771.8" r="4.6"/><circle cx="1294.2" cy="777.6" r="4.6"/><circle cx="1304.7" cy="774.1" r="4.6"/><circle cx="1325.1" cy="776.1" r="4.6"/><circle cx="1343.6" cy="775.3" r="4.6"/><circle cx="1339.1" cy="774" r="4.6"/><circle cx="1355.1" cy="777.3" r="4.6"/><circle cx="1374.1" cy="772.7" r="4.6"/><circle cx="1384.8" cy="774.6" r="4.6"/><circle cx="1399.5" cy="777.6" r="4.6"/><circle cx="1401.3" cy="774" r="4.6"/><circle cx="1409.4" cy="775.3" r="4.6"/><circle cx="1416.5" cy="774.5" r="4.6"/><circle cx="1427.9" cy="776.2" r="4.6"/><circle cx="1432" cy="773.8" r="4.6"/><circle cx="1433" cy="776.4" r="4.6"/><circle cx="1431.9" cy="774.1" r="4.6"/><circle cx="1444.7" cy="775.2" r="4.6"/><circle cx="1445.8" cy="772.5" r="4.6"/><circle cx="1446.7" cy="774.3" r="4.6"/><circle cx="1445" cy="772.7" r="4.6"/><circle cx="1445.2" cy="776.6" r="4.6"/><circle cx="1449.3" cy="777" r="4.6"/><circle cx="1458.7" cy="774.1" r="4.6"/><circle cx="1458.4" cy="776" r="4.6"/><circle cx="1456.2" cy="771.9" r="4.6"/><circle cx="1458.4" cy="776" r="4.6"/><circle cx="1459.6" cy="776.5" r="4.6"/><circle cx="1458" cy="773.5" r="4.6"/><circle cx="1466.3" cy="772.5" r="4.6"/><circle cx="1465.7" cy="777.1" r="4.6"/><circle cx="1467" cy="775.9" r="4.6"/><circle cx="1471.4" cy="776.4" r="4.6"/><circle cx="1485.2" cy="776.8" r="4.6"/><circle cx="1487.8" cy="773.7" r="4.6"/><circle cx="1594.4" cy="777.7" r="4.6"/><circle cx="1618" cy="771.9" r="4.6"/><circle cx="1152.3" cy="781.7" r="4.6"/><circle cx="1154.3" cy="782.3" r="4.6"/><circle cx="1157.6" cy="777.9" r="4.6"/><circle cx="1190.9" cy="781.9" r="4.6"/><circle cx="1209.1" cy="779.5" r="4.6"/><circle cx="1217.8" cy="777.8" r="4.6"/><circle cx="1223.6" cy="783.6" r="4.6"/><circle cx="1230.4" cy="781.3" r="4.6"/><circle cx="1233.3" cy="779.3" r="4.6"/><circle cx="1219.6" cy="778.8" r="4.6"/><circle cx="1233" cy="778.4" r="4.6"/><circle cx="1229.5" cy="778.6" r="4.6"/><circle cx="1232.7" cy="782.7" r="4.6"/><circle cx="1233.5" cy="781.6" r="4.6"/><circle cx="1239.9" cy="783.4" r="4.6"/><circle cx="1246.1" cy="780.4" r="4.6"/><circle cx="1246.3" cy="781.4" r="4.6"/><circle cx="1237.1" cy="778.5" r="4.6"/><circle cx="1241.4" cy="779.1" r="4.6"/><circle cx="1258.1" cy="781.1" r="4.6"/><circle cx="1260.9" cy="783.1" r="4.6"/><circle cx="1260.2" cy="778.5" r="4.6"/><circle cx="1271.5" cy="783" r="4.6"/><circle cx="1275.1" cy="783.4" r="4.6"/><circle cx="1273.8" cy="781.6" r="4.6"/><circle cx="1302.9" cy="778.4" r="4.6"/><circle cx="1330.4" cy="778.9" r="4.6"/><circle cx="1328" cy="780.5" r="4.6"/><circle cx="1346" cy="781.7" r="4.6"/><circle cx="1350.8" cy="778.9" r="4.6"/><circle cx="1352.5" cy="783.4" r="4.6"/><circle cx="1365.4" cy="780.3" r="4.6"/><circle cx="1375.6" cy="778.6" r="4.6"/><circle cx="1378.9" cy="783" r="4.6"/><circle cx="1392.1" cy="778.8" r="4.6"/><circle cx="1392.2" cy="779.9" r="4.6"/><circle cx="1416.3" cy="778.3" r="4.6"/><circle cx="1419.4" cy="782.8" r="4.6"/><circle cx="1417.9" cy="781.1" r="4.6"/><circle cx="1423.7" cy="778.4" r="4.6"/><circle cx="1431.6" cy="780.7" r="4.6"/><circle cx="1433.8" cy="778.3" r="4.6"/><circle cx="1429.2" cy="782.3" r="4.6"/><circle cx="1436" cy="783.3" r="4.6"/><circle cx="1437" cy="783.3" r="4.6"/><circle cx="1436.1" cy="778.6" r="4.6"/><circle cx="1437.4" cy="779.4" r="4.6"/><circle cx="1445.6" cy="778.7" r="4.6"/><circle cx="1442.6" cy="781.5" r="4.6"/><circle cx="1452.8" cy="783.6" r="4.6"/><circle cx="1447.6" cy="781.6" r="4.6"/><circle cx="1444.3" cy="778" r="4.6"/><circle cx="1456" cy="782" r="4.6"/><circle cx="1461.9" cy="781.5" r="4.6"/><circle cx="1460.1" cy="781.5" r="4.6"/><circle cx="1458.1" cy="782.8" r="4.6"/><circle cx="1471.8" cy="778.8" r="4.6"/><circle cx="1480.6" cy="782.3" r="4.6"/><circle cx="1480.3" cy="783.7" r="4.6"/><circle cx="1485.7" cy="778.9" r="4.6"/><circle cx="1494.8" cy="782.5" r="4.6"/><circle cx="1511.1" cy="783.6" r="4.6"/><circle cx="1517.1" cy="781.6" r="4.6"/><circle cx="1545.3" cy="778.5" r="4.6"/><circle cx="1148.9" cy="787.9" r="4.6"/><circle cx="1170.5" cy="785.8" r="4.6"/><circle cx="1172.2" cy="785.3" r="4.6"/><circle cx="1177.4" cy="783.8" r="4.6"/><circle cx="1186.5" cy="785.9" r="4.6"/><circle cx="1187.8" cy="785.8" r="4.6"/><circle cx="1188.1" cy="787.7" r="4.6"/><circle cx="1204.2" cy="788.6" r="4.6"/><circle cx="1205.7" cy="785.8" r="4.6"/><circle cx="1205.4" cy="788.1" r="4.6"/><circle cx="1202.9" cy="785.9" r="4.6"/><circle cx="1210.8" cy="786.6" r="4.6"/><circle cx="1210.8" cy="784.7" r="4.6"/><circle cx="1219.6" cy="788.4" r="4.6"/><circle cx="1219.7" cy="785.9" r="4.6"/><circle cx="1219.6" cy="786.7" r="4.6"/><circle cx="1235.3" cy="783.8" r="4.6"/><circle cx="1232.6" cy="786.1" r="4.6"/><circle cx="1239.9" cy="785.6" r="4.6"/><circle cx="1252.8" cy="788.9" r="4.6"/><circle cx="1252.2" cy="786.9" r="4.6"/><circle cx="1259" cy="788.3" r="4.6"/><circle cx="1262.6" cy="786.9" r="4.6"/><circle cx="1270" cy="789.3" r="4.6"/><circle cx="1278.8" cy="783.9" r="4.6"/><circle cx="1277.4" cy="787.8" r="4.6"/><circle cx="1275.9" cy="783.9" r="4.6"/><circle cx="1282.6" cy="784" r="4.6"/><circle cx="1283.9" cy="788" r="4.6"/><circle cx="1286.5" cy="788.9" r="4.6"/><circle cx="1299.1" cy="787.6" r="4.6"/><circle cx="1299.1" cy="785.2" r="4.6"/><circle cx="1300.5" cy="786.5" r="4.6"/><circle cx="1314.4" cy="787.9" r="4.6"/><circle cx="1309.2" cy="785.4" r="4.6"/><circle cx="1316.8" cy="786.7" r="4.6"/><circle cx="1325.7" cy="788.9" r="4.6"/><circle cx="1324.7" cy="785.4" r="4.6"/><circle cx="1324.5" cy="788.8" r="4.6"/><circle cx="1343.6" cy="789.7" r="4.6"/><circle cx="1349.5" cy="787.5" r="4.6"/><circle cx="1345.8" cy="784.3" r="4.6"/><circle cx="1349.9" cy="786.2" r="4.6"/><circle cx="1356.5" cy="788.9" r="4.6"/><circle cx="1360.2" cy="784.1" r="4.6"/><circle cx="1361.3" cy="787.4" r="4.6"/><circle cx="1368.7" cy="789.6" r="4.6"/><circle cx="1372" cy="788.9" r="4.6"/><circle cx="1379.2" cy="786.7" r="4.6"/><circle cx="1378.2" cy="784" r="4.6"/><circle cx="1392.1" cy="787.4" r="4.6"/><circle cx="1396.9" cy="789.4" r="4.6"/><circle cx="1401.9" cy="787.7" r="4.6"/><circle cx="1410.6" cy="787.3" r="4.6"/><circle cx="1407.7" cy="786.2" r="4.6"/><circle cx="1404.7" cy="784" r="4.6"/><circle cx="1416.9" cy="788.9" r="4.6"/><circle cx="1418.2" cy="789.5" r="4.6"/><circle cx="1414.6" cy="786.8" r="4.6"/><circle cx="1417.9" cy="786.8" r="4.6"/><circle cx="1431.2" cy="784.9" r="4.6"/><circle cx="1434.8" cy="789.6" r="4.6"/><circle cx="1435.3" cy="788.4" r="4.6"/><circle cx="1431.2" cy="789" r="4.6"/><circle cx="1438.7" cy="784.1" r="4.6"/><circle cx="1445.1" cy="789.5" r="4.6"/><circle cx="1439.3" cy="787.4" r="4.6"/><circle cx="1444.6" cy="787.2" r="4.6"/><circle cx="1445.1" cy="787.9" r="4.6"/><circle cx="1458" cy="788.7" r="4.6"/><circle cx="1459.1" cy="787.7" r="4.6"/><circle cx="1459.7" cy="786.2" r="4.6"/><circle cx="1471.4" cy="784.5" r="4.6"/><circle cx="1470.4" cy="786.7" r="4.6"/><circle cx="1471.1" cy="788.2" r="4.6"/><circle cx="1471" cy="789.6" r="4.6"/><circle cx="1472.2" cy="786.3" r="4.6"/><circle cx="1472.2" cy="787.2" r="4.6"/><circle cx="1474.2" cy="787.4" r="4.6"/><circle cx="1481.3" cy="788" r="4.6"/><circle cx="1488.9" cy="786.2" r="4.6"/><circle cx="1484.7" cy="786.5" r="4.6"/><circle cx="1501" cy="788.9" r="4.6"/><circle cx="1147.9" cy="792.2" r="4.6"/><circle cx="1152.8" cy="793.6" r="4.6"/><circle cx="1175.1" cy="792.9" r="4.6"/><circle cx="1187.1" cy="792" r="4.6"/><circle cx="1183.4" cy="793.4" r="4.6"/><circle cx="1199.9" cy="791.4" r="4.6"/><circle cx="1197.3" cy="793.7" r="4.6"/><circle cx="1211.8" cy="793.8" r="4.6"/><circle cx="1209.2" cy="790.5" r="4.6"/><circle cx="1212.3" cy="795.2" r="4.6"/><circle cx="1209.4" cy="793.3" r="4.6"/><circle cx="1219.8" cy="795.6" r="4.6"/><circle cx="1220" cy="794.5" r="4.6"/><circle cx="1232.7" cy="792" r="4.6"/><circle cx="1232.2" cy="793.2" r="4.6"/><circle cx="1242.9" cy="795.7" r="4.6"/><circle cx="1239.2" cy="795" r="4.6"/><circle cx="1243.4" cy="792.3" r="4.6"/><circle cx="1259.9" cy="791" r="4.6"/><circle cx="1251" cy="793.6" r="4.6"/><circle cx="1246.6" cy="790.3" r="4.6"/><circle cx="1258.2" cy="792.2" r="4.6"/><circle cx="1272.8" cy="795.1" r="4.6"/><circle cx="1286.6" cy="791.6" r="4.6"/><circle cx="1293.3" cy="790.7" r="4.6"/><circle cx="1305.6" cy="792.5" r="4.6"/><circle cx="1305.4" cy="793.5" r="4.6"/><circle cx="1307.8" cy="791.3" r="4.6"/><circle cx="1299.4" cy="789.8" r="4.6"/><circle cx="1332.8" cy="791.4" r="4.6"/><circle cx="1352.6" cy="789.8" r="4.6"/><circle cx="1352.2" cy="793.6" r="4.6"/><circle cx="1347.2" cy="792.7" r="4.6"/><circle cx="1359.4" cy="794.5" r="4.6"/><circle cx="1365" cy="792.7" r="4.6"/><circle cx="1373" cy="793.3" r="4.6"/><circle cx="1386.9" cy="790.5" r="4.6"/><circle cx="1385.3" cy="790.4" r="4.6"/><circle cx="1391.8" cy="789.8" r="4.6"/><circle cx="1402.9" cy="791.8" r="4.6"/><circle cx="1419.2" cy="794.1" r="4.6"/><circle cx="1421.3" cy="794.6" r="4.6"/><circle cx="1439" cy="791.8" r="4.6"/><circle cx="1441.5" cy="793.4" r="4.6"/><circle cx="1443.5" cy="794.3" r="4.6"/><circle cx="1443.8" cy="793.3" r="4.6"/><circle cx="1447.2" cy="795.6" r="4.6"/><circle cx="1448.5" cy="793.9" r="4.6"/><circle cx="1447.4" cy="792.8" r="4.6"/><circle cx="1453.8" cy="795.3" r="4.6"/><circle cx="1457.6" cy="791.7" r="4.6"/><circle cx="1453.9" cy="792.4" r="4.6"/><circle cx="1458" cy="794.3" r="4.6"/><circle cx="1462.6" cy="792.2" r="4.6"/><circle cx="1458.8" cy="792.5" r="4.6"/><circle cx="1471.5" cy="794.3" r="4.6"/><circle cx="1471.1" cy="790.7" r="4.6"/><circle cx="1473.8" cy="792.8" r="4.6"/><circle cx="1471.2" cy="792.6" r="4.6"/><circle cx="1484.3" cy="795.3" r="4.6"/><circle cx="1483.5" cy="790.1" r="4.6"/><circle cx="1487.2" cy="794.1" r="4.6"/><circle cx="1484.9" cy="792.9" r="4.6"/><circle cx="1505.8" cy="793.2" r="4.6"/><circle cx="1526.9" cy="793.8" r="4.6"/><circle cx="1153.6" cy="796.1" r="4.6"/><circle cx="1189.4" cy="800.3" r="4.6"/><circle cx="1201.5" cy="799.7" r="4.6"/><circle cx="1205.5" cy="799.5" r="4.6"/><circle cx="1206.2" cy="801.1" r="4.6"/><circle cx="1212.9" cy="800.3" r="4.6"/><circle cx="1209.5" cy="800.4" r="4.6"/><circle cx="1215.1" cy="798.7" r="4.6"/><circle cx="1219.1" cy="801.4" r="4.6"/><circle cx="1213.2" cy="799.6" r="4.6"/><circle cx="1217.6" cy="800.6" r="4.6"/><circle cx="1219.9" cy="798.8" r="4.6"/><circle cx="1228.1" cy="801.3" r="4.6"/><circle cx="1225.3" cy="797.1" r="4.6"/><circle cx="1227.2" cy="799.5" r="4.6"/><circle cx="1240.4" cy="797.6" r="4.6"/><circle cx="1244.1" cy="800.4" r="4.6"/><circle cx="1254.5" cy="801.3" r="4.6"/><circle cx="1249.5" cy="796.7" r="4.6"/><circle cx="1257.6" cy="798" r="4.6"/><circle cx="1257" cy="800.1" r="4.6"/><circle cx="1269.2" cy="799.3" r="4.6"/><circle cx="1277.7" cy="797.9" r="4.6"/><circle cx="1272.5" cy="796.4" r="4.6"/><circle cx="1290.8" cy="798.6" r="4.6"/><circle cx="1296.7" cy="798.3" r="4.6"/><circle cx="1297.4" cy="801.2" r="4.6"/><circle cx="1297.3" cy="796.3" r="4.6"/><circle cx="1305" cy="798.4" r="4.6"/><circle cx="1309" cy="799.8" r="4.6"/><circle cx="1313.4" cy="799.7" r="4.6"/><circle cx="1325.6" cy="800.7" r="4.6"/><circle cx="1327.7" cy="798.8" r="4.6"/><circle cx="1352.4" cy="797.8" r="4.6"/><circle cx="1365.3" cy="799.5" r="4.6"/><circle cx="1366" cy="795.7" r="4.6"/><circle cx="1366.2" cy="800" r="4.6"/><circle cx="1370.1" cy="797.5" r="4.6"/><circle cx="1378.5" cy="799" r="4.6"/><circle cx="1379" cy="799.3" r="4.6"/><circle cx="1391.8" cy="798.1" r="4.6"/><circle cx="1399.6" cy="797.8" r="4.6"/><circle cx="1409.2" cy="800.7" r="4.6"/><circle cx="1405.4" cy="799.7" r="4.6"/><circle cx="1412.3" cy="797.2" r="4.6"/><circle cx="1431.7" cy="800.9" r="4.6"/><circle cx="1432.2" cy="798.9" r="4.6"/><circle cx="1438.4" cy="800.1" r="4.6"/><circle cx="1436.2" cy="797" r="4.6"/><circle cx="1435.9" cy="799.2" r="4.6"/><circle cx="1445.7" cy="801.1" r="4.6"/><circle cx="1449.9" cy="797.6" r="4.6"/><circle cx="1456.1" cy="796.8" r="4.6"/><circle cx="1455.7" cy="795.9" r="4.6"/><circle cx="1461.8" cy="796.1" r="4.6"/><circle cx="1458.2" cy="798.3" r="4.6"/><circle cx="1461.1" cy="797.1" r="4.6"/><circle cx="1457.7" cy="801" r="4.6"/><circle cx="1465.9" cy="801.2" r="4.6"/><circle cx="1484.4" cy="801.1" r="4.6"/><circle cx="1534.8" cy="796.2" r="4.6"/><circle cx="1532.3" cy="800.7" r="4.6"/><circle cx="1174.3" cy="806.3" r="4.6"/><circle cx="1172.4" cy="805.6" r="4.6"/><circle cx="1190.6" cy="807.2" r="4.6"/><circle cx="1205.5" cy="802.7" r="4.6"/><circle cx="1204.2" cy="802.5" r="4.6"/><circle cx="1209.8" cy="806.7" r="4.6"/><circle cx="1222.6" cy="806.9" r="4.6"/><circle cx="1219.4" cy="805" r="4.6"/><circle cx="1229.5" cy="804.7" r="4.6"/><circle cx="1226.1" cy="804.5" r="4.6"/><circle cx="1233.1" cy="805.5" r="4.6"/><circle cx="1231" cy="802.3" r="4.6"/><circle cx="1233.6" cy="807.6" r="4.6"/><circle cx="1241.4" cy="806.9" r="4.6"/><circle cx="1246.1" cy="804.1" r="4.6"/><circle cx="1248.2" cy="805.7" r="4.6"/><circle cx="1247.4" cy="803.2" r="4.6"/><circle cx="1246.7" cy="806.6" r="4.6"/><circle cx="1254.9" cy="802.5" r="4.6"/><circle cx="1251.2" cy="802.6" r="4.6"/><circle cx="1260.4" cy="807.3" r="4.6"/><circle cx="1260.5" cy="806.8" r="4.6"/><circle cx="1269.8" cy="805.3" r="4.6"/><circle cx="1272.4" cy="807.7" r="4.6"/><circle cx="1277.7" cy="805.1" r="4.6"/><circle cx="1282.3" cy="804.7" r="4.6"/><circle cx="1281" cy="806.5" r="4.6"/><circle cx="1281.1" cy="803.1" r="4.6"/><circle cx="1279.8" cy="803.8" r="4.6"/><circle cx="1294.3" cy="804.3" r="4.6"/><circle cx="1299.6" cy="805.4" r="4.6"/><circle cx="1301.1" cy="803.8" r="4.6"/><circle cx="1307.7" cy="806.2" r="4.6"/><circle cx="1309.4" cy="802.3" r="4.6"/><circle cx="1322.1" cy="807.5" r="4.6"/><circle cx="1334.7" cy="802" r="4.6"/><circle cx="1338.6" cy="804.3" r="4.6"/><circle cx="1364.7" cy="804.3" r="4.6"/><circle cx="1363.5" cy="805.6" r="4.6"/><circle cx="1378.9" cy="803.6" r="4.6"/><circle cx="1384.4" cy="804.7" r="4.6"/><circle cx="1397.5" cy="803.1" r="4.6"/><circle cx="1398.4" cy="802.1" r="4.6"/><circle cx="1406.7" cy="802.4" r="4.6"/><circle cx="1410.3" cy="805.9" r="4.6"/><circle cx="1411" cy="801.8" r="4.6"/><circle cx="1425.2" cy="803.9" r="4.6"/><circle cx="1431.9" cy="804.5" r="4.6"/><circle cx="1437.9" cy="802.6" r="4.6"/><circle cx="1444.9" cy="803.2" r="4.6"/><circle cx="1445.6" cy="805.8" r="4.6"/><circle cx="1450.1" cy="805.5" r="4.6"/><circle cx="1445.2" cy="807.4" r="4.6"/><circle cx="1454.7" cy="807.3" r="4.6"/><circle cx="1460.2" cy="803.8" r="4.6"/><circle cx="1465" cy="806.2" r="4.6"/><circle cx="1468.5" cy="805.2" r="4.6"/><circle cx="1475.1" cy="801.7" r="4.6"/><circle cx="1476" cy="805.7" r="4.6"/><circle cx="1471.4" cy="807.4" r="4.6"/><circle cx="1482.1" cy="802.6" r="4.6"/><circle cx="1487.6" cy="805.3" r="4.6"/><circle cx="1567.5" cy="804.6" r="4.6"/><circle cx="1174.5" cy="813" r="4.6"/><circle cx="1186.2" cy="811" r="4.6"/><circle cx="1186.7" cy="812.9" r="4.6"/><circle cx="1187.6" cy="811.2" r="4.6"/><circle cx="1189.7" cy="813.6" r="4.6"/><circle cx="1193.5" cy="813.1" r="4.6"/><circle cx="1192.3" cy="811.5" r="4.6"/><circle cx="1195.3" cy="808" r="4.6"/><circle cx="1201.9" cy="809" r="4.6"/><circle cx="1201.1" cy="812.1" r="4.6"/><circle cx="1203.7" cy="809" r="4.6"/><circle cx="1206.9" cy="809.3" r="4.6"/><circle cx="1212.3" cy="813" r="4.6"/><circle cx="1217.4" cy="809.1" r="4.6"/><circle cx="1219" cy="809.9" r="4.6"/><circle cx="1224.2" cy="813.1" r="4.6"/><circle cx="1224.4" cy="807.8" r="4.6"/><circle cx="1219.7" cy="811.4" r="4.6"/><circle cx="1230.3" cy="812.5" r="4.6"/><circle cx="1233.6" cy="812.6" r="4.6"/><circle cx="1236.7" cy="813.6" r="4.6"/><circle cx="1257.1" cy="811.5" r="4.6"/><circle cx="1256.2" cy="813.4" r="4.6"/><circle cx="1265" cy="812.7" r="4.6"/><circle cx="1286" cy="808.8" r="4.6"/><circle cx="1285.5" cy="807.9" r="4.6"/><circle cx="1290.2" cy="813.6" r="4.6"/><circle cx="1285.4" cy="810.2" r="4.6"/><circle cx="1302.4" cy="810.7" r="4.6"/><circle cx="1308.1" cy="809.9" r="4.6"/><circle cx="1306.2" cy="809.3" r="4.6"/><circle cx="1312.8" cy="812.5" r="4.6"/><circle cx="1325.8" cy="812.8" r="4.6"/><circle cx="1329.6" cy="809.4" r="4.6"/><circle cx="1338.5" cy="807.8" r="4.6"/><circle cx="1365.3" cy="811.9" r="4.6"/><circle cx="1365.3" cy="812.2" r="4.6"/><circle cx="1378.8" cy="810.1" r="4.6"/><circle cx="1365.3" cy="812.7" r="4.6"/><circle cx="1384.6" cy="811.5" r="4.6"/><circle cx="1392.5" cy="812.1" r="4.6"/><circle cx="1392.8" cy="808.4" r="4.6"/><circle cx="1402.2" cy="813.3" r="4.6"/><circle cx="1400.1" cy="812.7" r="4.6"/><circle cx="1414.2" cy="813.5" r="4.6"/><circle cx="1424.8" cy="809.8" r="4.6"/><circle cx="1431.8" cy="811.9" r="4.6"/><circle cx="1445.5" cy="809.9" r="4.6"/><circle cx="1444.7" cy="813.5" r="4.6"/><circle cx="1455" cy="810" r="4.6"/><circle cx="1458" cy="809" r="4.6"/><circle cx="1457.7" cy="808.1" r="4.6"/><circle cx="1469.4" cy="812.7" r="4.6"/><circle cx="1467.5" cy="810.9" r="4.6"/><circle cx="1470.9" cy="807.7" r="4.6"/><circle cx="1471.3" cy="808.3" r="4.6"/><circle cx="1472.9" cy="808.4" r="4.6"/><circle cx="1473.5" cy="811.1" r="4.6"/><circle cx="1484.7" cy="812.6" r="4.6"/><circle cx="1478.2" cy="813.3" r="4.6"/><circle cx="1486.7" cy="810.5" r="4.6"/><circle cx="1508.4" cy="809.1" r="4.6"/><circle cx="1521.7" cy="811" r="4.6"/><circle cx="1152.8" cy="817.5" r="4.6"/><circle cx="1171.6" cy="818.5" r="4.6"/><circle cx="1181.5" cy="817.9" r="4.6"/><circle cx="1186.3" cy="817.1" r="4.6"/><circle cx="1198" cy="815.4" r="4.6"/><circle cx="1199.2" cy="818.9" r="4.6"/><circle cx="1203" cy="817.4" r="4.6"/><circle cx="1205.4" cy="816.1" r="4.6"/><circle cx="1206.1" cy="815.7" r="4.6"/><circle cx="1211.7" cy="816.4" r="4.6"/><circle cx="1208.5" cy="819.1" r="4.6"/><circle cx="1217.1" cy="818.1" r="4.6"/><circle cx="1218.9" cy="814.7" r="4.6"/><circle cx="1223.5" cy="816.7" r="4.6"/><circle cx="1228.6" cy="816.6" r="4.6"/><circle cx="1282.4" cy="816.4" r="4.6"/><circle cx="1284.3" cy="814.7" r="4.6"/><circle cx="1285.1" cy="814.9" r="4.6"/><circle cx="1294.7" cy="818.2" r="4.6"/><circle cx="1295.4" cy="814.8" r="4.6"/><circle cx="1312.5" cy="816.7" r="4.6"/><circle cx="1311.7" cy="819.5" r="4.6"/><circle cx="1309.2" cy="813.9" r="4.6"/><circle cx="1326.7" cy="818.9" r="4.6"/><circle cx="1333.5" cy="818.7" r="4.6"/><circle cx="1338.3" cy="816.4" r="4.6"/><circle cx="1341.1" cy="819.4" r="4.6"/><circle cx="1340.8" cy="815.2" r="4.6"/><circle cx="1348.1" cy="816.1" r="4.6"/><circle cx="1353.9" cy="819.6" r="4.6"/><circle cx="1365.6" cy="818.3" r="4.6"/><circle cx="1368.7" cy="815.9" r="4.6"/><circle cx="1376.1" cy="816.1" r="4.6"/><circle cx="1391.7" cy="814.7" r="4.6"/><circle cx="1391.8" cy="814.4" r="4.6"/><circle cx="1402.5" cy="814.3" r="4.6"/><circle cx="1410.7" cy="818.7" r="4.6"/><circle cx="1418.3" cy="818.2" r="4.6"/><circle cx="1416.1" cy="816.9" r="4.6"/><circle cx="1411.6" cy="818.9" r="4.6"/><circle cx="1412.7" cy="818.4" r="4.6"/><circle cx="1419.8" cy="816.1" r="4.6"/><circle cx="1417.9" cy="818.7" r="4.6"/><circle cx="1425" cy="815.4" r="4.6"/><circle cx="1430.9" cy="818.5" r="4.6"/><circle cx="1438.1" cy="818.7" r="4.6"/><circle cx="1444.7" cy="817.3" r="4.6"/><circle cx="1452.8" cy="819.6" r="4.6"/><circle cx="1444.8" cy="818.2" r="4.6"/><circle cx="1456.6" cy="814.3" r="4.6"/><circle cx="1456.7" cy="819.5" r="4.6"/><circle cx="1457.6" cy="817.2" r="4.6"/><circle cx="1471" cy="814.2" r="4.6"/><circle cx="1466.8" cy="818.8" r="4.6"/><circle cx="1468.6" cy="815.1" r="4.6"/><circle cx="1466.6" cy="815.3" r="4.6"/><circle cx="1470.7" cy="819.7" r="4.6"/><circle cx="1484.3" cy="817.6" r="4.6"/><circle cx="1484.4" cy="815.8" r="4.6"/><circle cx="1491.5" cy="815.1" r="4.6"/><circle cx="1504.2" cy="817.2" r="4.6"/><circle cx="1506.5" cy="813.8" r="4.6"/><circle cx="1523.8" cy="817.9" r="4.6"/><circle cx="1148.8" cy="819.8" r="4.6"/><circle cx="1150.7" cy="824.4" r="4.6"/><circle cx="1162.8" cy="822.9" r="4.6"/><circle cx="1165.3" cy="820.2" r="4.6"/><circle cx="1168.8" cy="820.4" r="4.6"/><circle cx="1175.9" cy="822.4" r="4.6"/><circle cx="1171.5" cy="825" r="4.6"/><circle cx="1181.6" cy="823.3" r="4.6"/><circle cx="1182.1" cy="820.6" r="4.6"/><circle cx="1191.5" cy="825.6" r="4.6"/><circle cx="1199.7" cy="822.1" r="4.6"/><circle cx="1203.5" cy="820" r="4.6"/><circle cx="1209.2" cy="824.5" r="4.6"/><circle cx="1211.4" cy="821.4" r="4.6"/><circle cx="1209.2" cy="822.7" r="4.6"/><circle cx="1213.3" cy="825.4" r="4.6"/><circle cx="1219.6" cy="822.2" r="4.6"/><circle cx="1226.6" cy="821.6" r="4.6"/><circle cx="1233.2" cy="822.4" r="4.6"/><circle cx="1236.7" cy="823.7" r="4.6"/><circle cx="1238.9" cy="822.3" r="4.6"/><circle cx="1243.2" cy="821.1" r="4.6"/><circle cx="1250.4" cy="822.1" r="4.6"/><circle cx="1249.6" cy="821.3" r="4.6"/><circle cx="1261.7" cy="824.5" r="4.6"/><circle cx="1262.6" cy="820.5" r="4.6"/><circle cx="1259.6" cy="821.5" r="4.6"/><circle cx="1272.6" cy="823" r="4.6"/><circle cx="1273.4" cy="821.2" r="4.6"/><circle cx="1284.2" cy="821.7" r="4.6"/><circle cx="1280" cy="825.4" r="4.6"/><circle cx="1286" cy="823.1" r="4.6"/><circle cx="1281.5" cy="824.5" r="4.6"/><circle cx="1295.7" cy="820.8" r="4.6"/><circle cx="1297.6" cy="820.9" r="4.6"/><circle cx="1309.7" cy="824.8" r="4.6"/><circle cx="1310.6" cy="822.4" r="4.6"/><circle cx="1312.6" cy="824.4" r="4.6"/><circle cx="1312.4" cy="820.2" r="4.6"/><circle cx="1317.1" cy="820.2" r="4.6"/><circle cx="1312.1" cy="825.4" r="4.6"/><circle cx="1321.4" cy="819.7" r="4.6"/><circle cx="1329.4" cy="822.5" r="4.6"/><circle cx="1330.5" cy="821.5" r="4.6"/><circle cx="1341.4" cy="825.7" r="4.6"/><circle cx="1349.3" cy="822.7" r="4.6"/><circle cx="1354.6" cy="824.2" r="4.6"/><circle cx="1358.1" cy="825.6" r="4.6"/><circle cx="1365" cy="821.8" r="4.6"/><circle cx="1373.4" cy="822.2" r="4.6"/><circle cx="1384.3" cy="820.6" r="4.6"/><circle cx="1394.9" cy="820" r="4.6"/><circle cx="1408.3" cy="824.7" r="4.6"/><circle cx="1406.8" cy="824.9" r="4.6"/><circle cx="1428.5" cy="823.4" r="4.6"/><circle cx="1444.3" cy="820.2" r="4.6"/><circle cx="1452.2" cy="825.4" r="4.6"/><circle cx="1448.6" cy="825.1" r="4.6"/><circle cx="1444.2" cy="824.8" r="4.6"/><circle cx="1455.3" cy="821.9" r="4.6"/><circle cx="1460.2" cy="821.6" r="4.6"/><circle cx="1461.1" cy="821.4" r="4.6"/><circle cx="1465.9" cy="825.3" r="4.6"/><circle cx="1465.5" cy="823.6" r="4.6"/><circle cx="1471.2" cy="823.9" r="4.6"/><circle cx="1473.4" cy="821.7" r="4.6"/><circle cx="1482" cy="822" r="4.6"/><circle cx="1483.7" cy="824.1" r="4.6"/><circle cx="1497.2" cy="825" r="4.6"/><circle cx="1508.6" cy="825.5" r="4.6"/><circle cx="1542.6" cy="823.1" r="4.6"/><circle cx="1157.2" cy="830.5" r="4.6"/><circle cx="1157.6" cy="831" r="4.6"/><circle cx="1182.4" cy="830.5" r="4.6"/><circle cx="1177.6" cy="828.6" r="4.6"/><circle cx="1185.2" cy="829.2" r="4.6"/><circle cx="1183.9" cy="831.4" r="4.6"/><circle cx="1194.5" cy="831.3" r="4.6"/><circle cx="1194.6" cy="830.5" r="4.6"/><circle cx="1193.6" cy="826.3" r="4.6"/><circle cx="1199.6" cy="826.4" r="4.6"/><circle cx="1203.3" cy="831.3" r="4.6"/><circle cx="1209.6" cy="827.8" r="4.6"/><circle cx="1207.1" cy="830.6" r="4.6"/><circle cx="1212.4" cy="827.7" r="4.6"/><circle cx="1220.1" cy="831.6" r="4.6"/><circle cx="1229.2" cy="828.6" r="4.6"/><circle cx="1236.5" cy="827.2" r="4.6"/><circle cx="1254.2" cy="829.7" r="4.6"/><circle cx="1258.8" cy="827.8" r="4.6"/><circle cx="1256.9" cy="831.3" r="4.6"/><circle cx="1271.7" cy="829.4" r="4.6"/><circle cx="1276.5" cy="830.5" r="4.6"/><circle cx="1274.6" cy="827.3" r="4.6"/><circle cx="1286.4" cy="827.5" r="4.6"/><circle cx="1286.8" cy="829.8" r="4.6"/><circle cx="1296.3" cy="827.6" r="4.6"/><circle cx="1302" cy="825.9" r="4.6"/><circle cx="1304.9" cy="826.1" r="4.6"/><circle cx="1309.4" cy="828.8" r="4.6"/><circle cx="1312.7" cy="828.1" r="4.6"/><circle cx="1325.8" cy="830.7" r="4.6"/><circle cx="1341.8" cy="825.7" r="4.6"/><circle cx="1339.6" cy="826.8" r="4.6"/><circle cx="1344.7" cy="828.1" r="4.6"/><circle cx="1338.5" cy="829" r="4.6"/><circle cx="1352" cy="831.5" r="4.6"/><circle cx="1351.7" cy="827" r="4.6"/><circle cx="1356.7" cy="830.9" r="4.6"/><circle cx="1352.3" cy="827.6" r="4.6"/><circle cx="1382.5" cy="826.5" r="4.6"/><circle cx="1388.5" cy="829.4" r="4.6"/><circle cx="1404.7" cy="830.4" r="4.6"/><circle cx="1417.8" cy="829.7" r="4.6"/><circle cx="1418.8" cy="831.2" r="4.6"/><circle cx="1428.1" cy="826.6" r="4.6"/><circle cx="1434" cy="828.7" r="4.6"/><circle cx="1432.8" cy="830.8" r="4.6"/><circle cx="1445.1" cy="826.9" r="4.6"/><circle cx="1441.6" cy="828.6" r="4.6"/><circle cx="1444.2" cy="829.3" r="4.6"/><circle cx="1447.1" cy="826.8" r="4.6"/><circle cx="1444.3" cy="831.1" r="4.6"/><circle cx="1447.2" cy="829.3" r="4.6"/><circle cx="1462" cy="828.1" r="4.6"/><circle cx="1465" cy="826.7" r="4.6"/><circle cx="1461" cy="830.7" r="4.6"/><circle cx="1457.9" cy="826" r="4.6"/><circle cx="1463.6" cy="826" r="4.6"/><circle cx="1474.7" cy="828.1" r="4.6"/><circle cx="1485.2" cy="829.4" r="4.6"/><circle cx="1485.2" cy="827.1" r="4.6"/><circle cx="1486.6" cy="828" r="4.6"/><circle cx="1484.7" cy="828.5" r="4.6"/><circle cx="1488.1" cy="829.8" r="4.6"/><circle cx="1495" cy="828.5" r="4.6"/><circle cx="1505.4" cy="826.8" r="4.6"/><circle cx="1511.2" cy="826.2" r="4.6"/><circle cx="1534.1" cy="830.8" r="4.6"/><circle cx="1617.9" cy="829" r="4.6"/><circle cx="1150.1" cy="836.7" r="4.6"/><circle cx="1157" cy="834.9" r="4.6"/><circle cx="1165" cy="833.8" r="4.6"/><circle cx="1175.5" cy="834.9" r="4.6"/><circle cx="1178.2" cy="832.9" r="4.6"/><circle cx="1181.3" cy="833.2" r="4.6"/><circle cx="1183.5" cy="833.4" r="4.6"/><circle cx="1188.5" cy="834.9" r="4.6"/><circle cx="1194.8" cy="836.2" r="4.6"/><circle cx="1198" cy="833.7" r="4.6"/><circle cx="1203.6" cy="835.1" r="4.6"/><circle cx="1207.7" cy="833.8" r="4.6"/><circle cx="1217" cy="837" r="4.6"/><circle cx="1219.5" cy="835.1" r="4.6"/><circle cx="1219" cy="835.9" r="4.6"/><circle cx="1214.7" cy="836.2" r="4.6"/><circle cx="1219.5" cy="835.9" r="4.6"/><circle cx="1232.4" cy="834.3" r="4.6"/><circle cx="1243.8" cy="832.2" r="4.6"/><circle cx="1251.8" cy="834.2" r="4.6"/><circle cx="1268.3" cy="832.7" r="4.6"/><circle cx="1276.2" cy="833.4" r="4.6"/><circle cx="1278.7" cy="833.9" r="4.6"/><circle cx="1286.8" cy="837.2" r="4.6"/><circle cx="1286.5" cy="834.7" r="4.6"/><circle cx="1291.8" cy="834.7" r="4.6"/><circle cx="1286" cy="832.9" r="4.6"/><circle cx="1294.8" cy="833.9" r="4.6"/><circle cx="1303.7" cy="837.5" r="4.6"/><circle cx="1311.7" cy="835" r="4.6"/><circle cx="1314.5" cy="836.4" r="4.6"/><circle cx="1326.6" cy="837.5" r="4.6"/><circle cx="1321.9" cy="833.9" r="4.6"/><circle cx="1336.8" cy="836.7" r="4.6"/><circle cx="1343.2" cy="835.8" r="4.6"/><circle cx="1348.9" cy="837.4" r="4.6"/><circle cx="1346.2" cy="832.8" r="4.6"/><circle cx="1352.5" cy="834.3" r="4.6"/><circle cx="1365.2" cy="832.5" r="4.6"/><circle cx="1365.5" cy="833.6" r="4.6"/><circle cx="1389.1" cy="836.7" r="4.6"/><circle cx="1404.3" cy="837.1" r="4.6"/><circle cx="1404.1" cy="836.8" r="4.6"/><circle cx="1404.9" cy="831.9" r="4.6"/><circle cx="1404.9" cy="831.7" r="4.6"/><circle cx="1412.8" cy="833.2" r="4.6"/><circle cx="1428.9" cy="833.4" r="4.6"/><circle cx="1431.3" cy="832.2" r="4.6"/><circle cx="1434.1" cy="832.9" r="4.6"/><circle cx="1445.1" cy="831.8" r="4.6"/><circle cx="1432.5" cy="837.6" r="4.6"/><circle cx="1443" cy="837.6" r="4.6"/><circle cx="1462.6" cy="834.6" r="4.6"/><circle cx="1458.3" cy="834" r="4.6"/><circle cx="1460.2" cy="834.1" r="4.6"/><circle cx="1470.6" cy="833.6" r="4.6"/><circle cx="1484.4" cy="832.9" r="4.6"/><circle cx="1478.5" cy="834.5" r="4.6"/><circle cx="1484.9" cy="833.8" r="4.6"/><circle cx="1485.2" cy="835.3" r="4.6"/><circle cx="1545" cy="832.6" r="4.6"/><circle cx="1164.4" cy="838" r="4.6"/><circle cx="1170.3" cy="838.9" r="4.6"/><circle cx="1182.5" cy="838.5" r="4.6"/><circle cx="1179.5" cy="838.1" r="4.6"/><circle cx="1182.7" cy="838.6" r="4.6"/><circle cx="1180.5" cy="837.8" r="4.6"/><circle cx="1184.1" cy="837.8" r="4.6"/><circle cx="1192.2" cy="837.3" r="4.6"/><circle cx="1198.8" cy="838.5" r="4.6"/><circle cx="1201" cy="838.4" r="4.6"/><circle cx="1201.5" cy="838.9" r="4.6"/><circle cx="1202.7" cy="837.7" r="4.6"/><circle cx="1207.1" cy="837" r="4.6"/><circle cx="1216.8" cy="838.5" r="4.6"/><circle cx="1219.9" cy="837.7" r="4.6"/><circle cx="1214.5" cy="838.3" r="4.6"/><circle cx="1219.7" cy="837.3" r="4.6"/><circle cx="1228.5" cy="837.5" r="4.6"/><circle cx="1231" cy="837.1" r="4.6"/><circle cx="1241.1" cy="838.4" r="4.6"/><circle cx="1246.8" cy="838.1" r="4.6"/><circle cx="1243.9" cy="838" r="4.6"/><circle cx="1246.2" cy="838.6" r="4.6"/><circle cx="1259.9" cy="837.9" r="4.6"/><circle cx="1261.2" cy="837.9" r="4.6"/><circle cx="1289" cy="837.1" r="4.6"/><circle cx="1313.1" cy="837.1" r="4.6"/><circle cx="1320.9" cy="838.2" r="4.6"/><circle cx="1312.9" cy="838.4" r="4.6"/><circle cx="1326.3" cy="838.2" r="4.6"/><circle cx="1325.4" cy="838" r="4.6"/><circle cx="1328.2" cy="839" r="4.6"/><circle cx="1353.6" cy="837.8" r="4.6"/><circle cx="1355.9" cy="838" r="4.6"/><circle cx="1365.2" cy="838.9" r="4.6"/><circle cx="1364.9" cy="837.1" r="4.6"/><circle cx="1365.1" cy="837.9" r="4.6"/><circle cx="1369.5" cy="838.4" r="4.6"/><circle cx="1394.4" cy="838.9" r="4.6"/><circle cx="1393.2" cy="838.8" r="4.6"/><circle cx="1410" cy="838.2" r="4.6"/><circle cx="1408.3" cy="837.4" r="4.6"/><circle cx="1418" cy="837.5" r="4.6"/><circle cx="1420" cy="837.7" r="4.6"/><circle cx="1428.2" cy="837.6" r="4.6"/><circle cx="1434.9" cy="837.8" r="4.6"/><circle cx="1439" cy="838.9" r="4.6"/><circle cx="1437.1" cy="838" r="4.6"/><circle cx="1444.5" cy="837.6" r="4.6"/><circle cx="1447.1" cy="838.6" r="4.6"/><circle cx="1454.2" cy="839" r="4.6"/><circle cx="1460.9" cy="838.4" r="4.6"/><circle cx="1462.9" cy="838.1" r="4.6"/><circle cx="1459.4" cy="838.5" r="4.6"/><circle cx="1468.2" cy="838.4" r="4.6"/><circle cx="1472.9" cy="838" r="4.6"/><circle cx="1473.4" cy="838" r="4.6"/><circle cx="1480.3" cy="837.5" r="4.6"/><circle cx="1479.7" cy="837.7" r="4.6"/><circle cx="1486.4" cy="837.4" r="4.6"/><circle cx="1555.1" cy="837.1" r="4.6"/><circle cx="1555.1" cy="837.8" r="4.6"/><circle cx="1592.5" cy="838.6" r="4.6"/><circle cx="1148.5" cy="837.1" r="4.6"/><circle cx="1158.1" cy="838.9" r="4.6"/><circle cx="1166.6" cy="838.3" r="4.6"/><circle cx="1178.3" cy="837.3" r="4.6"/><circle cx="1182.3" cy="838.5" r="4.6"/><circle cx="1188.9" cy="837.9" r="4.6"/><circle cx="1184.7" cy="837.2" r="4.6"/><circle cx="1188.9" cy="838" r="4.6"/><circle cx="1184.7" cy="838.7" r="4.6"/><circle cx="1192" cy="838.1" r="4.6"/><circle cx="1195" cy="838.8" r="4.6"/><circle cx="1193" cy="837.1" r="4.6"/><circle cx="1196.3" cy="838.1" r="4.6"/><circle cx="1195.5" cy="837.8" r="4.6"/><circle cx="1205.1" cy="837.5" r="4.6"/><circle cx="1210.7" cy="838.8" r="4.6"/><circle cx="1209.3" cy="837.1" r="4.6"/><circle cx="1207.1" cy="838.2" r="4.6"/><circle cx="1214.7" cy="838.4" r="4.6"/><circle cx="1218.1" cy="837.7" r="4.6"/><circle cx="1219.3" cy="837.8" r="4.6"/><circle cx="1233.4" cy="838.7" r="4.6"/><circle cx="1231.7" cy="837.3" r="4.6"/><circle cx="1250.8" cy="837.6" r="4.6"/><circle cx="1254.5" cy="837.7" r="4.6"/><circle cx="1258.1" cy="837.8" r="4.6"/><circle cx="1265.5" cy="837.9" r="4.6"/><circle cx="1259.2" cy="838.4" r="4.6"/><circle cx="1272.6" cy="837.5" r="4.6"/><circle cx="1290.3" cy="837.6" r="4.6"/><circle cx="1288.9" cy="838.9" r="4.6"/><circle cx="1300.6" cy="838.1" r="4.6"/><circle cx="1309" cy="838" r="4.6"/><circle cx="1354.2" cy="838.5" r="4.6"/><circle cx="1355.3" cy="838.9" r="4.6"/><circle cx="1351.8" cy="838.2" r="4.6"/><circle cx="1364.8" cy="837.5" r="4.6"/><circle cx="1367.6" cy="837.7" r="4.6"/><circle cx="1364.4" cy="837.4" r="4.6"/><circle cx="1365.2" cy="837.9" r="4.6"/><circle cx="1373.8" cy="838.1" r="4.6"/><circle cx="1371.9" cy="838.2" r="4.6"/><circle cx="1379.1" cy="837.7" r="4.6"/><circle cx="1377.8" cy="837.2" r="4.6"/><circle cx="1378.2" cy="838.3" r="4.6"/><circle cx="1379.3" cy="838" r="4.6"/><circle cx="1391.9" cy="838.5" r="4.6"/><circle cx="1392.8" cy="837.6" r="4.6"/><circle cx="1402.3" cy="837.9" r="4.6"/><circle cx="1409.6" cy="838.1" r="4.6"/><circle cx="1406.6" cy="837.6" r="4.6"/><circle cx="1425.6" cy="837.3" r="4.6"/><circle cx="1427.9" cy="838" r="4.6"/><circle cx="1431.3" cy="838.1" r="4.6"/><circle cx="1438.8" cy="837.4" r="4.6"/><circle cx="1451.5" cy="838.2" r="4.6"/><circle cx="1449.6" cy="837.2" r="4.6"/><circle cx="1457.8" cy="838.6" r="4.6"/><circle cx="1462" cy="838.4" r="4.6"/><circle cx="1470.5" cy="838.3" r="4.6"/><circle cx="1468.6" cy="837.7" r="4.6"/><circle cx="1471.8" cy="837.4" r="4.6"/><circle cx="1472.6" cy="837.8" r="4.6"/><circle cx="1481.3" cy="838.4" r="4.6"/><circle cx="1484.8" cy="838.2" r="4.6"/><circle cx="1484.6" cy="837.9" r="4.6"/><circle cx="1529.9" cy="837.5" r="4.6"/></g>
<path d="M1090.4 17V838M1221.2 17V838M1352.9 17V838M1484.5 17V838M1616.2 17V838M1750.6 17V838M1882.3 17V838M976.5 701.8H2013M976.5 564.6H2013M976.5 427.4H2013M976.5 290.2H2013M976.5 153H2013" stroke="#d2d2d2" stroke-width="1.6" stroke-dasharray="9.2 9.5" fill="none"/>
<path d="M1165.8 839L1574.2 15.7M1194.2 839L1637.1 15.7M1227.5 839L1711 15.7M1267.5 839L1799.8 15.7M1316.7 839L1908.4 15.7M1379.2 839L2013.9 50.6M1457.5 839L2013.9 235.4M1564.2 839L2013.9 419.2M1711 839L2013.9 603.7" stroke="#8ecac8" stroke-width="2.1" fill="none"/>
<path d="M1287.2 839.5L1839.3 22.4" stroke="#069a3d" stroke-width="4.2" fill="none"/>
<g fill="#1a1a1a" stroke="#000" stroke-width="1"><circle cx="1617.2" cy="153.6" r="7.9"/><circle cx="1636.4" cy="145.3" r="7.9"/><circle cx="1617.2" cy="184.8" r="7.9"/><circle cx="1617.2" cy="193.7" r="7.9"/><circle cx="1669.9" cy="132.8" r="7.9"/><circle cx="1669.9" cy="144.8" r="7.9"/><circle cx="1669.9" cy="151.5" r="7.9"/><circle cx="1669.9" cy="158.8" r="7.9"/><circle cx="1670.3" cy="167.7" r="7.9"/><circle cx="1657" cy="182.2" r="7.9"/><circle cx="1683.3" cy="117.7" r="7.9"/><circle cx="1683.3" cy="121.3" r="7.9"/><circle cx="1696.8" cy="118.7" r="7.9"/><circle cx="1696.8" cy="125.5" r="7.9"/><circle cx="1696.8" cy="131.7" r="7.9"/><circle cx="1696.8" cy="136.4" r="7.9"/><circle cx="1689.5" cy="134.3" r="7.9"/><circle cx="1704.1" cy="130.7" r="7.9"/><circle cx="1716" cy="120.8" r="7.9"/><circle cx="1725.9" cy="115.1" r="7.9"/><circle cx="1689.5" cy="150" r="7.9"/><circle cx="1683.8" cy="157.8" r="7.9"/><circle cx="1703" cy="152" r="7.9"/><circle cx="1703" cy="155.2" r="7.9"/><circle cx="1710.3" cy="158.3" r="7.9"/><circle cx="1710.3" cy="163" r="7.9"/><circle cx="1703.6" cy="174.4" r="7.9"/><circle cx="1718.6" cy="174.4" r="7.9"/><circle cx="1696.8" cy="189.5" r="7.9"/><circle cx="1705.1" cy="188.5" r="7.9"/><circle cx="1723.3" cy="144.2" r="7.9"/><circle cx="1729" cy="135.9" r="7.9"/><circle cx="1716" cy="203.5" r="7.9"/><circle cx="1740.3" cy="110.9" r="7.9"/><circle cx="1738.7" cy="138" r="7.9"/><circle cx="1726.2" cy="151" r="7.9"/><circle cx="1742.4" cy="140.1" r="7.9"/><circle cx="1737.7" cy="145.8" r="7.9"/><circle cx="1751.2" cy="140.6" r="7.9"/><circle cx="1749.7" cy="145.8" r="7.9"/><circle cx="1755.9" cy="132.8" r="7.9"/><circle cx="1763.2" cy="132.8" r="7.9"/><circle cx="1763.2" cy="136.4" r="7.9"/><circle cx="1781.9" cy="142.2" r="7.9"/><circle cx="1780.4" cy="145.8" r="7.9"/><circle cx="1772" cy="146.8" r="7.9"/><circle cx="1767.9" cy="152" r="7.9"/><circle cx="1776.7" cy="155.2" r="7.9"/><circle cx="1759.5" cy="157.8" r="7.9"/><circle cx="1789.7" cy="158.8" r="7.9"/><circle cx="1802.7" cy="132.8" r="7.9"/><circle cx="1802.7" cy="136.4" r="7.9"/><circle cx="1802.7" cy="141.6" r="7.9"/><circle cx="1796.5" cy="145.3" r="7.9"/><circle cx="1735.6" cy="164.5" r="7.9"/><circle cx="1736.1" cy="168.2" r="7.9"/><circle cx="1754.3" cy="164.5" r="7.9"/><circle cx="1758.5" cy="166.1" r="7.9"/><circle cx="1763.2" cy="164.5" r="7.9"/><circle cx="1773.1" cy="165" r="7.9"/><circle cx="1779.8" cy="165" r="7.9"/><circle cx="1765.8" cy="172.9" r="7.9"/><circle cx="1760.6" cy="173.9" r="7.9"/><circle cx="1751.2" cy="176" r="7.9"/><circle cx="1734" cy="182.7" r="7.9"/><circle cx="1743.4" cy="181.2" r="7.9"/><circle cx="1754.9" cy="182.2" r="7.9"/><circle cx="1747" cy="190.5" r="7.9"/><circle cx="1755.4" cy="197.3" r="7.9"/><circle cx="1762.7" cy="189.5" r="7.9"/><circle cx="1761.6" cy="193.7" r="7.9"/><circle cx="1789.2" cy="173.9" r="7.9"/><circle cx="1802.7" cy="169.2" r="7.9"/><circle cx="1797" cy="175.5" r="7.9"/><circle cx="1802.7" cy="177.5" r="7.9"/><circle cx="1802.2" cy="186.4" r="7.9"/><circle cx="1809" cy="191.1" r="7.9"/><circle cx="1820.4" cy="190.5" r="7.9"/><circle cx="1836" cy="183.3" r="7.9"/><circle cx="1838.7" cy="189.5" r="7.9"/><circle cx="1633.3" cy="208.7" r="7.9"/><circle cx="1670.8" cy="212.4" r="7.9"/><circle cx="1663.5" cy="217.1" r="7.9"/><circle cx="1686.9" cy="221.7" r="7.9"/><circle cx="1685.9" cy="229" r="7.9"/><circle cx="1701.5" cy="215" r="7.9"/><circle cx="1710.8" cy="218.1" r="7.9"/><circle cx="1706.2" cy="226.4" r="7.9"/><circle cx="1709.3" cy="237.4" r="7.9"/><circle cx="1685.3" cy="241.5" r="7.9"/><circle cx="1691.6" cy="244.6" r="7.9"/><circle cx="1701" cy="248.8" r="7.9"/><circle cx="1728" cy="206.1" r="7.9"/><circle cx="1729" cy="215" r="7.9"/><circle cx="1729.6" cy="228" r="7.9"/><circle cx="1666.1" cy="243.6" r="7.9"/><circle cx="1625.5" cy="254" r="7.9"/><circle cx="1715" cy="266.5" r="7.9"/><circle cx="1729.5" cy="269.1" r="7.9"/><circle cx="1639" cy="288.4" r="7.9"/><circle cx="1680" cy="270" r="7.9"/><circle cx="1735.1" cy="241.5" r="7.9"/><circle cx="1750.2" cy="241.5" r="7.9"/><circle cx="1739.8" cy="254" r="7.9"/><circle cx="1748.1" cy="224.9" r="7.9"/><circle cx="1768.9" cy="212.9" r="7.9"/><circle cx="1761.1" cy="205.6" r="7.9"/><circle cx="1747" cy="207.2" r="7.9"/><circle cx="1753.3" cy="206.7" r="7.9"/><circle cx="1775.2" cy="234.8" r="7.9"/><circle cx="1780.4" cy="234.8" r="7.9"/><circle cx="1779.3" cy="241.5" r="7.9"/><circle cx="1820.4" cy="235.8" r="7.9"/><circle cx="1618.6" cy="304.8" r="7.9"/><circle cx="1637.9" cy="318.2" r="7.9"/><circle cx="1649.3" cy="324.9" r="7.9"/><circle cx="1668.1" cy="301" r="7.9"/></g>
<path d="M1590 261.6H1748M1669.3 172.5V318" stroke="#f0f" stroke-width="3.2" stroke-dasharray="14 8.5" fill="none"/>
<path d="M1589.9 425.8H1749.1M1669.4 318.4V551.4M1589.9 412.5V439.1M1749.1 412.5V439.1M1656.1 318.4H1682.7M1656.1 551.4H1682.7" stroke="#f0f" stroke-width="3.1" fill="none"/>
<path d="M1523.9 468.8H1709.7M1616.1 397V548" stroke="#00f" stroke-width="3.1" stroke-dasharray="15.3 3.2" fill="none"/>
<path d="M1523.8 620.5H1709.8M1616.1 548.2V743.8M1523.8 607.2V633.8M1709.8 607.2V633.8M1602.8 548.2H1629.4M1602.8 743.8H1629.4" stroke="#00f" stroke-width="3.1" fill="none"/>
<path d="M1280.2 236.5H1412M1346 192.8V291" stroke="#f00" stroke-width="3.2" stroke-dasharray="5.6 2.9" fill="none"/>
<path d="M1281 484.4H1413.3M1346.3 429.5V539.2M1281 471.1V497.7M1413.3 471.1V497.7M1333 429.5H1359.6M1333 539.2H1359.6" stroke="#f00" stroke-width="3.1" fill="none"/>
<g fill="#fff" stroke-width="2.7"><circle cx="1669.2" cy="261.6" r="16.4" stroke="#f0f"/><circle cx="1616.1" cy="468.8" r="16.7" stroke="#00f"/><circle cx="1345.9" cy="236.5" r="16.4" stroke="#f00"/></g>
<g stroke="#000" stroke-width="2.2"><circle cx="1669.6" cy="425.8" r="17" fill="#f0f"/><circle cx="1616" cy="620.5" r="17" fill="#00f"/><circle cx="1346.5" cy="484.4" r="17.2" fill="#f00"/></g>
<rect x="955.1" y="15.7" width="1058.8" height="823.3" fill="none" stroke="#000" stroke-width="2.2"/>
<path d="M983.2 839v-8.5M1008.2 839v-8.5M1036.4 839v-8.5M1061.8 839v-8.5M1090.1 839v-14M1114.4 839v-8.5M1139.4 839v-8.5M1168 839v-8.5M1193.4 839v-8.5M1220.9 839v-14M1246.4 839v-8.5M1274.2 839v-8.5M1299.6 839v-8.5M1327.6 839v-8.5M1352.6 839v-14M1378.1 839v-8.5M1406 839v-8.5M1431 839v-8.5M1459 839v-8.5M1484.2 839v-14M1512.2 839v-8.5M1537.5 839v-8.5M1563.1 839v-8.5M1590.9 839v-8.5M1615.9 839v-14M1643.9 839v-8.5M1669.3 839v-8.5M1697.3 839v-8.5M1722.3 839v-8.5M1750.3 839v-14M1775.7 839v-8.5M1800.9 839v-8.5M1828.8 839v-8.5M1854.1 839v-8.5M1882 839v-14M1907.3 839v-8.5M1935.2 839v-8.5M1960.7 839v-8.5M1988.8 839v-8.5M955 15.7h15M955 43.8h9M955 71.6h9M955 99.7h9M955 124.9h9M955 152.9h15M955 181h9M955 208.8h9M955 236.9h9M955 262.1h9M955 290.1h15M955 318.2h9M955 346h9M955 374.1h9M955 399.3h9M955 427.4h15M955 455.5h9M955 483.3h9M955 511.4h9M955 536.6h9M955 564.6h15M955 592.7h9M955 620.5h9M955 648.6h9M955 673.8h9M955 701.8h15M955 729.9h9M955 757.7h9M955 785.8h9M955 811h9" stroke="#000" stroke-width="2" fill="none"/>
</g>
<g id="labels">
<text font-weight="bold"><tspan x="38.2" y="73.9" font-size="39" letter-spacing="2.03">(a)</tspan></text>
<text><tspan x="159.0" y="83.8" font-size="36" letter-spacing="2.47">Reference</tspan> <tspan x="354.0" y="83.8" font-size="36" letter-spacing="2.52">Column</tspan></text>
<text><tspan x="13.6" y="169.9" font-size="33.5" letter-spacing="1.42">Sea</tspan> <tspan x="86.7" y="169.9" font-size="33.5" letter-spacing="1.92">level</tspan></text>
<text><tspan x="264.5" y="145.7" font-size="33" font-style="italic">h</tspan><tspan x="285.1" y="153.0" font-size="16.5">0</tspan><tspan x="296.2" y="145.7" font-size="33" letter-spacing="2.50">=5km</tspan></text>
<text font-style="italic"><tspan x="518.7" y="157.8" font-size="33">h</tspan></text>
<text fill="#231815"><tspan x="278.5" y="406.2" font-size="33.5">ρ</tspan><tspan x="300.0" y="412.8" font-size="16" letter-spacing="2.19">c0</tspan><tspan x="321.3" y="406.2" font-size="33.5">=</tspan></text>
<text fill="#231815"><tspan x="224.7" y="443.0" font-size="33.8" letter-spacing="1.90">2.87</tspan> <tspan x="304.6" y="443.0" font-size="33.8" letter-spacing="1.82">g/cm</tspan> <tspan x="384.9" y="427.3" font-size="15.6">3</tspan></text>
<text><tspan x="227.7" y="518.9" font-size="33.5">H</tspan><tspan x="254.8" y="524.9" font-size="16.5">0</tspan><tspan x="266.2" y="518.9" font-size="33.5" letter-spacing="1.85">=70</tspan><tspan x="335.7" y="518.9" font-size="33.5" letter-spacing="2.82">km</tspan></text>
<text fill="#231815"><tspan x="529.5" y="409.5" font-size="33.5">ρ</tspan><tspan x="551.0" y="415.4" font-size="16">c</tspan></text>
<text><tspan x="486.8" y="487.0" font-size="33.5">H</tspan></text>
<text><tspan x="641.0" y="670.0" font-size="33" letter-spacing="2.78">Moho</tspan></text>
<text fill="#231815"><tspan x="444.7" y="719.3" font-size="33.5">ρ</tspan><tspan x="465.8" y="725.0" font-size="15.2">m</tspan><tspan x="482.0" y="719.1" font-size="33.8" letter-spacing="1.76">=3.35</tspan><tspan x="583.9" y="719.1" font-size="33.8" letter-spacing="1.86">g/cm</tspan><tspan x="663.8" y="702.6" font-size="15.6">3</tspan></text>
<text><tspan x="434.3" y="830.9" font-size="29.5" letter-spacing="2.03">Crustal</tspan> <tspan x="548.1" y="830.9" font-size="29.5" letter-spacing="1.89">isostatic</tspan></text>
<text><tspan x="409.5" y="863.7" font-size="29.5" letter-spacing="1.99">compensation</tspan> <tspan x="623.0" y="863.7" font-size="29.5" letter-spacing="2.12">depth</tspan></text>
<text><tspan x="107.0" y="892.9" font-size="33" letter-spacing="2.88">Moho</tspan></text>
<text font-weight="bold"><tspan x="1014.1" y="83.7" font-size="38.5" letter-spacing="3.24">(b)</tspan></text>
<text><tspan x="917.3" y="27.4" font-size="37">6</tspan></text>
<text><tspan x="917.2" y="164.6" font-size="37">5</tspan></text>
<text><tspan x="916.7" y="301.8" font-size="37">4</tspan></text>
<text><tspan x="917.3" y="439.0" font-size="37">3</tspan></text>
<text><tspan x="917.5" y="576.2" font-size="37">2</tspan></text>
<text><tspan x="917.5" y="713.4" font-size="37">1</tspan></text>
<text><tspan x="917.1" y="850.6" font-size="37">0</tspan></text>
<text><tspan x="939.1" y="892.3" font-size="37" letter-spacing="1.82">10</tspan></text>
<text><tspan x="1068.8" y="892.3" font-size="37" letter-spacing="3.27">20</tspan></text>
<text><tspan x="1203.7" y="892.3" font-size="37" letter-spacing="3.27">30</tspan></text>
<text><tspan x="1335.9" y="892.3" font-size="37" letter-spacing="3.05">40</tspan></text>
<text><tspan x="1467.7" y="892.3" font-size="37" letter-spacing="3.79">50</tspan></text>
<text><tspan x="1597.8" y="892.3" font-size="37" letter-spacing="4.30">60</tspan></text>
<text><tspan x="1730.7" y="892.3" font-size="37" letter-spacing="3.50">70</tspan></text>
<text><tspan x="1864.4" y="892.3" font-size="37" letter-spacing="3.78">80</tspan></text>
<text><tspan x="1995.8" y="892.3" font-size="37" letter-spacing="3.88">90</tspan></text>
<text transform="translate(863.3 557.0) rotate(-90)"><tspan x="-3.5" y="0.0" font-size="42" letter-spacing="1.92">Elevation</tspan> <tspan x="194.4" y="0.0" font-size="42" letter-spacing="2.20">(km)</tspan></text>
<text><tspan x="1246.4" y="951.5" font-size="40.5" letter-spacing="2.90">Crustal</tspan> <tspan x="1403.0" y="951.5" font-size="40.5" letter-spacing="2.48">thickness</tspan> <tspan x="1603.2" y="951.5" font-size="40.5" letter-spacing="3.27">(km)</tspan></text>
<text fill="#f00"><tspan x="1194.0" y="544.5" font-size="36" letter-spacing="3.84">~55</tspan> <tspan x="1273.0" y="544.5" font-size="36" letter-spacing="2.10">Ma</tspan></text>
<text fill="#ff99c9"><tspan x="1683.6" y="412.7" font-size="36" letter-spacing="3.28">~30</tspan> <tspan x="1761.7" y="412.7" font-size="36" letter-spacing="2.50">Ma</tspan></text>
<text fill="#00f"><tspan x="1462.3" y="668.4" font-size="36" letter-spacing="3.98">~80</tspan> <tspan x="1540.4" y="668.4" font-size="36" letter-spacing="2.80">Ma</tspan></text>
<text transform="translate(1525.3 91.8) rotate(-63.6)"><tspan x="0.0" y="0.0" font-size="29.5" letter-spacing="2.30">2.70</tspan></text>
<text transform="translate(1589.3 91.6) rotate(-61.7)"><tspan x="0.0" y="0.0" font-size="29.5" letter-spacing="2.30">2.75</tspan></text>
<text transform="translate(1662.7 85.5) rotate(-59.6)"><tspan x="0.0" y="0.0" font-size="29.5" letter-spacing="2.30">2.80</tspan></text>
<text transform="translate(1741.8 85.7) rotate(-57.1)"><tspan x="0.0" y="0.0" font-size="29.5" letter-spacing="2.30">2.85</tspan></text>
<text transform="translate(1847.3 89.0) rotate(-54.3)"><tspan x="0.0" y="0.0" font-size="29.5" letter-spacing="2.30">2.90</tspan></text>
<text transform="translate(1921.0 153.1) rotate(-51.2)"><tspan x="0.0" y="0.0" font-size="29.5" letter-spacing="2.30">2.95</tspan></text>
<text transform="translate(1926.4 309.7) rotate(-47.3)"><tspan x="0.0" y="0.0" font-size="29.5" letter-spacing="2.30">3.00</tspan></text>
<text transform="translate(1914.0 497.3) rotate(-43)"><tspan x="0.0" y="0.0" font-size="29.5" letter-spacing="2.30">3.05</tspan></text>
<text transform="translate(1932.3 652.2) rotate(-37.8)"><tspan x="0.0" y="0.0" font-size="29.5" letter-spacing="2.30">3.10</tspan></text>
<text fill="#069a3d" transform="translate(1786.6 84.2) rotate(-55.9)"><tspan x="0.0" y="0.0" font-size="29.5" letter-spacing="2.30">2.87</tspan></text>
<text fill="#069a3d" font-weight="bold" transform="translate(1526.1 469.4) rotate(-55)"><tspan x="0.0" y="0.0" font-size="29" letter-spacing="1.90">best-fit line</tspan></text>
</g>
</svg>
</body></html>
